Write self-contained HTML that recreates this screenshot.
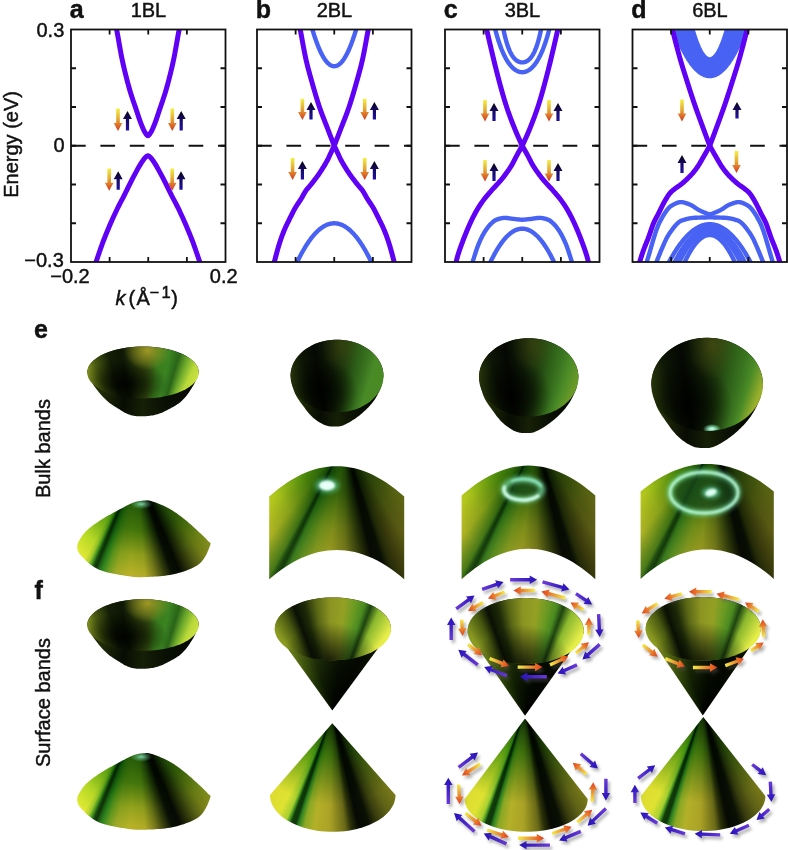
<!DOCTYPE html>
<html><head><meta charset="utf-8"><style>
html,body{margin:0;padding:0;background:#fff;width:788px;height:850px;overflow:hidden;}
body{position:relative;} .L{position:absolute;left:0;top:0;display:block;} .s{position:absolute;}
</style></head><body>
<svg class="L" style="filter:blur(0.35px)" width="788" height="850" viewBox="0 0 788 850"><defs>
<linearGradient id="gdn" x1="0" y1="0" x2="0" y2="1"><stop offset="0" stop-color="#f4f040"/><stop offset="0.5" stop-color="#e4a430"/><stop offset="1" stop-color="#d43420"/></linearGradient>
<linearGradient id="gup" x1="0" y1="1" x2="0" y2="0"><stop offset="0" stop-color="#2010a8"/><stop offset="0.55" stop-color="#160a60"/><stop offset="1" stop-color="#080210"/></linearGradient>
<clipPath id="cp0"><rect x="71" y="29.5" width="154.5" height="232.5"/></clipPath>
<clipPath id="cp1"><rect x="257" y="29.5" width="154.5" height="232.5"/></clipPath>
<clipPath id="cp2"><rect x="445" y="29.5" width="154.5" height="232.5"/></clipPath>
<clipPath id="cp3"><rect x="632.5" y="29.5" width="154.5" height="232.5"/></clipPath>
</defs>
<g clip-path="url(#cp0)">
<line x1="71" y1="145.75" x2="225.5" y2="145.75" stroke="#111" stroke-width="1.9" stroke-dasharray="14.7 14.7" stroke-dashoffset="0"/>
</g>
<g clip-path="url(#cp1)">
<line x1="257" y1="145.75" x2="411.5" y2="145.75" stroke="#111" stroke-width="1.9" stroke-dasharray="14.7 14.7" stroke-dashoffset="0"/>
</g>
<g clip-path="url(#cp2)">
<line x1="445" y1="145.75" x2="599.5" y2="145.75" stroke="#111" stroke-width="1.9" stroke-dasharray="14.7 14.7" stroke-dashoffset="0"/>
</g>
<g clip-path="url(#cp3)">
<line x1="632.5" y1="145.75" x2="787.0" y2="145.75" stroke="#111" stroke-width="1.9" stroke-dasharray="14.7 14.7" stroke-dashoffset="0"/>
</g>
<g clip-path="url(#cp0)" fill="none" stroke-linecap="butt" stroke-linejoin="round">
<path d="M113.9,17 L114.47,19.53 L115.04,22.12 L115.61,24.77 L116.19,27.49 L116.76,30.28 L117.33,33.22 L117.9,36.31 L118.47,39.5 L119.04,42.75 L119.61,46.02 L120.19,49.25 L120.76,52.41 L121.33,55.46 L121.9,58.34 L122.47,61.02 L123.04,63.61 L123.61,66.15 L124.19,68.62 L124.76,71.04 L125.33,73.41 L125.9,75.72 L126.47,77.98 L127.04,80.19 L127.61,82.35 L128.19,84.46 L128.76,86.52 L129.33,88.54 L129.9,90.51 L130.47,92.43 L131.04,94.27 L131.61,96.07 L132.19,97.82 L132.76,99.53 L133.33,101.22 L133.9,102.88 L134.47,104.54 L135.04,106.19 L135.61,107.85 L136.19,109.52 L136.76,111.21 L137.33,112.94 L137.9,114.68 L138.47,116.42 L139.04,118.14 L139.61,119.82 L140.19,121.45 L140.76,123 L141.33,124.46 L141.9,125.84 L142.47,127.2 L143.04,128.52 L143.61,129.78 L144.19,130.95 L144.76,132 L145.33,132.9 L145.9,133.73 L146.47,134.55 L147.04,135.23 L147.61,135.64 L148.19,135.64 L148.76,135.23 L149.33,134.55 L149.9,133.73 L150.47,132.9 L151.04,132 L151.61,130.95 L152.19,129.78 L152.76,128.52 L153.33,127.2 L153.9,125.84 L154.47,124.46 L155.04,123 L155.61,121.45 L156.19,119.82 L156.76,118.14 L157.33,116.42 L157.9,114.68 L158.47,112.94 L159.04,111.21 L159.61,109.52 L160.19,107.85 L160.76,106.19 L161.33,104.54 L161.9,102.88 L162.47,101.22 L163.04,99.53 L163.61,97.82 L164.19,96.07 L164.76,94.27 L165.33,92.43 L165.9,90.51 L166.47,88.54 L167.04,86.52 L167.61,84.46 L168.19,82.35 L168.76,80.19 L169.33,77.98 L169.9,75.72 L170.47,73.41 L171.04,71.04 L171.61,68.62 L172.19,66.15 L172.76,63.61 L173.33,61.02 L173.9,58.34 L174.47,55.46 L175.04,52.41 L175.61,49.25 L176.19,46.02 L176.76,42.75 L177.33,39.5 L177.9,36.31 L178.47,33.22 L179.04,30.28 L179.61,27.49 L180.19,24.77 L180.76,22.12 L181.33,19.53 L181.9,17" stroke="#6000f4" stroke-width="5.0"/>
<path d="M91.9,275 L92.84,271.98 L93.78,268.99 L94.72,266.05 L95.66,263.16 L96.61,260.33 L97.55,257.52 L98.49,254.72 L99.43,251.96 L100.37,249.24 L101.31,246.58 L102.25,243.98 L103.19,241.45 L104.14,239.01 L105.08,236.62 L106.02,234.27 L106.96,231.95 L107.9,229.68 L108.84,227.44 L109.78,225.24 L110.72,223.07 L111.66,220.93 L112.61,218.83 L113.55,216.75 L114.49,214.71 L115.43,212.69 L116.37,210.69 L117.31,208.73 L118.25,206.84 L119.19,205 L120.14,203.2 L121.08,201.41 L122.02,199.63 L122.96,197.83 L123.9,196 L124.84,194.13 L125.78,192.23 L126.72,190.32 L127.66,188.39 L128.61,186.47 L129.55,184.55 L130.49,182.64 L131.43,180.76 L132.37,178.91 L133.31,177.11 L134.25,175.34 L135.19,173.58 L136.14,171.83 L137.08,170.1 L138.02,168.4 L138.96,166.75 L139.9,165.15 L140.84,163.62 L141.78,162.17 L142.72,160.78 L143.66,159.42 L144.61,158.22 L145.55,157.27 L146.49,156.41 L147.43,155.79 L148.37,155.79 L149.31,156.41 L150.25,157.27 L151.19,158.22 L152.14,159.42 L153.08,160.78 L154.02,162.17 L154.96,163.62 L155.9,165.15 L156.84,166.75 L157.78,168.4 L158.72,170.1 L159.66,171.83 L160.61,173.58 L161.55,175.34 L162.49,177.11 L163.43,178.91 L164.37,180.76 L165.31,182.64 L166.25,184.55 L167.19,186.47 L168.14,188.39 L169.08,190.32 L170.02,192.23 L170.96,194.13 L171.9,196 L172.84,197.83 L173.78,199.63 L174.72,201.41 L175.66,203.2 L176.61,205 L177.55,206.84 L178.49,208.73 L179.43,210.69 L180.37,212.69 L181.31,214.71 L182.25,216.75 L183.19,218.83 L184.14,220.93 L185.08,223.07 L186.02,225.24 L186.96,227.44 L187.9,229.68 L188.84,231.95 L189.78,234.27 L190.72,236.62 L191.66,239.01 L192.61,241.45 L193.55,243.98 L194.49,246.58 L195.43,249.24 L196.37,251.96 L197.31,254.72 L198.25,257.52 L199.19,260.33 L200.14,263.16 L201.08,266.05 L202.02,268.99 L202.96,271.98 L203.9,275" stroke="#6000f4" stroke-width="5.0"/>
</g>
<g clip-path="url(#cp1)" fill="none" stroke-linecap="butt" stroke-linejoin="round">
<path d="M306.25,5.99 L306.6,7.5 L306.96,9 L307.31,10.47 L307.67,11.93 L308.02,13.37 L308.38,14.79 L308.73,16.19 L309.09,17.57 L309.44,18.93 L309.79,20.27 L310.15,21.59 L310.5,22.89 L310.86,24.17 L311.21,25.44 L311.57,26.68 L311.92,27.91 L312.28,29.11 L312.63,30.3 L312.98,31.47 L313.34,32.62 L313.69,33.75 L314.05,34.85 L314.4,35.94 L314.76,37.02 L315.11,38.07 L315.47,39.1 L315.82,40.11 L316.17,41.11 L316.53,42.08 L316.88,43.04 L317.24,43.97 L317.59,44.89 L317.95,45.79 L318.3,46.66 L318.66,47.52 L319.01,48.36 L319.36,49.18 L319.72,49.98 L320.07,50.76 L320.43,51.53 L320.78,52.27 L321.14,52.99 L321.49,53.7 L321.84,54.38 L322.2,55.05 L322.55,55.69 L322.91,56.32 L323.26,56.93 L323.62,57.52 L323.97,58.09 L324.33,58.64 L324.68,59.17 L325.03,59.68 L325.39,60.17 L325.74,60.64 L326.1,61.1 L326.45,61.53 L326.81,61.95 L327.16,62.34 L327.52,62.72 L327.87,63.07 L328.22,63.41 L328.58,63.73 L328.93,64.03 L329.29,64.31 L329.64,64.57 L330,64.81 L330.35,65.03 L330.71,65.24 L331.06,65.42 L331.41,65.58 L331.77,65.73 L332.12,65.85 L332.48,65.96 L332.83,66.05 L333.19,66.11 L333.54,66.16 L333.9,66.19 L334.25,66.2 L334.6,66.19 L334.96,66.16 L335.31,66.11 L335.67,66.05 L336.02,65.96 L336.38,65.85 L336.73,65.73 L337.09,65.58 L337.44,65.42 L337.79,65.24 L338.15,65.03 L338.5,64.81 L338.86,64.57 L339.21,64.31 L339.57,64.03 L339.92,63.73 L340.28,63.41 L340.63,63.07 L340.98,62.72 L341.34,62.34 L341.69,61.95 L342.05,61.53 L342.4,61.1 L342.76,60.64 L343.11,60.17 L343.47,59.68 L343.82,59.17 L344.17,58.64 L344.53,58.09 L344.88,57.52 L345.24,56.93 L345.59,56.32 L345.95,55.69 L346.3,55.05 L346.66,54.38 L347.01,53.7 L347.36,52.99 L347.72,52.27 L348.07,51.53 L348.43,50.76 L348.78,49.98 L349.14,49.18 L349.49,48.36 L349.84,47.52 L350.2,46.66 L350.55,45.79 L350.91,44.89 L351.26,43.97 L351.62,43.04 L351.97,42.08 L352.33,41.11 L352.68,40.11 L353.03,39.1 L353.39,38.07 L353.74,37.02 L354.1,35.94 L354.45,34.85 L354.81,33.75 L355.16,32.62 L355.52,31.47 L355.87,30.3 L356.22,29.11 L356.58,27.91 L356.93,26.68 L357.29,25.44 L357.64,24.17 L358,22.89 L358.35,21.59 L358.71,20.27 L359.06,18.93 L359.41,17.57 L359.77,16.19 L360.12,14.79 L360.48,13.37 L360.83,11.93 L361.19,10.47 L361.54,9 L361.9,7.5 L362.25,5.99" stroke="#4862f4" stroke-width="4.4"/>
<path d="M289.25,280.41 L289.82,278.97 L290.39,277.55 L290.96,276.15 L291.53,274.77 L292.1,273.41 L292.67,272.06 L293.24,270.73 L293.81,269.43 L294.38,268.13 L294.95,266.86 L295.52,265.61 L296.09,264.37 L296.66,263.16 L297.22,261.96 L297.79,260.78 L298.36,259.62 L298.93,258.47 L299.5,257.35 L300.07,256.24 L300.64,255.15 L301.21,254.08 L301.78,253.03 L302.35,251.99 L302.92,250.98 L303.49,249.98 L304.06,249 L304.63,248.04 L305.2,247.1 L305.77,246.17 L306.34,245.27 L306.91,244.38 L307.48,243.51 L308.05,242.66 L308.62,241.83 L309.19,241.01 L309.76,240.22 L310.33,239.44 L310.9,238.68 L311.47,237.94 L312.03,237.22 L312.6,236.51 L313.17,235.83 L313.74,235.16 L314.31,234.51 L314.88,233.88 L315.45,233.26 L316.02,232.67 L316.59,232.09 L317.16,231.53 L317.73,231 L318.3,230.47 L318.87,229.97 L319.44,229.49 L320.01,229.02 L320.58,228.57 L321.15,228.14 L321.72,227.73 L322.29,227.34 L322.86,226.96 L323.43,226.6 L324,226.26 L324.57,225.94 L325.14,225.64 L325.71,225.36 L326.28,225.09 L326.84,224.85 L327.41,224.62 L327.98,224.41 L328.55,224.21 L329.12,224.04 L329.69,223.89 L330.26,223.75 L330.83,223.63 L331.4,223.53 L331.97,223.45 L332.54,223.38 L333.11,223.34 L333.68,223.31 L334.25,223.3 L334.82,223.31 L335.39,223.34 L335.96,223.38 L336.53,223.45 L337.1,223.53 L337.67,223.63 L338.24,223.75 L338.81,223.89 L339.38,224.04 L339.95,224.21 L340.52,224.41 L341.09,224.62 L341.66,224.85 L342.22,225.09 L342.79,225.36 L343.36,225.64 L343.93,225.94 L344.5,226.26 L345.07,226.6 L345.64,226.96 L346.21,227.34 L346.78,227.73 L347.35,228.14 L347.92,228.57 L348.49,229.02 L349.06,229.49 L349.63,229.97 L350.2,230.47 L350.77,231 L351.34,231.53 L351.91,232.09 L352.48,232.67 L353.05,233.26 L353.62,233.88 L354.19,234.51 L354.76,235.16 L355.33,235.83 L355.9,236.51 L356.47,237.22 L357.03,237.94 L357.6,238.68 L358.17,239.44 L358.74,240.22 L359.31,241.01 L359.88,241.83 L360.45,242.66 L361.02,243.51 L361.59,244.38 L362.16,245.27 L362.73,246.17 L363.3,247.1 L363.87,248.04 L364.44,249 L365.01,249.98 L365.58,250.98 L366.15,251.99 L366.72,253.03 L367.29,254.08 L367.86,255.15 L368.43,256.24 L369,257.35 L369.57,258.47 L370.14,259.62 L370.71,260.78 L371.28,261.96 L371.84,263.16 L372.41,264.37 L372.98,265.61 L373.55,266.86 L374.12,268.13 L374.69,269.43 L375.26,270.73 L375.83,272.06 L376.4,273.41 L376.97,274.77 L377.54,276.15 L378.11,277.55 L378.68,278.97 L379.25,280.41" stroke="#4862f4" stroke-width="4.4"/>
<path d="M298.05,18 L298.36,19.62 L298.67,21.23 L298.98,22.85 L299.29,24.47 L299.6,26.09 L299.91,27.7 L300.22,29.32 L300.52,30.94 L300.83,32.55 L301.13,34.17 L301.42,35.79 L301.72,37.41 L302.01,39.02 L302.3,40.64 L302.6,42.26 L302.89,43.87 L303.19,45.49 L303.49,47.11 L303.79,48.72 L304.1,50.34 L304.42,51.96 L304.74,53.58 L305.07,55.19 L305.41,56.81 L305.75,58.43 L306.11,60.04 L306.48,61.66 L306.87,63.28 L307.26,64.9 L307.67,66.51 L308.09,68.13 L308.52,69.75 L308.96,71.36 L309.4,72.98 L309.84,74.6 L310.29,76.22 L310.74,77.83 L311.2,79.45 L311.65,81.07 L312.1,82.68 L312.56,84.3 L313.01,85.92 L313.47,87.53 L313.94,89.15 L314.41,90.77 L314.88,92.39 L315.36,94 L315.84,95.62 L316.33,97.24 L316.83,98.85 L317.33,100.47 L317.84,102.09 L318.36,103.71 L318.89,105.32 L319.43,106.94 L319.98,108.56 L320.55,110.17 L321.13,111.79 L321.73,113.41 L322.33,115.03 L322.95,116.64 L323.57,118.26 L324.2,119.88 L324.83,121.49 L325.47,123.11 L326.1,124.73 L326.73,126.34 L327.36,127.96 L327.99,129.58 L328.61,131.2 L329.23,132.81 L329.85,134.43 L330.48,136.05 L331.1,137.66 L331.73,139.28 L332.36,140.9 L332.99,142.52 L333.62,144.13 L334.25,145.75" stroke="#6000f4" stroke-width="5.0"/>
<path d="M334.25,145.75 L333.49,147.39 L332.72,149.02 L331.96,150.66 L331.18,152.29 L330.41,153.93 L329.66,155.57 L328.89,157.2 L328.1,158.84 L327.25,160.47 L326.35,162.11 L325.42,163.75 L324.46,165.38 L323.47,167.02 L322.44,168.66 L321.39,170.29 L320.32,171.93 L319.22,173.56 L318.08,175.2 L316.91,176.84 L315.7,178.47 L314.47,180.11 L313.2,181.74 L311.91,183.38 L310.6,185.02 L309.25,186.65 L307.77,188.29 L306.4,189.92 L305.3,191.56 L304.32,193.2 L303.41,194.83 L302.52,196.47 L301.59,198.1 L300.58,199.74 L299.5,201.38 L298.38,203.01 L297.27,204.65 L296.19,206.28 L295.2,207.92 L294.29,209.56 L293.45,211.19 L292.63,212.83 L291.82,214.47 L291,216.1 L290.17,217.74 L289.35,219.37 L288.53,221.01 L287.73,222.65 L286.94,224.28 L286.16,225.92 L285.41,227.55 L284.69,229.19 L284,230.83 L283.34,232.46 L282.71,234.1 L282.09,235.73 L281.5,237.37 L280.93,239.01 L280.37,240.64 L279.84,242.28 L279.31,243.91 L278.8,245.55 L278.3,247.19 L277.83,248.82 L277.37,250.46 L276.92,252.09 L276.48,253.73 L276.05,255.37 L275.62,257 L275.2,258.64 L274.76,260.28 L274.32,261.91 L273.88,263.55 L273.43,265.18 L272.99,266.82 L272.54,268.46 L272.09,270.09 L271.64,271.73 L271.2,273.36 L270.75,275" stroke="#6000f4" stroke-width="5.0"/>
<path d="M370.45,18 L370.14,19.62 L369.83,21.23 L369.52,22.85 L369.21,24.47 L368.9,26.09 L368.59,27.7 L368.28,29.32 L367.98,30.94 L367.67,32.55 L367.37,34.17 L367.08,35.79 L366.78,37.41 L366.49,39.02 L366.2,40.64 L365.9,42.26 L365.61,43.87 L365.31,45.49 L365.01,47.11 L364.71,48.72 L364.4,50.34 L364.08,51.96 L363.76,53.58 L363.43,55.19 L363.09,56.81 L362.75,58.43 L362.39,60.04 L362.02,61.66 L361.63,63.28 L361.24,64.9 L360.83,66.51 L360.41,68.13 L359.98,69.75 L359.54,71.36 L359.1,72.98 L358.66,74.6 L358.21,76.22 L357.76,77.83 L357.3,79.45 L356.85,81.07 L356.4,82.68 L355.94,84.3 L355.49,85.92 L355.03,87.53 L354.56,89.15 L354.09,90.77 L353.62,92.39 L353.14,94 L352.66,95.62 L352.17,97.24 L351.67,98.85 L351.17,100.47 L350.66,102.09 L350.14,103.71 L349.61,105.32 L349.07,106.94 L348.52,108.56 L347.95,110.17 L347.37,111.79 L346.77,113.41 L346.17,115.03 L345.55,116.64 L344.93,118.26 L344.3,119.88 L343.67,121.49 L343.03,123.11 L342.4,124.73 L341.77,126.34 L341.14,127.96 L340.51,129.58 L339.89,131.2 L339.27,132.81 L338.65,134.43 L338.02,136.05 L337.4,137.66 L336.77,139.28 L336.14,140.9 L335.51,142.52 L334.88,144.13 L334.25,145.75" stroke="#6000f4" stroke-width="5.0"/>
<path d="M334.25,145.75 L335.01,147.39 L335.78,149.02 L336.54,150.66 L337.32,152.29 L338.09,153.93 L338.84,155.57 L339.61,157.2 L340.4,158.84 L341.25,160.47 L342.15,162.11 L343.08,163.75 L344.04,165.38 L345.03,167.02 L346.06,168.66 L347.11,170.29 L348.18,171.93 L349.28,173.56 L350.42,175.2 L351.59,176.84 L352.8,178.47 L354.03,180.11 L355.3,181.74 L356.59,183.38 L357.9,185.02 L359.25,186.65 L360.73,188.29 L362.1,189.92 L363.2,191.56 L364.18,193.2 L365.09,194.83 L365.98,196.47 L366.91,198.1 L367.92,199.74 L369,201.38 L370.12,203.01 L371.23,204.65 L372.31,206.28 L373.3,207.92 L374.21,209.56 L375.05,211.19 L375.87,212.83 L376.68,214.47 L377.5,216.1 L378.33,217.74 L379.15,219.37 L379.97,221.01 L380.77,222.65 L381.56,224.28 L382.34,225.92 L383.09,227.55 L383.81,229.19 L384.5,230.83 L385.16,232.46 L385.79,234.1 L386.41,235.73 L387,237.37 L387.57,239.01 L388.13,240.64 L388.66,242.28 L389.19,243.91 L389.7,245.55 L390.2,247.19 L390.67,248.82 L391.13,250.46 L391.58,252.09 L392.02,253.73 L392.45,255.37 L392.88,257 L393.3,258.64 L393.74,260.28 L394.18,261.91 L394.62,263.55 L395.07,265.18 L395.51,266.82 L395.96,268.46 L396.41,270.09 L396.86,271.73 L397.3,273.36 L397.75,275" stroke="#6000f4" stroke-width="5.0"/>
</g>
<g clip-path="url(#cp2)" fill="none" stroke-linecap="butt" stroke-linejoin="round">
<path d="M498.25,-4.27 L498.55,-1.77 L498.86,0.67 L499.16,3.03 L499.47,5.32 L499.77,7.54 L500.07,9.69 L500.38,11.78 L500.68,13.8 L500.98,15.76 L501.29,17.66 L501.59,19.5 L501.9,21.28 L502.2,23 L502.5,24.66 L502.81,26.28 L503.11,27.83 L503.41,29.34 L503.72,30.8 L504.02,32.2 L504.33,33.56 L504.63,34.87 L504.93,36.14 L505.24,37.36 L505.54,38.54 L505.84,39.67 L506.15,40.77 L506.45,41.82 L506.76,42.84 L507.06,43.82 L507.36,44.76 L507.67,45.67 L507.97,46.54 L508.28,47.38 L508.58,48.18 L508.88,48.96 L509.19,49.7 L509.49,50.42 L509.79,51.1 L510.1,51.76 L510.4,52.39 L510.71,52.99 L511.01,53.57 L511.31,54.12 L511.62,54.65 L511.92,55.16 L512.22,55.64 L512.53,56.1 L512.83,56.54 L513.14,56.96 L513.44,57.36 L513.74,57.74 L514.05,58.1 L514.35,58.45 L514.66,58.77 L514.96,59.08 L515.26,59.37 L515.57,59.65 L515.87,59.91 L516.17,60.16 L516.48,60.39 L516.78,60.6 L517.09,60.81 L517.39,61 L517.69,61.17 L518,61.34 L518.3,61.49 L518.6,61.62 L518.91,61.75 L519.21,61.87 L519.52,61.97 L519.82,62.06 L520.12,62.14 L520.43,62.21 L520.73,62.27 L521.03,62.32 L521.34,62.35 L521.64,62.38 L521.95,62.39 L522.25,62.4 L522.55,62.39 L522.86,62.38 L523.16,62.35 L523.47,62.32 L523.77,62.27 L524.07,62.21 L524.38,62.14 L524.68,62.06 L524.98,61.97 L525.29,61.87 L525.59,61.75 L525.9,61.62 L526.2,61.49 L526.5,61.34 L526.81,61.17 L527.11,61 L527.41,60.81 L527.72,60.6 L528.02,60.39 L528.33,60.16 L528.63,59.91 L528.93,59.65 L529.24,59.37 L529.54,59.08 L529.84,58.77 L530.15,58.45 L530.45,58.1 L530.76,57.74 L531.06,57.36 L531.36,56.96 L531.67,56.54 L531.97,56.1 L532.28,55.64 L532.58,55.16 L532.88,54.65 L533.19,54.12 L533.49,53.57 L533.79,52.99 L534.1,52.39 L534.4,51.76 L534.71,51.1 L535.01,50.42 L535.31,49.7 L535.62,48.96 L535.92,48.18 L536.22,47.38 L536.53,46.54 L536.83,45.67 L537.14,44.76 L537.44,43.82 L537.74,42.84 L538.05,41.82 L538.35,40.77 L538.66,39.67 L538.96,38.54 L539.26,37.36 L539.57,36.14 L539.87,34.87 L540.17,33.56 L540.48,32.2 L540.78,30.8 L541.09,29.34 L541.39,27.83 L541.69,26.28 L542,24.66 L542.3,23 L542.6,21.28 L542.91,19.5 L543.21,17.66 L543.52,15.76 L543.82,13.8 L544.12,11.78 L544.43,9.69 L544.73,7.54 L545.03,5.32 L545.34,3.03 L545.64,0.67 L545.95,-1.77 L546.25,-4.27" stroke="#4862f4" stroke-width="4.4"/>
<path d="M490.25,7.39 L490.66,9.44 L491.06,11.44 L491.47,13.39 L491.87,15.29 L492.28,17.15 L492.68,18.97 L493.09,20.75 L493.49,22.48 L493.9,24.17 L494.3,25.82 L494.71,27.43 L495.11,29 L495.52,30.53 L495.92,32.02 L496.33,33.48 L496.73,34.9 L497.14,36.28 L497.54,37.63 L497.95,38.94 L498.35,40.22 L498.76,41.46 L499.16,42.68 L499.57,43.86 L499.97,45.01 L500.38,46.12 L500.78,47.21 L501.19,48.27 L501.59,49.3 L502,50.29 L502.4,51.26 L502.81,52.21 L503.21,53.12 L503.62,54.01 L504.02,54.87 L504.43,55.71 L504.83,56.52 L505.24,57.31 L505.64,58.07 L506.05,58.8 L506.45,59.52 L506.86,60.21 L507.26,60.88 L507.67,61.52 L508.07,62.14 L508.48,62.74 L508.88,63.32 L509.29,63.88 L509.69,64.42 L510.1,64.94 L510.5,65.44 L510.91,65.91 L511.31,66.37 L511.72,66.81 L512.12,67.23 L512.53,67.63 L512.93,68.02 L513.34,68.38 L513.74,68.73 L514.15,69.06 L514.55,69.37 L514.96,69.67 L515.36,69.94 L515.77,70.21 L516.17,70.45 L516.58,70.68 L516.98,70.89 L517.39,71.09 L517.79,71.26 L518.2,71.43 L518.6,71.58 L519.01,71.71 L519.41,71.82 L519.82,71.92 L520.22,72.01 L520.63,72.08 L521.03,72.13 L521.44,72.17 L521.84,72.19 L522.25,72.2 L522.66,72.19 L523.06,72.17 L523.47,72.13 L523.87,72.08 L524.28,72.01 L524.68,71.92 L525.09,71.82 L525.49,71.71 L525.9,71.58 L526.3,71.43 L526.71,71.26 L527.11,71.09 L527.52,70.89 L527.92,70.68 L528.33,70.45 L528.73,70.21 L529.14,69.94 L529.54,69.67 L529.95,69.37 L530.35,69.06 L530.76,68.73 L531.16,68.38 L531.57,68.02 L531.97,67.63 L532.38,67.23 L532.78,66.81 L533.19,66.37 L533.59,65.91 L534,65.44 L534.4,64.94 L534.81,64.42 L535.21,63.88 L535.62,63.32 L536.02,62.74 L536.43,62.14 L536.83,61.52 L537.24,60.88 L537.64,60.21 L538.05,59.52 L538.45,58.8 L538.86,58.07 L539.26,57.31 L539.67,56.52 L540.07,55.71 L540.48,54.87 L540.88,54.01 L541.29,53.12 L541.69,52.21 L542.1,51.26 L542.5,50.29 L542.91,49.3 L543.31,48.27 L543.72,47.21 L544.12,46.12 L544.53,45.01 L544.93,43.86 L545.34,42.68 L545.74,41.46 L546.15,40.22 L546.55,38.94 L546.96,37.63 L547.36,36.28 L547.77,34.9 L548.17,33.48 L548.58,32.02 L548.98,30.53 L549.39,29 L549.79,27.43 L550.2,25.82 L550.6,24.17 L551.01,22.48 L551.41,20.75 L551.82,18.97 L552.22,17.15 L552.63,15.29 L553.03,13.39 L553.44,11.44 L553.84,9.44 L554.25,7.39" stroke="#4862f4" stroke-width="4.4"/>
<path d="M466.25,280 L466.96,278.02 L467.67,276.02 L468.38,274.02 L469.09,272 L469.79,269.97 L470.5,267.94 L471.21,265.89 L471.92,263.83 L472.63,261.77 L473.34,259.63 L474.05,257.43 L474.76,255.19 L475.47,252.96 L476.17,250.77 L476.88,248.67 L477.59,246.69 L478.3,244.88 L479.01,243.17 L479.72,241.53 L480.43,239.95 L481.14,238.43 L481.84,236.98 L482.55,235.6 L483.26,234.29 L483.97,233.06 L484.68,231.9 L485.39,230.79 L486.1,229.71 L486.81,228.69 L487.52,227.71 L488.22,226.79 L488.93,225.93 L489.64,225.13 L490.35,224.4 L491.06,223.7 L491.77,223.01 L492.48,222.35 L493.19,221.73 L493.9,221.16 L494.6,220.66 L495.31,220.23 L496.02,219.89 L496.73,219.63 L497.44,219.38 L498.15,219.13 L498.86,218.91 L499.57,218.7 L500.28,218.5 L500.98,218.33 L501.69,218.18 L502.4,218.07 L503.11,217.98 L503.82,217.92 L504.53,217.9 L505.24,217.91 L505.95,217.94 L506.66,217.99 L507.36,218.06 L508.07,218.14 L508.78,218.24 L509.49,218.33 L510.2,218.44 L510.91,218.55 L511.62,218.65 L512.33,218.76 L513.03,218.85 L513.74,218.94 L514.45,219.02 L515.16,219.1 L515.87,219.17 L516.58,219.24 L517.29,219.32 L518,219.39 L518.71,219.46 L519.41,219.53 L520.12,219.6 L520.83,219.67 L521.54,219.73 L522.25,219.8 L522.96,219.73 L523.67,219.67 L524.38,219.6 L525.09,219.53 L525.79,219.46 L526.5,219.39 L527.21,219.32 L527.92,219.24 L528.63,219.17 L529.34,219.1 L530.05,219.02 L530.76,218.94 L531.47,218.85 L532.17,218.76 L532.88,218.65 L533.59,218.55 L534.3,218.44 L535.01,218.33 L535.72,218.24 L536.43,218.14 L537.14,218.06 L537.84,217.99 L538.55,217.94 L539.26,217.91 L539.97,217.9 L540.68,217.92 L541.39,217.98 L542.1,218.07 L542.81,218.18 L543.52,218.33 L544.22,218.5 L544.93,218.7 L545.64,218.91 L546.35,219.13 L547.06,219.38 L547.77,219.63 L548.48,219.89 L549.19,220.23 L549.9,220.66 L550.6,221.16 L551.31,221.73 L552.02,222.35 L552.73,223.01 L553.44,223.7 L554.15,224.4 L554.86,225.13 L555.57,225.93 L556.28,226.79 L556.98,227.71 L557.69,228.69 L558.4,229.71 L559.11,230.79 L559.82,231.9 L560.53,233.06 L561.24,234.29 L561.95,235.6 L562.66,236.98 L563.36,238.43 L564.07,239.95 L564.78,241.53 L565.49,243.17 L566.2,244.88 L566.91,246.69 L567.62,248.67 L568.33,250.77 L569.03,252.96 L569.74,255.19 L570.45,257.43 L571.16,259.63 L571.87,261.77 L572.58,263.83 L573.29,265.89 L574,267.94 L574.71,269.97 L575.41,272 L576.12,274.02 L576.83,276.02 L577.54,278.02 L578.25,280" stroke="#4862f4" stroke-width="4.4"/>
<path d="M480.25,286.91 L480.78,285.45 L481.31,284 L481.84,282.57 L482.38,281.17 L482.91,279.78 L483.44,278.41 L483.97,277.05 L484.5,275.72 L485.03,274.4 L485.57,273.11 L486.1,271.83 L486.63,270.57 L487.16,269.33 L487.69,268.11 L488.22,266.9 L488.76,265.72 L489.29,264.55 L489.82,263.41 L490.35,262.28 L490.88,261.17 L491.41,260.08 L491.95,259 L492.48,257.95 L493.01,256.92 L493.54,255.9 L494.07,254.9 L494.6,253.92 L495.14,252.96 L495.67,252.02 L496.2,251.09 L496.73,250.19 L497.26,249.3 L497.79,248.44 L498.33,247.59 L498.86,246.76 L499.39,245.95 L499.92,245.15 L500.45,244.38 L500.98,243.62 L501.52,242.89 L502.05,242.17 L502.58,241.47 L503.11,240.79 L503.64,240.13 L504.17,239.48 L504.71,238.86 L505.24,238.25 L505.77,237.66 L506.3,237.09 L506.83,236.54 L507.36,236.01 L507.9,235.5 L508.43,235.01 L508.96,234.53 L509.49,234.07 L510.02,233.63 L510.55,233.21 L511.09,232.81 L511.62,232.43 L512.15,232.07 L512.68,231.72 L513.21,231.4 L513.74,231.09 L514.28,230.8 L514.81,230.53 L515.34,230.28 L515.87,230.04 L516.4,229.83 L516.93,229.63 L517.47,229.46 L518,229.3 L518.53,229.16 L519.06,229.04 L519.59,228.93 L520.12,228.85 L520.66,228.78 L521.19,228.74 L521.72,228.71 L522.25,228.7 L522.78,228.71 L523.31,228.74 L523.84,228.78 L524.38,228.85 L524.91,228.93 L525.44,229.04 L525.97,229.16 L526.5,229.3 L527.03,229.46 L527.57,229.63 L528.1,229.83 L528.63,230.04 L529.16,230.28 L529.69,230.53 L530.22,230.8 L530.76,231.09 L531.29,231.4 L531.82,231.72 L532.35,232.07 L532.88,232.43 L533.41,232.81 L533.95,233.21 L534.48,233.63 L535.01,234.07 L535.54,234.53 L536.07,235.01 L536.6,235.5 L537.14,236.01 L537.67,236.54 L538.2,237.09 L538.73,237.66 L539.26,238.25 L539.79,238.86 L540.33,239.48 L540.86,240.13 L541.39,240.79 L541.92,241.47 L542.45,242.17 L542.98,242.89 L543.52,243.62 L544.05,244.38 L544.58,245.15 L545.11,245.95 L545.64,246.76 L546.17,247.59 L546.71,248.44 L547.24,249.3 L547.77,250.19 L548.3,251.09 L548.83,252.02 L549.36,252.96 L549.9,253.92 L550.43,254.9 L550.96,255.9 L551.49,256.92 L552.02,257.95 L552.55,259 L553.09,260.08 L553.62,261.17 L554.15,262.28 L554.68,263.41 L555.21,264.55 L555.74,265.72 L556.28,266.9 L556.81,268.11 L557.34,269.33 L557.87,270.57 L558.4,271.83 L558.93,273.11 L559.47,274.4 L560,275.72 L560.53,277.05 L561.06,278.41 L561.59,279.78 L562.12,281.17 L562.66,282.57 L563.19,284 L563.72,285.45 L564.25,286.91" stroke="#4862f4" stroke-width="4.4"/>
<path d="M484.05,18 L484.41,19.62 L484.77,21.23 L485.14,22.85 L485.5,24.47 L485.87,26.09 L486.24,27.7 L486.61,29.32 L486.98,30.94 L487.36,32.55 L487.73,34.17 L488.11,35.79 L488.48,37.41 L488.86,39.02 L489.23,40.64 L489.61,42.26 L489.98,43.87 L490.36,45.49 L490.74,47.11 L491.11,48.72 L491.49,50.34 L491.88,51.96 L492.26,53.58 L492.64,55.19 L493.03,56.81 L493.42,58.43 L493.81,60.04 L494.2,61.66 L494.6,63.28 L494.99,64.9 L495.39,66.51 L495.8,68.13 L496.2,69.75 L496.61,71.36 L497.02,72.98 L497.44,74.6 L497.86,76.22 L498.28,77.83 L498.7,79.45 L499.13,81.07 L499.57,82.68 L500,84.3 L500.44,85.92 L500.88,87.53 L501.32,89.15 L501.77,90.77 L502.23,92.39 L502.69,94 L503.15,95.62 L503.63,97.24 L504.11,98.85 L504.59,100.47 L505.09,102.09 L505.59,103.71 L506.11,105.32 L506.63,106.94 L507.17,108.56 L507.71,110.17 L508.27,111.79 L508.85,113.41 L509.43,115.03 L510.02,116.64 L510.63,118.26 L511.24,119.88 L511.86,121.49 L512.49,123.11 L513.13,124.73 L513.77,126.34 L514.42,127.96 L515.08,129.58 L515.74,131.2 L516.42,132.81 L517.11,134.43 L517.81,136.05 L518.53,137.66 L519.25,139.28 L519.99,140.9 L520.73,142.52 L521.49,144.13 L522.25,145.75" stroke="#6000f4" stroke-width="5.0"/>
<path d="M522.25,145.75 L521.31,147.39 L520.38,149.02 L519.46,150.66 L518.54,152.29 L517.64,153.93 L516.75,155.57 L515.9,157.2 L515.07,158.84 L514.25,160.47 L513.4,162.11 L512.52,163.75 L511.57,165.38 L510.56,167.02 L509.5,168.66 L508.39,170.29 L507.24,171.93 L506.06,173.56 L504.85,175.2 L503.61,176.84 L502.31,178.47 L500.96,180.11 L499.57,181.74 L498.11,183.38 L496.56,185.02 L495,186.65 L493.49,188.29 L492.03,189.92 L490.6,191.56 L489.19,193.2 L487.79,194.83 L486.4,196.47 L485.05,198.1 L483.79,199.74 L482.58,201.38 L481.42,203.01 L480.29,204.65 L479.22,206.28 L478.2,207.92 L477.23,209.56 L476.29,211.19 L475.38,212.83 L474.51,214.47 L473.65,216.1 L472.82,217.74 L472.01,219.37 L471.22,221.01 L470.46,222.65 L469.71,224.28 L468.98,225.92 L468.27,227.55 L467.57,229.19 L466.88,230.83 L466.2,232.46 L465.53,234.1 L464.88,235.73 L464.24,237.37 L463.6,239.01 L462.98,240.64 L462.37,242.28 L461.76,243.91 L461.16,245.55 L460.57,247.19 L459.98,248.82 L459.41,250.46 L458.87,252.09 L458.34,253.73 L457.85,255.37 L457.39,257 L456.94,258.64 L456.51,260.28 L456.07,261.91 L455.64,263.55 L455.21,265.18 L454.79,266.82 L454.37,268.46 L453.96,270.09 L453.55,271.73 L453.15,273.36 L452.75,275" stroke="#6000f4" stroke-width="5.0"/>
<path d="M560.45,18 L560.09,19.62 L559.73,21.23 L559.36,22.85 L559,24.47 L558.63,26.09 L558.26,27.7 L557.89,29.32 L557.52,30.94 L557.14,32.55 L556.77,34.17 L556.39,35.79 L556.02,37.41 L555.64,39.02 L555.27,40.64 L554.89,42.26 L554.52,43.87 L554.14,45.49 L553.76,47.11 L553.39,48.72 L553.01,50.34 L552.62,51.96 L552.24,53.58 L551.86,55.19 L551.47,56.81 L551.08,58.43 L550.69,60.04 L550.3,61.66 L549.9,63.28 L549.51,64.9 L549.11,66.51 L548.7,68.13 L548.3,69.75 L547.89,71.36 L547.48,72.98 L547.06,74.6 L546.64,76.22 L546.22,77.83 L545.8,79.45 L545.37,81.07 L544.93,82.68 L544.5,84.3 L544.06,85.92 L543.62,87.53 L543.18,89.15 L542.73,90.77 L542.27,92.39 L541.81,94 L541.35,95.62 L540.87,97.24 L540.39,98.85 L539.91,100.47 L539.41,102.09 L538.91,103.71 L538.39,105.32 L537.87,106.94 L537.33,108.56 L536.79,110.17 L536.23,111.79 L535.65,113.41 L535.07,115.03 L534.48,116.64 L533.87,118.26 L533.26,119.88 L532.64,121.49 L532.01,123.11 L531.37,124.73 L530.73,126.34 L530.08,127.96 L529.42,129.58 L528.76,131.2 L528.08,132.81 L527.39,134.43 L526.69,136.05 L525.97,137.66 L525.25,139.28 L524.51,140.9 L523.77,142.52 L523.01,144.13 L522.25,145.75" stroke="#6000f4" stroke-width="5.0"/>
<path d="M522.25,145.75 L523.19,147.39 L524.12,149.02 L525.04,150.66 L525.96,152.29 L526.86,153.93 L527.75,155.57 L528.6,157.2 L529.43,158.84 L530.25,160.47 L531.1,162.11 L531.98,163.75 L532.93,165.38 L533.94,167.02 L535,168.66 L536.11,170.29 L537.26,171.93 L538.44,173.56 L539.65,175.2 L540.89,176.84 L542.19,178.47 L543.54,180.11 L544.93,181.74 L546.39,183.38 L547.94,185.02 L549.5,186.65 L551.01,188.29 L552.47,189.92 L553.9,191.56 L555.31,193.2 L556.71,194.83 L558.1,196.47 L559.45,198.1 L560.71,199.74 L561.92,201.38 L563.08,203.01 L564.21,204.65 L565.28,206.28 L566.3,207.92 L567.27,209.56 L568.21,211.19 L569.12,212.83 L569.99,214.47 L570.85,216.1 L571.68,217.74 L572.49,219.37 L573.28,221.01 L574.04,222.65 L574.79,224.28 L575.52,225.92 L576.23,227.55 L576.93,229.19 L577.62,230.83 L578.3,232.46 L578.97,234.1 L579.62,235.73 L580.26,237.37 L580.9,239.01 L581.52,240.64 L582.13,242.28 L582.74,243.91 L583.34,245.55 L583.93,247.19 L584.52,248.82 L585.09,250.46 L585.63,252.09 L586.16,253.73 L586.65,255.37 L587.11,257 L587.56,258.64 L587.99,260.28 L588.43,261.91 L588.86,263.55 L589.29,265.18 L589.71,266.82 L590.13,268.46 L590.54,270.09 L590.95,271.73 L591.35,273.36 L591.75,275" stroke="#6000f4" stroke-width="5.0"/>
</g>
<g clip-path="url(#cp3)" fill="none" stroke-linecap="butt" stroke-linejoin="round">
<path d="M686.55,5 L686.84,6.37 L687.14,7.72 L687.43,9.05 L687.72,10.37 L688.02,11.67 L688.31,12.95 L688.61,14.21 L688.9,15.46 L689.19,16.69 L689.49,17.9 L689.78,19.1 L690.07,20.27 L690.37,21.43 L690.66,22.57 L690.96,23.7 L691.25,24.8 L691.54,25.89 L691.84,26.97 L692.13,28.02 L692.42,29.06 L692.72,30.08 L693.01,31.08 L693.3,32.07 L693.6,33.03 L693.89,33.98 L694.19,34.92 L694.48,35.83 L694.77,36.73 L695.07,37.61 L695.36,38.47 L695.65,39.32 L695.95,40.15 L696.24,40.96 L696.53,41.75 L696.83,42.53 L697.12,43.28 L697.42,44.02 L697.71,44.75 L698,45.45 L698.3,46.14 L698.59,46.81 L698.88,47.47 L699.18,48.1 L699.47,48.72 L699.77,49.32 L700.06,49.91 L700.35,50.47 L700.65,51.02 L700.94,51.56 L701.23,52.07 L701.53,52.57 L701.82,53.05 L702.11,53.51 L702.41,53.95 L702.7,54.38 L703,54.79 L703.29,55.18 L703.58,55.56 L703.88,55.91 L704.17,56.25 L704.46,56.58 L704.76,56.88 L705.05,57.17 L705.34,57.44 L705.64,57.69 L705.93,57.93 L706.23,58.14 L706.52,58.35 L706.81,58.53 L707.11,58.69 L707.4,58.84 L707.69,58.97 L707.99,59.09 L708.28,59.18 L708.58,59.26 L708.87,59.32 L709.16,59.37 L709.46,59.39 L709.75,59.4 L710.04,59.39 L710.34,59.37 L710.63,59.32 L710.92,59.26 L711.22,59.18 L711.51,59.09 L711.81,58.97 L712.1,58.84 L712.39,58.69 L712.69,58.53 L712.98,58.35 L713.27,58.14 L713.57,57.93 L713.86,57.69 L714.16,57.44 L714.45,57.17 L714.74,56.88 L715.04,56.58 L715.33,56.25 L715.62,55.91 L715.92,55.56 L716.21,55.18 L716.5,54.79 L716.8,54.38 L717.09,53.95 L717.39,53.51 L717.68,53.05 L717.97,52.57 L718.27,52.07 L718.56,51.56 L718.85,51.02 L719.15,50.47 L719.44,49.91 L719.73,49.32 L720.03,48.72 L720.32,48.1 L720.62,47.47 L720.91,46.81 L721.2,46.14 L721.5,45.45 L721.79,44.75 L722.08,44.02 L722.38,43.28 L722.67,42.53 L722.97,41.75 L723.26,40.96 L723.55,40.15 L723.85,39.32 L724.14,38.47 L724.43,37.61 L724.73,36.73 L725.02,35.83 L725.31,34.92 L725.61,33.98 L725.9,33.03 L726.2,32.07 L726.49,31.08 L726.78,30.08 L727.08,29.06 L727.37,28.02 L727.66,26.97 L727.96,25.89 L728.25,24.8 L728.54,23.7 L728.84,22.57 L729.13,21.43 L729.43,20.27 L729.72,19.1 L730.01,17.9 L730.31,16.69 L730.6,15.46 L730.89,14.21 L731.19,12.95 L731.48,11.67 L731.78,10.37 L732.07,9.05 L732.36,7.72 L732.66,6.37 L732.95,5" stroke="#4862f4" stroke-width="4.4"/>
<path d="M682.89,7.63 L683.23,9.01 L683.57,10.38 L683.91,11.73 L684.25,13.07 L684.59,14.38 L684.93,15.68 L685.27,16.96 L685.61,18.22 L685.95,19.47 L686.29,20.7 L686.63,21.91 L686.97,23.1 L687.31,24.27 L687.65,25.43 L687.99,26.57 L688.33,27.69 L688.67,28.8 L689.01,29.88 L689.35,30.95 L689.69,32 L690.03,33.03 L690.37,34.05 L690.71,35.05 L691.05,36.03 L691.39,36.99 L691.73,37.93 L692.07,38.86 L692.41,39.77 L692.75,40.66 L693.09,41.54 L693.43,42.39 L693.77,43.23 L694.11,44.05 L694.45,44.86 L694.79,45.64 L695.13,46.41 L695.47,47.16 L695.81,47.9 L696.15,48.61 L696.49,49.31 L696.83,49.99 L697.17,50.65 L697.51,51.3 L697.85,51.92 L698.19,52.53 L698.53,53.12 L698.87,53.7 L699.21,54.25 L699.55,54.79 L699.89,55.31 L700.23,55.82 L700.57,56.3 L700.91,56.77 L701.25,57.22 L701.59,57.65 L701.93,58.07 L702.27,58.47 L702.61,58.85 L702.95,59.21 L703.29,59.55 L703.63,59.88 L703.97,60.19 L704.31,60.48 L704.65,60.75 L704.99,61.01 L705.33,61.25 L705.67,61.47 L706.01,61.67 L706.35,61.86 L706.69,62.02 L707.03,62.17 L707.37,62.31 L707.71,62.42 L708.05,62.52 L708.39,62.6 L708.73,62.66 L709.07,62.7 L709.41,62.73 L709.75,62.74 L710.09,62.73 L710.43,62.7 L710.77,62.66 L711.11,62.6 L711.45,62.52 L711.79,62.42 L712.13,62.31 L712.47,62.17 L712.81,62.02 L713.15,61.86 L713.49,61.67 L713.83,61.47 L714.17,61.25 L714.51,61.01 L714.85,60.75 L715.19,60.48 L715.53,60.19 L715.87,59.88 L716.21,59.55 L716.55,59.21 L716.89,58.85 L717.23,58.47 L717.57,58.07 L717.91,57.65 L718.25,57.22 L718.59,56.77 L718.93,56.3 L719.27,55.82 L719.61,55.31 L719.95,54.79 L720.29,54.25 L720.63,53.7 L720.97,53.12 L721.31,52.53 L721.65,51.92 L721.99,51.3 L722.33,50.65 L722.67,49.99 L723.01,49.31 L723.35,48.61 L723.69,47.9 L724.03,47.16 L724.37,46.41 L724.71,45.64 L725.05,44.86 L725.39,44.05 L725.73,43.23 L726.07,42.39 L726.41,41.54 L726.75,40.66 L727.09,39.77 L727.43,38.86 L727.77,37.93 L728.11,36.99 L728.45,36.03 L728.79,35.05 L729.13,34.05 L729.47,33.03 L729.81,32 L730.15,30.95 L730.49,29.88 L730.83,28.8 L731.17,27.69 L731.51,26.57 L731.85,25.43 L732.19,24.27 L732.53,23.1 L732.87,21.91 L733.21,20.7 L733.55,19.47 L733.89,18.22 L734.23,16.96 L734.57,15.68 L734.91,14.38 L735.25,13.07 L735.59,11.73 L735.93,10.38 L736.27,9.01 L736.61,7.63" stroke="#4862f4" stroke-width="4.4"/>
<path d="M679.23,9.41 L679.62,10.83 L680,12.24 L680.39,13.63 L680.78,15 L681.16,16.35 L681.55,17.69 L681.93,19.01 L682.32,20.3 L682.71,21.58 L683.09,22.85 L683.48,24.09 L683.87,25.32 L684.25,26.52 L684.64,27.71 L685.02,28.89 L685.41,30.04 L685.8,31.17 L686.18,32.29 L686.57,33.39 L686.96,34.47 L687.34,35.53 L687.73,36.58 L688.12,37.6 L688.5,38.61 L688.89,39.6 L689.27,40.57 L689.66,41.53 L690.05,42.46 L690.43,43.38 L690.82,44.28 L691.21,45.16 L691.59,46.02 L691.98,46.87 L692.37,47.69 L692.75,48.5 L693.14,49.29 L693.52,50.06 L693.91,50.82 L694.3,51.55 L694.68,52.27 L695.07,52.97 L695.46,53.65 L695.84,54.31 L696.23,54.96 L696.61,55.58 L697,56.19 L697.39,56.78 L697.77,57.35 L698.16,57.91 L698.55,58.44 L698.93,58.96 L699.32,59.46 L699.71,59.94 L700.09,60.4 L700.48,60.85 L700.86,61.28 L701.25,61.68 L701.64,62.08 L702.02,62.45 L702.41,62.8 L702.8,63.14 L703.18,63.46 L703.57,63.76 L703.96,64.04 L704.34,64.3 L704.73,64.55 L705.11,64.77 L705.5,64.98 L705.89,65.17 L706.27,65.34 L706.66,65.5 L707.05,65.64 L707.43,65.75 L707.82,65.85 L708.2,65.93 L708.59,66 L708.98,66.04 L709.36,66.07 L709.75,66.08 L710.14,66.07 L710.52,66.04 L710.91,66 L711.3,65.93 L711.68,65.85 L712.07,65.75 L712.45,65.64 L712.84,65.5 L713.23,65.34 L713.61,65.17 L714,64.98 L714.39,64.77 L714.77,64.55 L715.16,64.3 L715.54,64.04 L715.93,63.76 L716.32,63.46 L716.7,63.14 L717.09,62.8 L717.48,62.45 L717.86,62.08 L718.25,61.68 L718.64,61.28 L719.02,60.85 L719.41,60.4 L719.79,59.94 L720.18,59.46 L720.57,58.96 L720.95,58.44 L721.34,57.91 L721.73,57.35 L722.11,56.78 L722.5,56.19 L722.89,55.58 L723.27,54.96 L723.66,54.31 L724.04,53.65 L724.43,52.97 L724.82,52.27 L725.2,51.55 L725.59,50.82 L725.98,50.06 L726.36,49.29 L726.75,48.5 L727.13,47.69 L727.52,46.87 L727.91,46.02 L728.29,45.16 L728.68,44.28 L729.07,43.38 L729.45,42.46 L729.84,41.53 L730.23,40.57 L730.61,39.6 L731,38.61 L731.38,37.6 L731.77,36.58 L732.16,35.53 L732.54,34.47 L732.93,33.39 L733.32,32.29 L733.7,31.17 L734.09,30.04 L734.48,28.89 L734.86,27.71 L735.25,26.52 L735.63,25.32 L736.02,24.09 L736.41,22.85 L736.79,21.58 L737.18,20.3 L737.57,19.01 L737.95,17.69 L738.34,16.35 L738.72,15 L739.11,13.63 L739.5,12.24 L739.88,10.83 L740.27,9.41" stroke="#4862f4" stroke-width="4.4"/>
<path d="M675.57,10.69 L676,12.17 L676.44,13.63 L676.87,15.07 L677.3,16.49 L677.73,17.89 L678.17,19.27 L678.6,20.64 L679.03,21.98 L679.46,23.31 L679.9,24.62 L680.33,25.91 L680.76,27.18 L681.19,28.43 L681.63,29.66 L682.06,30.88 L682.49,32.07 L682.93,33.25 L683.36,34.4 L683.79,35.54 L684.22,36.66 L684.66,37.76 L685.09,38.85 L685.52,39.91 L685.95,40.95 L686.39,41.98 L686.82,42.99 L687.25,43.97 L687.68,44.94 L688.12,45.89 L688.55,46.83 L688.98,47.74 L689.42,48.63 L689.85,49.51 L690.28,50.36 L690.71,51.2 L691.15,52.02 L691.58,52.82 L692.01,53.6 L692.44,54.36 L692.88,55.11 L693.31,55.83 L693.74,56.54 L694.17,57.22 L694.61,57.89 L695.04,58.54 L695.47,59.17 L695.9,59.78 L696.34,60.38 L696.77,60.95 L697.2,61.51 L697.64,62.04 L698.07,62.56 L698.5,63.06 L698.93,63.54 L699.37,64 L699.8,64.44 L700.23,64.87 L700.66,65.27 L701.1,65.66 L701.53,66.02 L701.96,66.37 L702.39,66.7 L702.83,67.01 L703.26,67.3 L703.69,67.58 L704.13,67.83 L704.56,68.06 L704.99,68.28 L705.42,68.48 L705.86,68.66 L706.29,68.82 L706.72,68.96 L707.15,69.08 L707.59,69.18 L708.02,69.27 L708.45,69.34 L708.88,69.38 L709.32,69.41 L709.75,69.42 L710.18,69.41 L710.62,69.38 L711.05,69.34 L711.48,69.27 L711.91,69.18 L712.35,69.08 L712.78,68.96 L713.21,68.82 L713.64,68.66 L714.08,68.48 L714.51,68.28 L714.94,68.06 L715.37,67.83 L715.81,67.58 L716.24,67.3 L716.67,67.01 L717.11,66.7 L717.54,66.37 L717.97,66.02 L718.4,65.66 L718.84,65.27 L719.27,64.87 L719.7,64.44 L720.13,64 L720.57,63.54 L721,63.06 L721.43,62.56 L721.86,62.04 L722.3,61.51 L722.73,60.95 L723.16,60.38 L723.6,59.78 L724.03,59.17 L724.46,58.54 L724.89,57.89 L725.33,57.22 L725.76,56.54 L726.19,55.83 L726.62,55.11 L727.06,54.36 L727.49,53.6 L727.92,52.82 L728.35,52.02 L728.79,51.2 L729.22,50.36 L729.65,49.51 L730.08,48.63 L730.52,47.74 L730.95,46.83 L731.38,45.89 L731.82,44.94 L732.25,43.97 L732.68,42.99 L733.11,41.98 L733.55,40.95 L733.98,39.91 L734.41,38.85 L734.84,37.76 L735.28,36.66 L735.71,35.54 L736.14,34.4 L736.57,33.25 L737.01,32.07 L737.44,30.88 L737.87,29.66 L738.31,28.43 L738.74,27.18 L739.17,25.91 L739.6,24.62 L740.04,23.31 L740.47,21.98 L740.9,20.64 L741.33,19.27 L741.77,17.89 L742.2,16.49 L742.63,15.07 L743.06,13.63 L743.5,12.17 L743.93,10.69" stroke="#4862f4" stroke-width="4.4"/>
<path d="M671.91,11.66 L672.39,13.2 L672.87,14.71 L673.35,16.21 L673.83,17.69 L674.3,19.15 L674.78,20.59 L675.26,22.01 L675.74,23.41 L676.22,24.79 L676.7,26.15 L677.18,27.49 L677.66,28.81 L678.14,30.11 L678.62,31.4 L679.09,32.66 L679.57,33.9 L680.05,35.13 L680.53,36.33 L681.01,37.52 L681.49,38.68 L681.97,39.83 L682.45,40.95 L682.93,42.06 L683.41,43.14 L683.88,44.21 L684.36,45.26 L684.84,46.29 L685.32,47.3 L685.8,48.28 L686.28,49.25 L686.76,50.2 L687.24,51.13 L687.72,52.04 L688.2,52.93 L688.67,53.81 L689.15,54.66 L689.63,55.49 L690.11,56.3 L690.59,57.1 L691.07,57.87 L691.55,58.62 L692.03,59.36 L692.51,60.07 L692.99,60.77 L693.46,61.44 L693.94,62.1 L694.42,62.73 L694.9,63.35 L695.38,63.95 L695.86,64.53 L696.34,65.08 L696.82,65.62 L697.3,66.14 L697.78,66.64 L698.25,67.12 L698.73,67.58 L699.21,68.02 L699.69,68.44 L700.17,68.84 L700.65,69.23 L701.13,69.59 L701.61,69.93 L702.09,70.25 L702.57,70.56 L703.04,70.84 L703.52,71.11 L704,71.35 L704.48,71.58 L704.96,71.78 L705.44,71.97 L705.92,72.13 L706.4,72.28 L706.88,72.41 L707.36,72.52 L707.83,72.6 L708.31,72.67 L708.79,72.72 L709.27,72.75 L709.75,72.76 L710.23,72.75 L710.71,72.72 L711.19,72.67 L711.67,72.6 L712.14,72.52 L712.62,72.41 L713.1,72.28 L713.58,72.13 L714.06,71.97 L714.54,71.78 L715.02,71.58 L715.5,71.35 L715.98,71.11 L716.46,70.84 L716.93,70.56 L717.41,70.25 L717.89,69.93 L718.37,69.59 L718.85,69.23 L719.33,68.84 L719.81,68.44 L720.29,68.02 L720.77,67.58 L721.25,67.12 L721.72,66.64 L722.2,66.14 L722.68,65.62 L723.16,65.08 L723.64,64.53 L724.12,63.95 L724.6,63.35 L725.08,62.73 L725.56,62.1 L726.04,61.44 L726.51,60.77 L726.99,60.07 L727.47,59.36 L727.95,58.62 L728.43,57.87 L728.91,57.1 L729.39,56.3 L729.87,55.49 L730.35,54.66 L730.83,53.81 L731.3,52.93 L731.78,52.04 L732.26,51.13 L732.74,50.2 L733.22,49.25 L733.7,48.28 L734.18,47.3 L734.66,46.29 L735.14,45.26 L735.62,44.21 L736.09,43.14 L736.57,42.06 L737.05,40.95 L737.53,39.83 L738.01,38.68 L738.49,37.52 L738.97,36.33 L739.45,35.13 L739.93,33.9 L740.41,32.66 L740.88,31.4 L741.36,30.11 L741.84,28.81 L742.32,27.49 L742.8,26.15 L743.28,24.79 L743.76,23.41 L744.24,22.01 L744.72,20.59 L745.2,19.15 L745.67,17.69 L746.15,16.21 L746.63,14.71 L747.11,13.2 L747.59,11.66" stroke="#4862f4" stroke-width="4.4"/>
<path d="M668.25,12.42 L668.78,14.02 L669.3,15.6 L669.83,17.16 L670.35,18.7 L670.88,20.22 L671.4,21.72 L671.93,23.2 L672.45,24.66 L672.98,26.1 L673.5,27.52 L674.03,28.92 L674.55,30.29 L675.08,31.65 L675.6,32.99 L676.13,34.3 L676.66,35.6 L677.18,36.88 L677.71,38.13 L678.23,39.37 L678.76,40.58 L679.28,41.77 L679.81,42.95 L680.33,44.1 L680.86,45.23 L681.38,46.35 L681.91,47.44 L682.43,48.51 L682.96,49.56 L683.48,50.59 L684.01,51.6 L684.53,52.59 L685.06,53.56 L685.59,54.51 L686.11,55.44 L686.64,56.35 L687.16,57.23 L687.69,58.1 L688.21,58.95 L688.74,59.77 L689.26,60.58 L689.79,61.37 L690.31,62.13 L690.84,62.88 L691.36,63.6 L691.89,64.3 L692.41,64.99 L692.94,65.65 L693.47,66.29 L693.99,66.92 L694.52,67.52 L695.04,68.1 L695.57,68.66 L696.09,69.2 L696.62,69.72 L697.14,70.22 L697.67,70.7 L698.19,71.16 L698.72,71.6 L699.24,72.02 L699.77,72.42 L700.29,72.79 L700.82,73.15 L701.34,73.49 L701.87,73.8 L702.4,74.1 L702.92,74.38 L703.45,74.63 L703.97,74.87 L704.5,75.08 L705.02,75.27 L705.55,75.45 L706.07,75.6 L706.6,75.73 L707.12,75.84 L707.65,75.94 L708.17,76.01 L708.7,76.06 L709.22,76.09 L709.75,76.1 L710.28,76.09 L710.8,76.06 L711.33,76.01 L711.85,75.94 L712.38,75.84 L712.9,75.73 L713.43,75.6 L713.95,75.45 L714.48,75.27 L715,75.08 L715.53,74.87 L716.05,74.63 L716.58,74.38 L717.1,74.1 L717.63,73.8 L718.16,73.49 L718.68,73.15 L719.21,72.79 L719.73,72.42 L720.26,72.02 L720.78,71.6 L721.31,71.16 L721.83,70.7 L722.36,70.22 L722.88,69.72 L723.41,69.2 L723.93,68.66 L724.46,68.1 L724.98,67.52 L725.51,66.92 L726.03,66.29 L726.56,65.65 L727.09,64.99 L727.61,64.3 L728.14,63.6 L728.66,62.88 L729.19,62.13 L729.71,61.37 L730.24,60.58 L730.76,59.77 L731.29,58.95 L731.81,58.1 L732.34,57.23 L732.86,56.35 L733.39,55.44 L733.91,54.51 L734.44,53.56 L734.97,52.59 L735.49,51.6 L736.02,50.59 L736.54,49.56 L737.07,48.51 L737.59,47.44 L738.12,46.35 L738.64,45.23 L739.17,44.1 L739.69,42.95 L740.22,41.77 L740.74,40.58 L741.27,39.37 L741.79,38.13 L742.32,36.88 L742.84,35.6 L743.37,34.3 L743.9,32.99 L744.42,31.65 L744.95,30.29 L745.47,28.92 L746,27.52 L746.52,26.1 L747.05,24.66 L747.57,23.2 L748.1,21.72 L748.62,20.22 L749.15,18.7 L749.67,17.16 L750.2,15.6 L750.72,14.02 L751.25,12.42" stroke="#4862f4" stroke-width="4.4"/>
<path d="M639.75,285 L640.64,282.03 L641.52,279.07 L642.41,276.13 L643.29,273.21 L644.18,270.3 L645.07,267.41 L645.95,264.55 L646.84,261.72 L647.72,258.83 L648.61,255.85 L649.5,252.81 L650.38,249.74 L651.27,246.67 L652.16,243.61 L653.04,240.59 L653.93,237.65 L654.81,234.81 L655.7,232.09 L656.59,229.52 L657.47,227.14 L658.36,224.95 L659.24,223 L660.13,221.28 L661.02,219.64 L661.9,218.04 L662.79,216.48 L663.67,214.99 L664.56,213.56 L665.45,212.2 L666.33,210.93 L667.22,209.76 L668.1,208.68 L668.99,207.71 L669.88,206.87 L670.76,206.14 L671.65,205.56 L672.53,205.06 L673.42,204.58 L674.31,204.11 L675.19,203.68 L676.08,203.28 L676.97,202.92 L677.85,202.62 L678.74,202.38 L679.62,202.21 L680.51,202.12 L681.4,202.11 L682.28,202.17 L683.17,202.31 L684.05,202.51 L684.94,202.75 L685.83,203.03 L686.71,203.34 L687.6,203.68 L688.48,204.02 L689.37,204.36 L690.26,204.7 L691.14,205.12 L692.03,205.61 L692.91,206.15 L693.8,206.73 L694.69,207.33 L695.57,207.95 L696.46,208.55 L697.34,209.13 L698.23,209.68 L699.12,210.18 L700,210.62 L700.89,211.03 L701.78,211.43 L702.66,211.82 L703.55,212.2 L704.43,212.56 L705.32,212.91 L706.21,213.24 L707.09,213.56 L707.98,213.86 L708.86,214.14 L709.75,214.4 L710.64,214.14 L711.52,213.86 L712.41,213.56 L713.29,213.24 L714.18,212.91 L715.07,212.56 L715.95,212.2 L716.84,211.82 L717.72,211.43 L718.61,211.03 L719.5,210.62 L720.38,210.18 L721.27,209.68 L722.16,209.13 L723.04,208.55 L723.93,207.95 L724.81,207.33 L725.7,206.73 L726.59,206.15 L727.47,205.61 L728.36,205.12 L729.24,204.7 L730.13,204.36 L731.02,204.02 L731.9,203.68 L732.79,203.34 L733.67,203.03 L734.56,202.75 L735.45,202.51 L736.33,202.31 L737.22,202.17 L738.1,202.11 L738.99,202.12 L739.88,202.21 L740.76,202.38 L741.65,202.62 L742.53,202.92 L743.42,203.28 L744.31,203.68 L745.19,204.11 L746.08,204.58 L746.97,205.06 L747.85,205.56 L748.74,206.14 L749.62,206.87 L750.51,207.71 L751.4,208.68 L752.28,209.76 L753.17,210.93 L754.05,212.2 L754.94,213.56 L755.83,214.99 L756.71,216.48 L757.6,218.04 L758.48,219.64 L759.37,221.28 L760.26,223 L761.14,224.95 L762.03,227.14 L762.91,229.52 L763.8,232.09 L764.69,234.81 L765.57,237.65 L766.46,240.59 L767.34,243.61 L768.23,246.67 L769.12,249.74 L770,252.81 L770.89,255.85 L771.78,258.83 L772.66,261.72 L773.55,264.55 L774.43,267.41 L775.32,270.3 L776.21,273.21 L777.09,276.13 L777.98,279.07 L778.86,282.03 L779.75,285" stroke="#4862f4" stroke-width="4.4"/>
<path d="M649.75,280 L650.51,277.84 L651.27,275.7 L652.03,273.58 L652.79,271.5 L653.55,269.44 L654.31,267.43 L655.07,265.46 L655.83,263.54 L656.59,261.67 L657.34,259.81 L658.1,257.93 L658.86,256.05 L659.62,254.16 L660.38,252.29 L661.14,250.43 L661.9,248.6 L662.66,246.8 L663.42,245.04 L664.18,243.33 L664.94,241.68 L665.7,240.09 L666.46,238.57 L667.22,237.13 L667.98,235.77 L668.74,234.52 L669.5,233.36 L670.26,232.29 L671.02,231.23 L671.78,230.19 L672.53,229.16 L673.29,228.16 L674.05,227.19 L674.81,226.26 L675.57,225.37 L676.33,224.53 L677.09,223.75 L677.85,223.02 L678.61,222.37 L679.37,221.78 L680.13,221.28 L680.89,220.86 L681.65,220.54 L682.41,220.27 L683.17,220.02 L683.93,219.79 L684.69,219.56 L685.45,219.34 L686.21,219.14 L686.97,218.95 L687.72,218.78 L688.48,218.61 L689.24,218.46 L690,218.32 L690.76,218.2 L691.52,218.09 L692.28,218 L693.04,217.92 L693.8,217.86 L694.56,217.81 L695.32,217.77 L696.08,217.74 L696.84,217.7 L697.6,217.67 L698.36,217.64 L699.12,217.61 L699.88,217.58 L700.64,217.56 L701.4,217.53 L702.16,217.51 L702.91,217.49 L703.67,217.47 L704.43,217.46 L705.19,217.44 L705.95,217.43 L706.71,217.42 L707.47,217.41 L708.23,217.4 L708.99,217.4 L709.75,217.4 L710.51,217.4 L711.27,217.4 L712.03,217.41 L712.79,217.42 L713.55,217.43 L714.31,217.44 L715.07,217.46 L715.83,217.47 L716.59,217.49 L717.34,217.51 L718.1,217.53 L718.86,217.56 L719.62,217.58 L720.38,217.61 L721.14,217.64 L721.9,217.67 L722.66,217.7 L723.42,217.74 L724.18,217.77 L724.94,217.81 L725.7,217.86 L726.46,217.92 L727.22,218 L727.98,218.09 L728.74,218.2 L729.5,218.32 L730.26,218.46 L731.02,218.61 L731.78,218.78 L732.53,218.95 L733.29,219.14 L734.05,219.34 L734.81,219.56 L735.57,219.79 L736.33,220.02 L737.09,220.27 L737.85,220.54 L738.61,220.86 L739.37,221.28 L740.13,221.78 L740.89,222.37 L741.65,223.02 L742.41,223.75 L743.17,224.53 L743.93,225.37 L744.69,226.26 L745.45,227.19 L746.21,228.16 L746.97,229.16 L747.72,230.19 L748.48,231.23 L749.24,232.29 L750,233.36 L750.76,234.52 L751.52,235.77 L752.28,237.13 L753.04,238.57 L753.8,240.09 L754.56,241.68 L755.32,243.33 L756.08,245.04 L756.84,246.8 L757.6,248.6 L758.36,250.43 L759.12,252.29 L759.88,254.16 L760.64,256.05 L761.4,257.93 L762.16,259.81 L762.91,261.67 L763.67,263.54 L764.43,265.46 L765.19,267.43 L765.95,269.44 L766.71,271.5 L767.47,273.58 L768.23,275.7 L768.99,277.84 L769.75,280" stroke="#4862f4" stroke-width="4.4"/>
<path d="M661.75,276.73 L662.36,275.41 L662.97,274.11 L663.57,272.82 L664.18,271.55 L664.79,270.29 L665.4,269.05 L666,267.83 L666.61,266.63 L667.22,265.44 L667.83,264.27 L668.43,263.12 L669.04,261.98 L669.65,260.86 L670.26,259.76 L670.86,258.68 L671.47,257.61 L672.08,256.56 L672.69,255.52 L673.29,254.5 L673.9,253.5 L674.51,252.52 L675.12,251.55 L675.72,250.6 L676.33,249.66 L676.94,248.74 L677.55,247.84 L678.16,246.96 L678.76,246.09 L679.37,245.24 L679.98,244.41 L680.59,243.59 L681.19,242.79 L681.8,242.01 L682.41,241.24 L683.02,240.5 L683.62,239.76 L684.23,239.05 L684.84,238.35 L685.45,237.67 L686.05,237 L686.66,236.35 L687.27,235.72 L687.88,235.11 L688.48,234.51 L689.09,233.93 L689.7,233.37 L690.31,232.82 L690.91,232.29 L691.52,231.78 L692.13,231.28 L692.74,230.8 L693.34,230.34 L693.95,229.89 L694.56,229.46 L695.17,229.05 L695.78,228.65 L696.38,228.27 L696.99,227.91 L697.6,227.57 L698.21,227.24 L698.81,226.93 L699.42,226.63 L700.03,226.35 L700.64,226.09 L701.24,225.85 L701.85,225.62 L702.46,225.41 L703.07,225.22 L703.67,225.04 L704.28,224.88 L704.89,224.74 L705.5,224.61 L706.1,224.5 L706.71,224.41 L707.32,224.33 L707.93,224.28 L708.53,224.23 L709.14,224.21 L709.75,224.2 L710.36,224.21 L710.97,224.23 L711.57,224.28 L712.18,224.33 L712.79,224.41 L713.4,224.5 L714,224.61 L714.61,224.74 L715.22,224.88 L715.83,225.04 L716.43,225.22 L717.04,225.41 L717.65,225.62 L718.26,225.85 L718.86,226.09 L719.47,226.35 L720.08,226.63 L720.69,226.93 L721.29,227.24 L721.9,227.57 L722.51,227.91 L723.12,228.27 L723.72,228.65 L724.33,229.05 L724.94,229.46 L725.55,229.89 L726.16,230.34 L726.76,230.8 L727.37,231.28 L727.98,231.78 L728.59,232.29 L729.19,232.82 L729.8,233.37 L730.41,233.93 L731.02,234.51 L731.62,235.11 L732.23,235.72 L732.84,236.35 L733.45,237 L734.05,237.67 L734.66,238.35 L735.27,239.05 L735.88,239.76 L736.48,240.5 L737.09,241.24 L737.7,242.01 L738.31,242.79 L738.91,243.59 L739.52,244.41 L740.13,245.24 L740.74,246.09 L741.34,246.96 L741.95,247.84 L742.56,248.74 L743.17,249.66 L743.78,250.6 L744.38,251.55 L744.99,252.52 L745.6,253.5 L746.21,254.5 L746.81,255.52 L747.42,256.56 L748.03,257.61 L748.64,258.68 L749.24,259.76 L749.85,260.86 L750.46,261.98 L751.07,263.12 L751.67,264.27 L752.28,265.44 L752.89,266.63 L753.5,267.83 L754.1,269.05 L754.71,270.29 L755.32,271.55 L755.93,272.82 L756.53,274.11 L757.14,275.41 L757.75,276.73" stroke="#4862f4" stroke-width="4.4"/>
<path d="M661.75,292.05 L662.36,290.44 L662.97,288.85 L663.57,287.28 L664.18,285.73 L664.79,284.2 L665.4,282.69 L666,281.2 L666.61,279.74 L667.22,278.29 L667.83,276.86 L668.43,275.46 L669.04,274.07 L669.65,272.71 L670.26,271.36 L670.86,270.04 L671.47,268.73 L672.08,267.45 L672.69,266.19 L673.29,264.95 L673.9,263.73 L674.51,262.52 L675.12,261.34 L675.72,260.18 L676.33,259.05 L676.94,257.93 L677.55,256.83 L678.16,255.75 L678.76,254.69 L679.37,253.66 L679.98,252.64 L680.59,251.65 L681.19,250.67 L681.8,249.72 L682.41,248.78 L683.02,247.87 L683.62,246.98 L684.23,246.1 L684.84,245.25 L685.45,244.42 L686.05,243.61 L686.66,242.82 L687.27,242.05 L687.88,241.3 L688.48,240.57 L689.09,239.86 L689.7,239.18 L690.31,238.51 L690.91,237.86 L691.52,237.24 L692.13,236.63 L692.74,236.05 L693.34,235.48 L693.95,234.94 L694.56,234.41 L695.17,233.91 L695.78,233.43 L696.38,232.97 L696.99,232.53 L697.6,232.11 L698.21,231.7 L698.81,231.33 L699.42,230.97 L700.03,230.63 L700.64,230.31 L701.24,230.01 L701.85,229.73 L702.46,229.48 L703.07,229.24 L703.67,229.03 L704.28,228.83 L704.89,228.66 L705.5,228.5 L706.1,228.37 L706.71,228.26 L707.32,228.16 L707.93,228.09 L708.53,228.04 L709.14,228.01 L709.75,228 L710.36,228.01 L710.97,228.04 L711.57,228.09 L712.18,228.16 L712.79,228.26 L713.4,228.37 L714,228.5 L714.61,228.66 L715.22,228.83 L715.83,229.03 L716.43,229.24 L717.04,229.48 L717.65,229.73 L718.26,230.01 L718.86,230.31 L719.47,230.63 L720.08,230.97 L720.69,231.33 L721.29,231.7 L721.9,232.11 L722.51,232.53 L723.12,232.97 L723.72,233.43 L724.33,233.91 L724.94,234.41 L725.55,234.94 L726.16,235.48 L726.76,236.05 L727.37,236.63 L727.98,237.24 L728.59,237.86 L729.19,238.51 L729.8,239.18 L730.41,239.86 L731.02,240.57 L731.62,241.3 L732.23,242.05 L732.84,242.82 L733.45,243.61 L734.05,244.42 L734.66,245.25 L735.27,246.1 L735.88,246.98 L736.48,247.87 L737.09,248.78 L737.7,249.72 L738.31,250.67 L738.91,251.65 L739.52,252.64 L740.13,253.66 L740.74,254.69 L741.34,255.75 L741.95,256.83 L742.56,257.93 L743.17,259.05 L743.78,260.18 L744.38,261.34 L744.99,262.52 L745.6,263.73 L746.21,264.95 L746.81,266.19 L747.42,267.45 L748.03,268.73 L748.64,270.04 L749.24,271.36 L749.85,272.71 L750.46,274.07 L751.07,275.46 L751.67,276.86 L752.28,278.29 L752.89,279.74 L753.5,281.2 L754.1,282.69 L754.71,284.2 L755.32,285.73 L755.93,287.28 L756.53,288.85 L757.14,290.44 L757.75,292.05" stroke="#4862f4" stroke-width="4.4"/>
<path d="M661.75,307.07 L662.36,305.17 L662.97,303.29 L663.57,301.44 L664.18,299.61 L664.79,297.81 L665.4,296.03 L666,294.27 L666.61,292.54 L667.22,290.83 L667.83,289.15 L668.43,287.49 L669.04,285.86 L669.65,284.25 L670.26,282.66 L670.86,281.1 L671.47,279.56 L672.08,278.05 L672.69,276.56 L673.29,275.09 L673.9,273.65 L674.51,272.23 L675.12,270.84 L675.72,269.47 L676.33,268.13 L676.94,266.81 L677.55,265.51 L678.16,264.24 L678.76,263 L679.37,261.77 L679.98,260.57 L680.59,259.4 L681.19,258.25 L681.8,257.12 L682.41,256.02 L683.02,254.94 L683.62,253.89 L684.23,252.86 L684.84,251.85 L685.45,250.87 L686.05,249.92 L686.66,248.99 L687.27,248.08 L687.88,247.19 L688.48,246.33 L689.09,245.5 L689.7,244.69 L690.31,243.9 L690.91,243.14 L691.52,242.4 L692.13,241.68 L692.74,240.99 L693.34,240.33 L693.95,239.69 L694.56,239.07 L695.17,238.47 L695.78,237.91 L696.38,237.36 L696.99,236.84 L697.6,236.34 L698.21,235.87 L698.81,235.42 L699.42,235 L700.03,234.6 L700.64,234.22 L701.24,233.87 L701.85,233.55 L702.46,233.24 L703.07,232.97 L703.67,232.71 L704.28,232.48 L704.89,232.27 L705.5,232.09 L706.1,231.94 L706.71,231.8 L707.32,231.69 L707.93,231.61 L708.53,231.55 L709.14,231.51 L709.75,231.5 L710.36,231.51 L710.97,231.55 L711.57,231.61 L712.18,231.69 L712.79,231.8 L713.4,231.94 L714,232.09 L714.61,232.27 L715.22,232.48 L715.83,232.71 L716.43,232.97 L717.04,233.24 L717.65,233.55 L718.26,233.87 L718.86,234.22 L719.47,234.6 L720.08,235 L720.69,235.42 L721.29,235.87 L721.9,236.34 L722.51,236.84 L723.12,237.36 L723.72,237.91 L724.33,238.47 L724.94,239.07 L725.55,239.69 L726.16,240.33 L726.76,240.99 L727.37,241.68 L727.98,242.4 L728.59,243.14 L729.19,243.9 L729.8,244.69 L730.41,245.5 L731.02,246.33 L731.62,247.19 L732.23,248.08 L732.84,248.99 L733.45,249.92 L734.05,250.87 L734.66,251.85 L735.27,252.86 L735.88,253.89 L736.48,254.94 L737.09,256.02 L737.7,257.12 L738.31,258.25 L738.91,259.4 L739.52,260.57 L740.13,261.77 L740.74,263 L741.34,264.24 L741.95,265.51 L742.56,266.81 L743.17,268.13 L743.78,269.47 L744.38,270.84 L744.99,272.23 L745.6,273.65 L746.21,275.09 L746.81,276.56 L747.42,278.05 L748.03,279.56 L748.64,281.1 L749.24,282.66 L749.85,284.25 L750.46,285.86 L751.07,287.49 L751.67,289.15 L752.28,290.83 L752.89,292.54 L753.5,294.27 L754.1,296.03 L754.71,297.81 L755.32,299.61 L755.93,301.44 L756.53,303.29 L757.14,305.17 L757.75,307.07" stroke="#4862f4" stroke-width="4.4"/>
<path d="M661.75,334.53 L662.36,332.03 L662.97,329.56 L663.57,327.12 L664.18,324.71 L664.79,322.33 L665.4,319.99 L666,317.68 L666.61,315.39 L667.22,313.15 L667.83,310.93 L668.43,308.74 L669.04,306.59 L669.65,304.47 L670.26,302.38 L670.86,300.32 L671.47,298.3 L672.08,296.3 L672.69,294.34 L673.29,292.41 L673.9,290.52 L674.51,288.65 L675.12,286.82 L675.72,285.01 L676.33,283.24 L676.94,281.5 L677.55,279.8 L678.16,278.12 L678.76,276.48 L679.37,274.87 L679.98,273.29 L680.59,271.74 L681.19,270.23 L681.8,268.75 L682.41,267.3 L683.02,265.88 L683.62,264.49 L684.23,263.13 L684.84,261.81 L685.45,260.52 L686.05,259.26 L686.66,258.03 L687.27,256.83 L687.88,255.67 L688.48,254.54 L689.09,253.44 L689.7,252.37 L690.31,251.33 L690.91,250.33 L691.52,249.35 L692.13,248.41 L692.74,247.5 L693.34,246.63 L693.95,245.78 L694.56,244.97 L695.17,244.19 L695.78,243.44 L696.38,242.72 L696.99,242.03 L697.6,241.38 L698.21,240.76 L698.81,240.17 L699.42,239.61 L700.03,239.08 L700.64,238.59 L701.24,238.13 L701.85,237.7 L702.46,237.3 L703.07,236.93 L703.67,236.59 L704.28,236.29 L704.89,236.02 L705.5,235.78 L706.1,235.57 L706.71,235.4 L707.32,235.26 L707.93,235.14 L708.53,235.06 L709.14,235.02 L709.75,235 L710.36,235.02 L710.97,235.06 L711.57,235.14 L712.18,235.26 L712.79,235.4 L713.4,235.57 L714,235.78 L714.61,236.02 L715.22,236.29 L715.83,236.59 L716.43,236.93 L717.04,237.3 L717.65,237.7 L718.26,238.13 L718.86,238.59 L719.47,239.08 L720.08,239.61 L720.69,240.17 L721.29,240.76 L721.9,241.38 L722.51,242.03 L723.12,242.72 L723.72,243.44 L724.33,244.19 L724.94,244.97 L725.55,245.78 L726.16,246.63 L726.76,247.5 L727.37,248.41 L727.98,249.35 L728.59,250.33 L729.19,251.33 L729.8,252.37 L730.41,253.44 L731.02,254.54 L731.62,255.67 L732.23,256.83 L732.84,258.03 L733.45,259.26 L734.05,260.52 L734.66,261.81 L735.27,263.13 L735.88,264.49 L736.48,265.88 L737.09,267.3 L737.7,268.75 L738.31,270.23 L738.91,271.74 L739.52,273.29 L740.13,274.87 L740.74,276.48 L741.34,278.12 L741.95,279.8 L742.56,281.5 L743.17,283.24 L743.78,285.01 L744.38,286.82 L744.99,288.65 L745.6,290.52 L746.21,292.41 L746.81,294.34 L747.42,296.3 L748.03,298.3 L748.64,300.32 L749.24,302.38 L749.85,304.47 L750.46,306.59 L751.07,308.74 L751.67,310.93 L752.28,313.15 L752.89,315.39 L753.5,317.68 L754.1,319.99 L754.71,322.33 L755.32,324.71 L755.93,327.12 L756.53,329.56 L757.14,332.03 L757.75,334.53" stroke="#4862f4" stroke-width="4.4"/>
<path d="M669.55,18 L669.94,19.62 L670.34,21.23 L670.74,22.85 L671.14,24.47 L671.54,26.09 L671.95,27.7 L672.35,29.32 L672.77,30.94 L673.18,32.55 L673.59,34.17 L674,35.79 L674.41,37.41 L674.82,39.02 L675.24,40.64 L675.66,42.26 L676.07,43.87 L676.5,45.49 L676.92,47.11 L677.35,48.72 L677.78,50.34 L678.21,51.96 L678.65,53.58 L679.1,55.19 L679.55,56.81 L680,58.43 L680.46,60.04 L680.93,61.66 L681.41,63.28 L681.9,64.9 L682.39,66.51 L682.89,68.13 L683.39,69.75 L683.9,71.36 L684.41,72.98 L684.93,74.6 L685.44,76.22 L685.96,77.83 L686.47,79.45 L686.99,81.07 L687.5,82.68 L688.02,84.3 L688.54,85.92 L689.06,87.53 L689.58,89.15 L690.1,90.77 L690.62,92.39 L691.15,94 L691.68,95.62 L692.21,97.24 L692.75,98.85 L693.28,100.47 L693.83,102.09 L694.37,103.71 L694.92,105.32 L695.48,106.94 L696.04,108.56 L696.61,110.17 L697.18,111.79 L697.76,113.41 L698.34,115.03 L698.93,116.64 L699.52,118.26 L700.11,119.88 L700.71,121.49 L701.3,123.11 L701.9,124.73 L702.5,126.34 L703.1,127.96 L703.69,129.58 L704.29,131.2 L704.89,132.81 L705.49,134.43 L706.1,136.05 L706.7,137.66 L707.31,139.28 L707.92,140.9 L708.53,142.52 L709.14,144.13 L709.75,145.75" stroke="#6000f4" stroke-width="5.0"/>
<path d="M709.75,145.75 L708.85,147.39 L707.95,149.02 L707.04,150.66 L706.12,152.29 L705.19,153.93 L704.25,155.57 L703.31,157.2 L702.37,158.84 L701.44,160.47 L700.5,162.11 L699.53,163.75 L698.5,165.38 L697.41,167.02 L696.25,168.66 L695.03,170.29 L693.74,171.93 L692.37,173.56 L690.89,175.2 L689.32,176.84 L687.67,178.47 L685.96,180.11 L684.16,181.74 L682.26,183.38 L680.22,185.02 L677.88,186.65 L675.51,188.29 L673.39,189.92 L671.44,191.56 L669.91,193.2 L668.67,194.83 L667.58,196.47 L666.55,198.1 L665.56,199.74 L664.63,201.38 L663.74,203.01 L662.87,204.65 L662.03,206.28 L661.22,207.92 L660.43,209.56 L659.64,211.19 L658.84,212.83 L658,214.47 L657.11,216.1 L656.21,217.74 L655.33,219.37 L654.51,221.01 L653.78,222.65 L653.12,224.28 L652.49,225.92 L651.9,227.55 L651.34,229.19 L650.78,230.83 L650.23,232.46 L649.68,234.1 L649.11,235.73 L648.52,237.37 L647.9,239.01 L647.26,240.64 L646.61,242.28 L645.95,243.91 L645.29,245.55 L644.64,247.19 L644.01,248.82 L643.4,250.46 L642.82,252.09 L642.26,253.73 L641.72,255.37 L641.2,257 L640.7,258.64 L640.21,260.28 L639.73,261.91 L639.26,263.55 L638.8,265.18 L638.34,266.82 L637.9,268.46 L637.47,270.09 L637.05,271.73 L636.64,273.36 L636.25,275" stroke="#6000f4" stroke-width="5.0"/>
<path d="M749.95,18 L749.56,19.62 L749.16,21.23 L748.76,22.85 L748.36,24.47 L747.96,26.09 L747.55,27.7 L747.15,29.32 L746.73,30.94 L746.32,32.55 L745.91,34.17 L745.5,35.79 L745.09,37.41 L744.68,39.02 L744.26,40.64 L743.84,42.26 L743.43,43.87 L743,45.49 L742.58,47.11 L742.15,48.72 L741.72,50.34 L741.29,51.96 L740.85,53.58 L740.4,55.19 L739.95,56.81 L739.5,58.43 L739.04,60.04 L738.57,61.66 L738.09,63.28 L737.6,64.9 L737.11,66.51 L736.61,68.13 L736.11,69.75 L735.6,71.36 L735.09,72.98 L734.57,74.6 L734.06,76.22 L733.54,77.83 L733.03,79.45 L732.51,81.07 L732,82.68 L731.48,84.3 L730.96,85.92 L730.44,87.53 L729.92,89.15 L729.4,90.77 L728.88,92.39 L728.35,94 L727.82,95.62 L727.29,97.24 L726.75,98.85 L726.22,100.47 L725.67,102.09 L725.13,103.71 L724.58,105.32 L724.02,106.94 L723.46,108.56 L722.89,110.17 L722.32,111.79 L721.74,113.41 L721.16,115.03 L720.57,116.64 L719.98,118.26 L719.39,119.88 L718.79,121.49 L718.2,123.11 L717.6,124.73 L717,126.34 L716.4,127.96 L715.81,129.58 L715.21,131.2 L714.61,132.81 L714.01,134.43 L713.4,136.05 L712.8,137.66 L712.19,139.28 L711.58,140.9 L710.97,142.52 L710.36,144.13 L709.75,145.75" stroke="#6000f4" stroke-width="5.0"/>
<path d="M709.75,145.75 L710.65,147.39 L711.55,149.02 L712.46,150.66 L713.38,152.29 L714.31,153.93 L715.25,155.57 L716.19,157.2 L717.13,158.84 L718.06,160.47 L719,162.11 L719.97,163.75 L721,165.38 L722.09,167.02 L723.25,168.66 L724.47,170.29 L725.76,171.93 L727.13,173.56 L728.61,175.2 L730.18,176.84 L731.83,178.47 L733.54,180.11 L735.34,181.74 L737.24,183.38 L739.28,185.02 L741.62,186.65 L743.99,188.29 L746.11,189.92 L748.06,191.56 L749.59,193.2 L750.83,194.83 L751.92,196.47 L752.95,198.1 L753.94,199.74 L754.87,201.38 L755.76,203.01 L756.63,204.65 L757.47,206.28 L758.28,207.92 L759.07,209.56 L759.86,211.19 L760.66,212.83 L761.5,214.47 L762.39,216.1 L763.29,217.74 L764.17,219.37 L764.99,221.01 L765.72,222.65 L766.38,224.28 L767.01,225.92 L767.6,227.55 L768.16,229.19 L768.72,230.83 L769.27,232.46 L769.82,234.1 L770.39,235.73 L770.98,237.37 L771.6,239.01 L772.24,240.64 L772.89,242.28 L773.55,243.91 L774.21,245.55 L774.86,247.19 L775.49,248.82 L776.1,250.46 L776.68,252.09 L777.24,253.73 L777.78,255.37 L778.3,257 L778.8,258.64 L779.29,260.28 L779.77,261.91 L780.24,263.55 L780.7,265.18 L781.16,266.82 L781.6,268.46 L782.03,270.09 L782.45,271.73 L782.86,273.36 L783.25,275" stroke="#6000f4" stroke-width="5.0"/>
</g>
<rect x="71" y="29.5" width="154.5" height="232.5" fill="none" stroke="#111" stroke-width="1.8"/><path d="M71,68.25 h5 M225.5,68.25 h-5 M71,107 h5 M225.5,107 h-5 M71,145.75 h5 M225.5,145.75 h-5 M71,184.5 h5 M225.5,184.5 h-5 M71,223.25 h5 M225.5,223.25 h-5 M109.62,29.5 v5 M109.62,262.0 v-5 M148.25,29.5 v5 M148.25,262.0 v-5 M186.88,29.5 v5 M186.88,262.0 v-5" stroke="#111" stroke-width="1.8" fill="none"/>
<rect x="257" y="29.5" width="154.5" height="232.5" fill="none" stroke="#111" stroke-width="1.8"/><path d="M257,68.25 h5 M411.5,68.25 h-5 M257,107 h5 M411.5,107 h-5 M257,145.75 h5 M411.5,145.75 h-5 M257,184.5 h5 M411.5,184.5 h-5 M257,223.25 h5 M411.5,223.25 h-5 M295.62,29.5 v5 M295.62,262.0 v-5 M334.25,29.5 v5 M334.25,262.0 v-5 M372.88,29.5 v5 M372.88,262.0 v-5" stroke="#111" stroke-width="1.8" fill="none"/>
<rect x="445" y="29.5" width="154.5" height="232.5" fill="none" stroke="#111" stroke-width="1.8"/><path d="M445,68.25 h5 M599.5,68.25 h-5 M445,107 h5 M599.5,107 h-5 M445,145.75 h5 M599.5,145.75 h-5 M445,184.5 h5 M599.5,184.5 h-5 M445,223.25 h5 M599.5,223.25 h-5 M483.62,29.5 v5 M483.62,262.0 v-5 M522.25,29.5 v5 M522.25,262.0 v-5 M560.88,29.5 v5 M560.88,262.0 v-5" stroke="#111" stroke-width="1.8" fill="none"/>
<rect x="632.5" y="29.5" width="154.5" height="232.5" fill="none" stroke="#111" stroke-width="1.8"/><path d="M632.5,68.25 h5 M787.0,68.25 h-5 M632.5,107 h5 M787.0,107 h-5 M632.5,145.75 h5 M787.0,145.75 h-5 M632.5,184.5 h5 M787.0,184.5 h-5 M632.5,223.25 h5 M787.0,223.25 h-5 M671.12,29.5 v5 M671.12,262.0 v-5 M709.75,29.5 v5 M709.75,262.0 v-5 M748.38,29.5 v5 M748.38,262.0 v-5" stroke="#111" stroke-width="1.8" fill="none"/>
<path d="M116.2,108.5 L119.8,108.5 L119.8,123 L122.3,123 L118,131 L113.7,123 L116.2,123 Z" fill="url(#gdn)"/>
<path d="M125.9,130.5 L129.1,130.5 L129.1,119 L132,119 L127.5,111 L123,119 L125.9,119 Z" fill="url(#gup)"/>
<path d="M170.5,108.5 L174.1,108.5 L174.1,123 L176.6,123 L172.3,131 L168,123 L170.5,123 Z" fill="url(#gdn)"/>
<path d="M179.6,130.5 L182.8,130.5 L182.8,119 L185.7,119 L181.2,111 L176.7,119 L179.6,119 Z" fill="url(#gup)"/>
<path d="M107.4,168.5 L111,168.5 L111,182.8 L113.5,182.8 L109.2,190.8 L104.9,182.8 L107.4,182.8 Z" fill="url(#gdn)"/>
<path d="M116.6,189.8 L119.8,189.8 L119.8,179.3 L122.7,179.3 L118.2,171.3 L113.7,179.3 L116.6,179.3 Z" fill="url(#gup)"/>
<path d="M170.4,168.5 L174,168.5 L174,182.8 L176.5,182.8 L172.2,190.8 L167.9,182.8 L170.4,182.8 Z" fill="url(#gdn)"/>
<path d="M179.4,189.8 L182.6,189.8 L182.6,179.3 L185.5,179.3 L181,171.3 L176.5,179.3 L179.4,179.3 Z" fill="url(#gup)"/>
<path d="M300.6,98.8 L304.2,98.8 L304.2,112 L306.7,112 L302.4,120 L298.1,112 L300.6,112 Z" fill="url(#gdn)"/>
<path d="M309.4,119.5 L312.6,119.5 L312.6,110 L315.5,110 L311,102 L306.5,110 L309.4,110 Z" fill="url(#gup)"/>
<path d="M362.9,98.8 L366.5,98.8 L366.5,112 L369,112 L364.7,120 L360.4,112 L362.9,112 Z" fill="url(#gdn)"/>
<path d="M372.8,119.5 L376,119.5 L376,110 L378.9,110 L374.4,102 L369.9,110 L372.8,110 Z" fill="url(#gup)"/>
<path d="M290.8,158 L294.4,158 L294.4,172 L296.9,172 L292.6,180 L288.3,172 L290.8,172 Z" fill="url(#gdn)"/>
<path d="M300.8,179.5 L304,179.5 L304,169 L306.9,169 L302.4,161 L297.9,169 L300.8,169 Z" fill="url(#gup)"/>
<path d="M362.9,158 L366.5,158 L366.5,172 L369,172 L364.7,180 L360.4,172 L362.9,172 Z" fill="url(#gdn)"/>
<path d="M372.8,179.5 L376,179.5 L376,169 L378.9,169 L374.4,161 L369.9,169 L372.8,169 Z" fill="url(#gup)"/>
<path d="M483.2,100 L486.8,100 L486.8,113.5 L489.3,113.5 L485,121.5 L480.7,113.5 L483.2,113.5 Z" fill="url(#gdn)"/>
<path d="M492.4,121 L495.6,121 L495.6,111 L498.5,111 L494,103 L489.5,111 L492.4,111 Z" fill="url(#gup)"/>
<path d="M547.2,100 L550.8,100 L550.8,113.5 L553.3,113.5 L549,121.5 L544.7,113.5 L547.2,113.5 Z" fill="url(#gdn)"/>
<path d="M556.4,121 L559.6,121 L559.6,111 L562.5,111 L558,103 L553.5,111 L556.4,111 Z" fill="url(#gup)"/>
<path d="M483.2,160 L486.8,160 L486.8,173.5 L489.3,173.5 L485,181.5 L480.7,173.5 L483.2,173.5 Z" fill="url(#gdn)"/>
<path d="M492.4,181 L495.6,181 L495.6,171 L498.5,171 L494,163 L489.5,171 L492.4,171 Z" fill="url(#gup)"/>
<path d="M547.2,160 L550.8,160 L550.8,173.5 L553.3,173.5 L549,181.5 L544.7,173.5 L547.2,173.5 Z" fill="url(#gdn)"/>
<path d="M556.4,181 L559.6,181 L559.6,171 L562.5,171 L558,163 L553.5,171 L556.4,171 Z" fill="url(#gup)"/>
<path d="M680.2,99.4 L683.8,99.4 L683.8,113.5 L686.3,113.5 L682,121.5 L677.7,113.5 L680.2,113.5 Z" fill="url(#gdn)"/>
<path d="M735.4,118.5 L738.6,118.5 L738.6,110 L741.5,110 L737,102 L732.5,110 L735.4,110 Z" fill="url(#gup)"/>
<path d="M680.4,173 L683.6,173 L683.6,163 L686.5,163 L682,155 L677.5,163 L680.4,163 Z" fill="url(#gup)"/>
<path d="M734.7,151 L738.3,151 L738.3,165 L740.8,165 L736.5,173 L732.2,165 L734.7,165 Z" fill="url(#gdn)"/>
<g font-family="Liberation Sans, sans-serif" fill="#111" stroke="#111" stroke-width="0.45"><text x="69.7" y="17.8" font-size="25" font-weight="bold">a</text><text x="148.45" y="17.2" font-size="20" text-anchor="middle">1BL</text><text x="255.7" y="17.8" font-size="25" font-weight="bold">b</text><text x="334.45" y="17.2" font-size="20" text-anchor="middle">2BL</text><text x="443.7" y="17.8" font-size="25" font-weight="bold">c</text><text x="522.45" y="17.2" font-size="20" text-anchor="middle">3BL</text><text x="631.2" y="17.8" font-size="25" font-weight="bold">d</text><text x="709.95" y="17.2" font-size="20" text-anchor="middle">6BL</text><text x="64.3" y="37.3" font-size="20" text-anchor="end">0.3</text><text x="64.5" y="151.8" font-size="20" text-anchor="end">0</text><text x="63.8" y="267.3" font-size="20" text-anchor="end">−0.3</text><text x="70" y="283.4" font-size="20" text-anchor="middle">−0.2</text><text x="223.7" y="283.4" font-size="20" text-anchor="middle">0.2</text><text x="115.6" y="305.3" font-size="20" font-style="italic">k</text><text x="128.4" y="305.3" font-size="20">(</text><text x="136.5" y="305.3" font-size="20">Å</text><text x="149.6" y="297.7" font-size="16.5">−</text><text x="161.5" y="297.7" font-size="16.5">1</text><text x="171.2" y="305.3" font-size="20">)</text><text transform="translate(17.8,144.4) rotate(-90)" font-size="20" text-anchor="middle">Energy (eV)</text><text x="34" y="338" font-size="25" font-weight="bold">e</text><text x="34.4" y="599.2" font-size="25" font-weight="bold">f</text><text transform="translate(49.6,448.5) rotate(-90)" font-size="20" text-anchor="middle">Bulk bands</text><text transform="translate(49.6,702.6) rotate(-90)" font-size="20" text-anchor="middle">Surface bands</text></g></svg><div class="L" style="width:788px;height:850px;filter:blur(0.45px);"><div class="s" style="left:86px;top:345px;width:114px;height:73px;clip-path:polygon(1.20px 27.50px, 1.37px 25.46px, 1.89px 23.43px, 2.74px 21.43px, 3.93px 19.47px, 5.45px 17.55px, 7.28px 15.70px, 9.42px 13.92px, 11.86px 12.22px, 14.57px 10.61px, 17.54px 9.12px, 20.76px 7.73px, 24.20px 6.47px, 27.84px 5.33px, 31.67px 4.33px, 35.65px 3.48px, 39.76px 2.77px, 43.97px 2.22px, 48.27px 1.82px, 52.62px 1.58px, 57.00px 1.50px, 61.38px 1.58px, 65.73px 1.82px, 70.03px 2.22px, 74.24px 2.77px, 78.35px 3.48px, 82.33px 4.33px, 86.16px 5.33px, 89.80px 6.47px, 93.24px 7.73px, 96.46px 9.12px, 99.43px 10.61px, 102.14px 12.22px, 104.58px 13.92px, 106.72px 15.70px, 108.55px 17.55px, 110.07px 19.47px, 111.26px 21.43px, 112.11px 23.43px, 112.63px 25.46px, 112.80px 27.50px, 112.55px 28.13px, 112.25px 28.91px, 111.92px 29.83px, 111.54px 30.86px, 111.12px 31.98px, 110.67px 33.17px, 110.18px 34.41px, 109.66px 35.68px, 109.10px 36.95px, 108.51px 38.22px, 107.88px 39.46px, 107.22px 40.64px, 106.52px 41.82px, 105.76px 43.04px, 104.96px 44.30px, 104.12px 45.59px, 103.24px 46.88px, 102.34px 48.17px, 101.41px 49.44px, 100.46px 50.68px, 99.50px 51.88px, 98.54px 53.02px, 97.58px 54.10px, 96.62px 55.09px, 95.66px 56.01px, 94.69px 56.86px, 93.71px 57.66px, 92.71px 58.40px, 91.71px 59.11px, 90.69px 59.78px, 89.66px 60.41px, 88.62px 61.03px, 87.57px 61.63px, 86.50px 62.23px, 85.43px 62.82px, 84.34px 63.42px, 83.24px 64.02px, 82.13px 64.62px, 81.01px 65.21px, 79.87px 65.78px, 78.72px 66.35px, 77.56px 66.89px, 76.39px 67.41px, 75.21px 67.91px, 74.02px 68.37px, 72.82px 68.80px, 71.61px 69.20px, 70.39px 69.55px, 69.15px 69.86px, 67.87px 70.13px, 66.56px 70.38px, 65.24px 70.59px, 63.90px 70.77px, 62.57px 70.92px, 61.24px 71.04px, 59.92px 71.14px, 58.63px 71.21px, 57.37px 71.26px, 56.16px 71.29px, 54.99px 71.30px, 53.87px 71.29px, 52.79px 71.26px, 51.74px 71.21px, 50.73px 71.14px, 49.73px 71.04px, 48.76px 70.92px, 47.79px 70.77px, 46.84px 70.59px, 45.90px 70.38px, 44.95px 70.13px, 44.01px 69.86px, 43.05px 69.55px, 42.09px 69.20px, 41.15px 68.80px, 40.22px 68.37px, 39.29px 67.91px, 38.37px 67.41px, 37.46px 66.89px, 36.54px 66.35px, 35.62px 65.78px, 34.70px 65.21px, 33.77px 64.62px, 32.84px 64.02px, 31.89px 63.42px, 30.93px 62.82px, 29.98px 62.23px, 29.01px 61.63px, 28.05px 61.03px, 27.08px 60.41px, 26.10px 59.78px, 25.12px 59.11px, 24.14px 58.40px, 23.15px 57.66px, 22.16px 56.86px, 21.17px 56.01px, 20.17px 55.09px, 19.15px 54.10px, 18.09px 53.02px, 17.01px 51.88px, 15.91px 50.68px, 14.81px 49.44px, 13.72px 48.17px, 12.64px 46.88px, 11.60px 45.59px, 10.59px 44.30px, 9.63px 43.04px, 8.73px 41.82px, 7.90px 40.64px, 7.12px 39.46px, 6.38px 38.22px, 5.67px 36.95px, 5.00px 35.68px, 4.37px 34.41px, 3.78px 33.17px, 3.23px 31.98px, 2.73px 30.86px, 2.27px 29.83px, 1.86px 28.91px, 1.51px 28.13px);background-image:conic-gradient(from 358.7deg at 55.0px -29.7px, #060903 151.5deg, #0a1004 166.3deg, #161f07 180.2deg, #080c03 192.7deg, #222e08 209.4deg);"></div>
<div class="s" style="left:86px;top:345px;width:114px;height:55px;clip-path:polygon(112.80px 27.50px, 112.66px 29.31px, 112.26px 31.12px, 111.58px 32.91px, 110.64px 34.67px, 109.43px 36.39px, 107.98px 38.08px, 106.27px 39.71px, 104.32px 41.28px, 102.14px 42.78px, 99.75px 44.21px, 97.14px 45.56px, 94.34px 46.82px, 91.35px 47.99px, 88.20px 49.05px, 84.90px 50.02px, 81.46px 50.87px, 77.90px 51.61px, 74.24px 52.23px, 70.50px 52.73px, 66.69px 53.11px, 62.83px 53.36px, 58.95px 53.48px, 55.05px 53.48px, 51.17px 53.36px, 47.31px 53.11px, 43.50px 52.73px, 39.76px 52.23px, 36.10px 51.61px, 32.54px 50.87px, 29.10px 50.02px, 25.80px 49.05px, 22.65px 47.99px, 19.66px 46.82px, 16.86px 45.56px, 14.25px 44.21px, 11.86px 42.78px, 9.68px 41.28px, 7.73px 39.71px, 6.02px 38.08px, 4.57px 36.39px, 3.36px 34.67px, 2.42px 32.91px, 1.74px 31.12px, 1.34px 29.31px, 1.20px 27.50px, 1.34px 25.69px, 1.74px 23.88px, 2.42px 22.09px, 3.36px 20.33px, 4.57px 18.61px, 6.02px 16.92px, 7.73px 15.29px, 9.68px 13.72px, 11.86px 12.22px, 14.25px 10.79px, 16.86px 9.44px, 19.66px 8.18px, 22.65px 7.01px, 25.80px 5.95px, 29.10px 4.98px, 32.54px 4.13px, 36.10px 3.39px, 39.76px 2.77px, 43.50px 2.27px, 47.31px 1.89px, 51.17px 1.64px, 55.05px 1.52px, 58.95px 1.52px, 62.83px 1.64px, 66.69px 1.89px, 70.50px 2.27px, 74.24px 2.77px, 77.90px 3.39px, 81.46px 4.13px, 84.90px 4.98px, 88.20px 5.95px, 91.35px 7.01px, 94.34px 8.18px, 97.14px 9.44px, 99.75px 10.79px, 102.14px 12.22px, 104.32px 13.72px, 106.27px 15.29px, 107.98px 16.92px, 109.43px 18.61px, 110.64px 20.33px, 111.58px 22.09px, 112.26px 23.88px, 112.66px 25.69px, 112.80px 27.50px);background-image:radial-gradient(23.4px 19.5px at 61.5px 5.4px, rgba(175,165,40,0.85) 0%, rgba(0,0,0,0) 100%), radial-gradient(44.6px 24.7px at 37.5px 39.2px, rgb(20,30,10) 0%, rgb(120,130,100) 50%, rgb(255,255,255) 100%), conic-gradient(from 182.7deg at 57.0px 131.5px, #8a9a22 149.1deg, #4a5a12 154.4deg, #141e06 161.2deg, #0e1605 167.4deg, #2a3a0c 173.4deg, #3a5212 179.8deg, #3a7a1c 184.7deg, #3a8422 189.7deg, #2a6418 193.9deg, #6aa82a 197.8deg, #b8d83a 202.2deg, #c8e040 205.5deg);background-blend-mode:normal, multiply, normal;"></div>
<div class="s" style="left:86px;top:598px;width:114px;height:72px;clip-path:polygon(1.20px 27.00px, 1.37px 24.98px, 1.89px 22.96px, 2.74px 20.98px, 3.93px 19.03px, 5.45px 17.13px, 7.28px 15.29px, 9.42px 13.52px, 11.86px 11.84px, 14.57px 10.24px, 17.54px 8.76px, 20.76px 7.38px, 24.20px 6.13px, 27.84px 5.00px, 31.67px 4.01px, 35.65px 3.16px, 39.76px 2.46px, 43.97px 1.91px, 48.27px 1.52px, 52.62px 1.28px, 57.00px 1.20px, 61.38px 1.28px, 65.73px 1.52px, 70.03px 1.91px, 74.24px 2.46px, 78.35px 3.16px, 82.33px 4.01px, 86.16px 5.00px, 89.80px 6.13px, 93.24px 7.38px, 96.46px 8.76px, 99.43px 10.24px, 102.14px 11.84px, 104.58px 13.52px, 106.72px 15.29px, 108.55px 17.13px, 110.07px 19.03px, 111.26px 20.98px, 112.11px 22.96px, 112.63px 24.98px, 112.80px 27.00px, 112.55px 27.63px, 112.25px 28.41px, 111.92px 29.33px, 111.54px 30.36px, 111.12px 31.48px, 110.67px 32.67px, 110.18px 33.91px, 109.66px 35.18px, 109.10px 36.45px, 108.51px 37.72px, 107.88px 38.96px, 107.22px 40.14px, 106.52px 41.32px, 105.76px 42.54px, 104.96px 43.80px, 104.12px 45.09px, 103.24px 46.38px, 102.34px 47.67px, 101.41px 48.94px, 100.46px 50.18px, 99.50px 51.38px, 98.54px 52.52px, 97.58px 53.60px, 96.62px 54.59px, 95.66px 55.51px, 94.69px 56.36px, 93.71px 57.16px, 92.71px 57.90px, 91.71px 58.61px, 90.69px 59.28px, 89.66px 59.91px, 88.62px 60.53px, 87.57px 61.13px, 86.50px 61.73px, 85.43px 62.32px, 84.34px 62.92px, 83.24px 63.52px, 82.13px 64.12px, 81.01px 64.71px, 79.87px 65.28px, 78.72px 65.85px, 77.56px 66.39px, 76.39px 66.91px, 75.21px 67.41px, 74.02px 67.87px, 72.82px 68.30px, 71.61px 68.70px, 70.39px 69.05px, 69.15px 69.36px, 67.87px 69.63px, 66.56px 69.88px, 65.24px 70.09px, 63.90px 70.27px, 62.57px 70.42px, 61.24px 70.54px, 59.92px 70.64px, 58.63px 70.71px, 57.37px 70.76px, 56.16px 70.79px, 54.99px 70.80px, 53.87px 70.79px, 52.79px 70.76px, 51.74px 70.71px, 50.73px 70.64px, 49.73px 70.54px, 48.76px 70.42px, 47.79px 70.27px, 46.84px 70.09px, 45.90px 69.88px, 44.95px 69.63px, 44.01px 69.36px, 43.05px 69.05px, 42.09px 68.70px, 41.15px 68.30px, 40.22px 67.87px, 39.29px 67.41px, 38.37px 66.91px, 37.46px 66.39px, 36.54px 65.85px, 35.62px 65.28px, 34.70px 64.71px, 33.77px 64.12px, 32.84px 63.52px, 31.89px 62.92px, 30.93px 62.32px, 29.98px 61.73px, 29.01px 61.13px, 28.05px 60.53px, 27.08px 59.91px, 26.10px 59.28px, 25.12px 58.61px, 24.14px 57.90px, 23.15px 57.16px, 22.16px 56.36px, 21.17px 55.51px, 20.17px 54.59px, 19.15px 53.60px, 18.09px 52.52px, 17.01px 51.38px, 15.91px 50.18px, 14.81px 48.94px, 13.72px 47.67px, 12.64px 46.38px, 11.60px 45.09px, 10.59px 43.80px, 9.63px 42.54px, 8.73px 41.32px, 7.90px 40.14px, 7.12px 38.96px, 6.38px 37.72px, 5.67px 36.45px, 5.00px 35.18px, 4.37px 33.91px, 3.78px 32.67px, 3.23px 31.48px, 2.73px 30.36px, 2.27px 29.33px, 1.86px 28.41px, 1.51px 27.63px);background-image:conic-gradient(from 358.7deg at 55.0px -29.8px, #060903 151.4deg, #0a1004 166.2deg, #161f07 180.2deg, #080c03 192.8deg, #222e08 209.5deg);"></div>
<div class="s" style="left:86px;top:598px;width:114px;height:54px;clip-path:polygon(112.80px 27.00px, 112.66px 28.80px, 112.26px 30.59px, 111.58px 32.36px, 110.64px 34.11px, 109.43px 35.82px, 107.98px 37.49px, 106.27px 39.11px, 104.32px 40.67px, 102.14px 42.16px, 99.75px 43.58px, 97.14px 44.92px, 94.34px 46.17px, 91.35px 47.33px, 88.20px 48.39px, 84.90px 49.34px, 81.46px 50.19px, 77.90px 50.92px, 74.24px 51.54px, 70.50px 52.03px, 66.69px 52.41px, 62.83px 52.66px, 58.95px 52.78px, 55.05px 52.78px, 51.17px 52.66px, 47.31px 52.41px, 43.50px 52.03px, 39.76px 51.54px, 36.10px 50.92px, 32.54px 50.19px, 29.10px 49.34px, 25.80px 48.39px, 22.65px 47.33px, 19.66px 46.17px, 16.86px 44.92px, 14.25px 43.58px, 11.86px 42.16px, 9.68px 40.67px, 7.73px 39.11px, 6.02px 37.49px, 4.57px 35.82px, 3.36px 34.11px, 2.42px 32.36px, 1.74px 30.59px, 1.34px 28.80px, 1.20px 27.00px, 1.34px 25.20px, 1.74px 23.41px, 2.42px 21.64px, 3.36px 19.89px, 4.57px 18.18px, 6.02px 16.51px, 7.73px 14.89px, 9.68px 13.33px, 11.86px 11.84px, 14.25px 10.42px, 16.86px 9.08px, 19.66px 7.83px, 22.65px 6.67px, 25.80px 5.61px, 29.10px 4.66px, 32.54px 3.81px, 36.10px 3.08px, 39.76px 2.46px, 43.50px 1.97px, 47.31px 1.59px, 51.17px 1.34px, 55.05px 1.22px, 58.95px 1.22px, 62.83px 1.34px, 66.69px 1.59px, 70.50px 1.97px, 74.24px 2.46px, 77.90px 3.08px, 81.46px 3.81px, 84.90px 4.66px, 88.20px 5.61px, 91.35px 6.67px, 94.34px 7.83px, 97.14px 9.08px, 99.75px 10.42px, 102.14px 11.84px, 104.32px 13.33px, 106.27px 14.89px, 107.98px 16.51px, 109.43px 18.18px, 110.64px 19.89px, 111.58px 21.64px, 112.26px 23.41px, 112.66px 25.20px, 112.80px 27.00px);background-image:radial-gradient(23.4px 19.4px at 61.5px 5.1px, rgba(175,165,40,0.85) 0%, rgba(0,0,0,0) 100%), radial-gradient(44.6px 24.5px at 37.5px 38.6px, rgb(20,30,10) 0%, rgb(120,130,100) 50%, rgb(255,255,255) 100%), conic-gradient(from 182.7deg at 57.0px 131.0px, #8a9a22 149.1deg, #4a5a12 154.4deg, #141e06 161.2deg, #0e1605 167.4deg, #2a3a0c 173.4deg, #3a5212 179.8deg, #3a7a1c 184.7deg, #3a8422 189.7deg, #2a6418 193.9deg, #6aa82a 197.8deg, #b8d83a 202.2deg, #c8e040 205.5deg);background-blend-mode:normal, multiply, normal;"></div>
<div class="s" style="left:289px;top:338px;width:96px;height:90px;clip-path:polygon(1.50px 38.00px, 1.64px 35.15px, 2.07px 32.32px, 2.78px 29.53px, 3.78px 26.78px, 5.04px 24.11px, 6.57px 21.52px, 8.35px 19.03px, 10.38px 16.66px, 12.64px 14.43px, 15.12px 12.33px, 17.80px 10.40px, 20.67px 8.63px, 23.70px 7.05px, 26.89px 5.66px, 30.21px 4.46px, 33.63px 3.48px, 37.14px 2.70px, 40.73px 2.15px, 44.35px 1.81px, 48.00px 1.70px, 51.65px 1.81px, 55.27px 2.15px, 58.86px 2.70px, 62.37px 3.48px, 65.79px 4.46px, 69.11px 5.66px, 72.30px 7.05px, 75.33px 8.63px, 78.20px 10.40px, 80.88px 12.33px, 83.36px 14.43px, 85.62px 16.66px, 87.65px 19.03px, 89.43px 21.52px, 90.96px 24.11px, 92.22px 26.78px, 93.22px 29.53px, 93.93px 32.32px, 94.36px 35.15px, 94.50px 38.00px, 94.38px 38.58px, 94.26px 39.29px, 94.13px 40.12px, 93.98px 41.05px, 93.82px 42.06px, 93.63px 43.14px, 93.41px 44.28px, 93.16px 45.44px, 92.87px 46.63px, 92.53px 47.81px, 92.15px 48.98px, 91.71px 50.12px, 91.22px 51.26px, 90.70px 52.43px, 90.13px 53.64px, 89.52px 54.87px, 88.88px 56.12px, 88.19px 57.38px, 87.47px 58.64px, 86.72px 59.90px, 85.92px 61.15px, 85.10px 62.38px, 84.23px 63.59px, 83.34px 64.76px, 82.40px 65.93px, 81.40px 67.09px, 80.36px 68.25px, 79.28px 69.40px, 78.15px 70.55px, 77.00px 71.68px, 75.83px 72.79px, 74.64px 73.87px, 73.44px 74.93px, 72.24px 75.96px, 71.04px 76.95px, 69.86px 77.89px, 68.65px 78.82px, 67.40px 79.73px, 66.11px 80.63px, 64.81px 81.50px, 63.49px 82.35px, 62.18px 83.17px, 60.88px 83.94px, 59.61px 84.67px, 58.37px 85.34px, 57.18px 85.96px, 56.04px 86.51px, 54.98px 86.99px, 53.98px 87.39px, 53.05px 87.71px, 52.17px 87.97px, 51.34px 88.16px, 50.54px 88.31px, 49.77px 88.41px, 49.02px 88.47px, 48.28px 88.50px, 47.53px 88.51px, 46.78px 88.51px, 46.01px 88.50px, 45.21px 88.50px, 44.40px 88.50px, 43.60px 88.49px, 42.81px 88.48px, 42.02px 88.44px, 41.24px 88.39px, 40.44px 88.31px, 39.65px 88.20px, 38.84px 88.05px, 38.02px 87.86px, 37.18px 87.62px, 36.32px 87.33px, 35.44px 86.99px, 34.54px 86.58px, 33.59px 86.12px, 32.63px 85.61px, 31.64px 85.06px, 30.64px 84.46px, 29.63px 83.83px, 28.63px 83.16px, 27.63px 82.46px, 26.64px 81.73px, 25.67px 80.98px, 24.73px 80.20px, 23.82px 79.41px, 22.94px 78.59px, 22.07px 77.73px, 21.22px 76.83px, 20.38px 75.89px, 19.55px 74.93px, 18.73px 73.95px, 17.93px 72.95px, 17.14px 71.93px, 16.35px 70.90px, 15.58px 69.87px, 14.81px 68.83px, 14.06px 67.80px, 13.30px 66.77px, 12.53px 65.74px, 11.77px 64.70px, 11.01px 63.66px, 10.26px 62.61px, 9.52px 61.55px, 8.81px 60.46px, 8.11px 59.36px, 7.45px 58.23px, 6.82px 57.08px, 6.23px 55.89px, 5.69px 54.67px, 5.18px 53.35px, 4.70px 51.90px, 4.25px 50.36px, 3.82px 48.75px, 3.43px 47.13px, 3.07px 45.51px, 2.74px 43.94px, 2.43px 42.45px, 2.15px 41.08px, 1.91px 39.85px, 1.69px 38.82px);background-image:conic-gradient(from 358.7deg at 45.4px -41.9px, #060903 160.6deg, #0a1004 171.1deg, #161f07 180.1deg, #080c03 188.3deg, #222e08 199.9deg);"></div>
<div class="s" style="left:289px;top:338px;width:96px;height:76px;clip-path:polygon(94.50px 38.00px, 94.39px 40.53px, 94.05px 43.05px, 93.48px 45.55px, 92.70px 48.01px, 91.70px 50.42px, 90.48px 52.76px, 89.06px 55.04px, 87.43px 57.24px, 85.62px 59.34px, 83.62px 61.33px, 81.45px 63.22px, 79.11px 64.98px, 76.63px 66.60px, 74.00px 68.09px, 71.25px 69.44px, 68.38px 70.63px, 65.42px 71.66px, 62.37px 72.52px, 59.25px 73.22px, 56.07px 73.75px, 52.86px 74.10px, 49.62px 74.28px, 46.38px 74.28px, 43.14px 74.10px, 39.93px 73.75px, 36.75px 73.22px, 33.63px 72.52px, 30.58px 71.66px, 27.62px 70.63px, 24.75px 69.44px, 22.00px 68.09px, 19.37px 66.60px, 16.89px 64.98px, 14.55px 63.22px, 12.38px 61.33px, 10.38px 59.34px, 8.57px 57.24px, 6.94px 55.04px, 5.52px 52.76px, 4.30px 50.42px, 3.30px 48.01px, 2.52px 45.55px, 1.95px 43.05px, 1.61px 40.53px, 1.50px 38.00px, 1.61px 35.47px, 1.95px 32.95px, 2.52px 30.45px, 3.30px 27.99px, 4.30px 25.58px, 5.52px 23.24px, 6.94px 20.96px, 8.57px 18.76px, 10.38px 16.66px, 12.38px 14.67px, 14.55px 12.78px, 16.89px 11.02px, 19.37px 9.40px, 22.00px 7.91px, 24.75px 6.56px, 27.62px 5.37px, 30.58px 4.34px, 33.63px 3.48px, 36.75px 2.78px, 39.93px 2.25px, 43.14px 1.90px, 46.38px 1.72px, 49.62px 1.72px, 52.86px 1.90px, 56.07px 2.25px, 59.25px 2.78px, 62.37px 3.48px, 65.42px 4.34px, 68.38px 5.37px, 71.25px 6.56px, 74.00px 7.91px, 76.63px 9.40px, 79.11px 11.02px, 81.45px 12.78px, 83.62px 14.67px, 85.62px 16.66px, 87.43px 18.76px, 89.06px 20.96px, 90.48px 23.24px, 91.70px 25.58px, 92.70px 27.99px, 93.48px 30.45px, 94.05px 32.95px, 94.39px 35.47px, 94.50px 38.00px);background-image:radial-gradient(19.5px 27.2px at 51.7px 7.1px, rgba(95,88,22,0.35) 0%, rgba(0,0,0,0) 100%), radial-gradient(37.2px 34.5px at 31.7px 54.3px, rgb(30,40,15) 0%, rgb(120,130,100) 50%, rgb(255,255,255) 100%), conic-gradient(from 181.9deg at 48.0px 146.0px, #2a3a0c 154.8deg, #0e1606 162.1deg, #050803 168.6deg, #122208 176.2deg, #1e3c0e 181.8deg, #2e6018 187.5deg, #3a7420 191.7deg, #4a8a26 195.6deg, #4a8a24 201.4deg);background-blend-mode:normal, multiply, normal;"></div>
<div class="s" style="left:477px;top:337px;width:103px;height:98px;clip-path:polygon(1.95px 40.40px, 2.10px 37.32px, 2.56px 34.27px, 3.32px 31.25px, 4.38px 28.29px, 5.74px 25.40px, 7.37px 22.60px, 9.28px 19.92px, 11.45px 17.36px, 13.87px 14.94px, 16.52px 12.68px, 19.39px 10.59px, 22.46px 8.69px, 25.71px 6.98px, 29.11px 5.47px, 32.66px 4.18px, 36.33px 3.12px, 40.09px 2.28px, 43.92px 1.68px, 47.80px 1.32px, 51.70px 1.20px, 55.60px 1.32px, 59.48px 1.68px, 63.31px 2.28px, 67.07px 3.12px, 70.74px 4.18px, 74.29px 5.47px, 77.69px 6.98px, 80.94px 8.69px, 84.01px 10.59px, 86.88px 12.68px, 89.53px 14.94px, 91.95px 17.36px, 94.12px 19.92px, 96.03px 22.60px, 97.66px 25.40px, 99.02px 28.29px, 100.08px 31.25px, 100.84px 34.27px, 101.30px 37.32px, 101.45px 40.40px, 101.32px 41.04px, 101.19px 41.82px, 101.05px 42.73px, 100.90px 43.76px, 100.72px 44.87px, 100.52px 46.06px, 100.28px 47.31px, 100.01px 48.60px, 99.70px 49.90px, 99.34px 51.20px, 98.93px 52.49px, 98.47px 53.74px, 97.95px 55.00px, 97.38px 56.29px, 96.77px 57.62px, 96.12px 58.97px, 95.43px 60.35px, 94.70px 61.74px, 93.93px 63.13px, 93.12px 64.51px, 92.27px 65.89px, 91.39px 67.25px, 90.47px 68.57px, 89.51px 69.87px, 88.50px 71.15px, 87.44px 72.43px, 86.32px 73.70px, 85.16px 74.97px, 83.96px 76.23px, 82.73px 77.48px, 81.48px 78.70px, 80.20px 79.90px, 78.92px 81.06px, 77.64px 82.19px, 76.35px 83.28px, 75.08px 84.32px, 73.79px 85.34px, 72.45px 86.35px, 71.08px 87.33px, 69.68px 88.30px, 68.28px 89.23px, 66.87px 90.13px, 65.48px 90.98px, 64.12px 91.78px, 62.79px 92.52px, 61.52px 93.20px, 60.30px 93.80px, 59.16px 94.33px, 58.10px 94.77px, 57.10px 95.13px, 56.17px 95.41px, 55.27px 95.63px, 54.42px 95.79px, 53.60px 95.90px, 52.79px 95.96px, 51.99px 96.00px, 51.20px 96.01px, 50.39px 96.01px, 49.57px 96.00px, 48.72px 96.00px, 47.85px 96.00px, 47.00px 95.99px, 46.15px 95.97px, 45.31px 95.94px, 44.46px 95.88px, 43.62px 95.79px, 42.76px 95.67px, 41.90px 95.51px, 41.02px 95.30px, 40.12px 95.03px, 39.21px 94.72px, 38.27px 94.33px, 37.29px 93.88px, 36.29px 93.38px, 35.25px 92.82px, 34.20px 92.21px, 33.13px 91.56px, 32.05px 90.86px, 30.97px 90.12px, 29.90px 89.35px, 28.85px 88.55px, 27.81px 87.72px, 26.80px 86.86px, 25.83px 85.99px, 24.88px 85.09px, 23.96px 84.14px, 23.04px 83.15px, 22.14px 82.12px, 21.26px 81.06px, 20.39px 79.98px, 19.53px 78.88px, 18.68px 77.75px, 17.84px 76.62px, 17.01px 75.48px, 16.19px 74.34px, 15.38px 73.20px, 14.57px 72.07px, 13.75px 70.94px, 12.93px 69.80px, 12.12px 68.65px, 11.32px 67.50px, 10.53px 66.32px, 9.77px 65.13px, 9.03px 63.92px, 8.32px 62.67px, 7.64px 61.40px, 7.01px 60.09px, 6.43px 58.75px, 5.88px 57.30px, 5.37px 55.70px, 4.89px 54.00px, 4.44px 52.24px, 4.02px 50.45px, 3.63px 48.67px, 3.27px 46.94px, 2.95px 45.30px, 2.65px 43.79px, 2.39px 42.44px, 2.15px 41.30px);background-image:conic-gradient(from 358.8deg at 49.0px -45.8px, #060903 160.9deg, #0a1004 171.2deg, #161f07 180.1deg, #080c03 188.1deg, #222e08 199.6deg);"></div>
<div class="s" style="left:477px;top:337px;width:103px;height:81px;clip-path:polygon(101.45px 40.40px, 101.33px 43.13px, 100.97px 45.86px, 100.36px 48.55px, 99.52px 51.20px, 98.45px 53.81px, 97.15px 56.34px, 95.63px 58.80px, 93.89px 61.17px, 91.95px 63.44px, 89.81px 65.60px, 87.49px 67.63px, 84.99px 69.53px, 82.33px 71.29px, 79.52px 72.90px, 76.58px 74.35px, 73.51px 75.63px, 70.34px 76.75px, 67.07px 77.68px, 63.74px 78.44px, 60.34px 79.00px, 56.90px 79.39px, 53.44px 79.58px, 49.96px 79.58px, 46.50px 79.39px, 43.06px 79.00px, 39.66px 78.44px, 36.33px 77.68px, 33.06px 76.75px, 29.89px 75.63px, 26.83px 74.35px, 23.88px 72.90px, 21.07px 71.29px, 18.41px 69.53px, 15.91px 67.63px, 13.59px 65.60px, 11.45px 63.44px, 9.51px 61.17px, 7.77px 58.80px, 6.25px 56.34px, 4.95px 53.81px, 3.88px 51.20px, 3.04px 48.55px, 2.43px 45.86px, 2.07px 43.13px, 1.95px 40.40px, 2.07px 37.67px, 2.43px 34.94px, 3.04px 32.25px, 3.88px 29.60px, 4.95px 26.99px, 6.25px 24.46px, 7.77px 22.00px, 9.51px 19.63px, 11.45px 17.36px, 13.59px 15.20px, 15.91px 13.17px, 18.41px 11.27px, 21.07px 9.51px, 23.88px 7.90px, 26.83px 6.45px, 29.89px 5.17px, 33.06px 4.05px, 36.33px 3.12px, 39.66px 2.36px, 43.06px 1.80px, 46.50px 1.41px, 49.96px 1.22px, 53.44px 1.22px, 56.90px 1.41px, 60.34px 1.80px, 63.74px 2.36px, 67.07px 3.12px, 70.34px 4.05px, 73.51px 5.17px, 76.58px 6.45px, 79.52px 7.90px, 82.33px 9.51px, 84.99px 11.27px, 87.49px 13.17px, 89.81px 15.20px, 91.95px 17.36px, 93.89px 19.63px, 95.63px 22.00px, 97.15px 24.46px, 98.45px 26.99px, 99.52px 29.60px, 100.36px 32.25px, 100.97px 34.94px, 101.33px 37.67px, 101.45px 40.40px);background-image:radial-gradient(20.9px 29.4px at 55.7px 7.1px, rgba(95,88,22,0.35) 0%, rgba(0,0,0,0) 100%), radial-gradient(39.8px 37.2px at 34.3px 58.0px, rgb(30,40,15) 0%, rgb(120,130,100) 50%, rgb(255,255,255) 100%), conic-gradient(from 182.2deg at 51.0px 157.0px, #2a3a0c 155.0deg, #0e1606 162.2deg, #050803 168.7deg, #122208 176.2deg, #1e3c0e 181.7deg, #2e6018 187.5deg, #3a7420 191.6deg, #4a8a26 195.5deg, #6a9a28 201.2deg);background-blend-mode:normal, multiply, normal;"></div>
<div class="s" style="left:650px;top:336px;width:114px;height:114px;clip-path:polygon(1.25px 48.40px, 1.42px 44.74px, 1.94px 41.11px, 2.79px 37.52px, 3.98px 34.00px, 5.50px 30.57px, 7.34px 27.24px, 9.48px 24.05px, 11.92px 21.01px, 14.63px 18.14px, 17.61px 15.45px, 20.83px 12.97px, 24.27px 10.70px, 27.92px 8.67px, 31.74px 6.88px, 35.73px 5.35px, 39.84px 4.08px, 44.06px 3.09px, 48.36px 2.37px, 52.72px 1.94px, 57.10px 1.80px, 61.48px 1.94px, 65.84px 2.37px, 70.14px 3.09px, 74.36px 4.08px, 78.47px 5.35px, 82.46px 6.88px, 86.28px 8.67px, 89.93px 10.70px, 93.37px 12.97px, 96.59px 15.45px, 99.57px 18.14px, 102.28px 21.01px, 104.72px 24.05px, 106.86px 27.24px, 108.70px 30.57px, 110.22px 34.00px, 111.41px 37.52px, 112.26px 41.11px, 112.78px 44.74px, 112.95px 48.40px, 112.81px 49.13px, 112.66px 50.02px, 112.50px 51.07px, 112.33px 52.24px, 112.13px 53.52px, 111.90px 54.88px, 111.64px 56.31px, 111.34px 57.78px, 110.99px 59.27px, 110.58px 60.76px, 110.12px 62.23px, 109.60px 63.66px, 109.02px 65.10px, 108.38px 66.58px, 107.70px 68.10px, 106.97px 69.65px, 106.20px 71.22px, 105.38px 72.81px, 104.51px 74.40px, 103.60px 75.98px, 102.65px 77.56px, 101.65px 79.11px, 100.62px 80.63px, 99.55px 82.11px, 98.42px 83.57px, 97.22px 85.03px, 95.97px 86.50px, 94.66px 87.95px, 93.32px 89.39px, 91.94px 90.81px, 90.53px 92.21px, 89.10px 93.58px, 87.66px 94.91px, 86.22px 96.20px, 84.78px 97.45px, 83.35px 98.64px, 81.90px 99.81px, 80.40px 100.96px, 78.86px 102.09px, 77.29px 103.19px, 75.71px 104.26px, 74.13px 105.28px, 72.57px 106.26px, 71.04px 107.17px, 69.55px 108.02px, 68.12px 108.79px, 66.76px 109.49px, 65.48px 110.09px, 64.29px 110.60px, 63.17px 111.01px, 62.11px 111.33px, 61.11px 111.58px, 60.16px 111.76px, 59.23px 111.88px, 58.32px 111.96px, 57.43px 112.00px, 56.54px 112.01px, 55.63px 112.01px, 54.71px 112.00px, 53.75px 112.00px, 52.78px 112.00px, 51.82px 111.99px, 50.87px 111.97px, 49.92px 111.93px, 48.98px 111.86px, 48.02px 111.76px, 47.07px 111.62px, 46.10px 111.43px, 45.11px 111.20px, 44.10px 110.90px, 43.08px 110.53px, 42.02px 110.09px, 40.93px 109.58px, 39.80px 109.00px, 38.63px 108.36px, 37.45px 107.67px, 36.25px 106.92px, 35.04px 106.12px, 33.83px 105.27px, 32.63px 104.39px, 31.44px 103.47px, 30.28px 102.52px, 29.15px 101.55px, 28.06px 100.55px, 27.00px 99.52px, 25.95px 98.43px, 24.93px 97.30px, 23.92px 96.12px, 22.93px 94.91px, 21.95px 93.68px, 20.98px 92.41px, 20.03px 91.13px, 19.09px 89.83px, 18.16px 88.53px, 17.24px 87.23px, 16.33px 85.92px, 15.42px 84.63px, 14.50px 83.33px, 13.58px 82.03px, 12.67px 80.72px, 11.77px 79.39px, 10.88px 78.05px, 10.02px 76.69px, 9.19px 75.30px, 8.40px 73.88px, 7.64px 72.42px, 6.93px 70.93px, 6.28px 69.39px, 5.67px 67.73px, 5.09px 65.90px, 4.55px 63.96px, 4.04px 61.94px, 3.57px 59.90px, 3.13px 57.86px, 2.73px 55.88px, 2.37px 54.01px, 2.04px 52.28px, 1.74px 50.73px, 1.48px 49.43px);background-image:conic-gradient(from 360.0deg at 57.6px -54.1px, #060903 161.6deg, #0a1004 171.6deg, #161f07 180.2deg, #080c03 187.9deg, #222e08 198.8deg);"></div>
<div class="s" style="left:650px;top:336px;width:114px;height:96px;clip-path:polygon(112.95px 48.40px, 112.81px 51.65px, 112.41px 54.89px, 111.73px 58.09px, 110.79px 61.24px, 109.58px 64.34px, 108.12px 67.35px, 106.41px 70.28px, 104.46px 73.09px, 102.28px 75.79px, 99.88px 78.35px, 97.28px 80.77px, 94.47px 83.03px, 91.48px 85.12px, 88.33px 87.03px, 85.02px 88.76px, 81.58px 90.28px, 78.02px 91.61px, 74.36px 92.72px, 70.61px 93.62px, 66.80px 94.29px, 62.94px 94.74px, 59.05px 94.97px, 55.15px 94.97px, 51.26px 94.74px, 47.40px 94.29px, 43.59px 93.62px, 39.84px 92.72px, 36.18px 91.61px, 32.62px 90.28px, 29.18px 88.76px, 25.87px 87.03px, 22.72px 85.12px, 19.73px 83.03px, 16.92px 80.77px, 14.32px 78.35px, 11.92px 75.79px, 9.74px 73.09px, 7.79px 70.28px, 6.08px 67.35px, 4.62px 64.34px, 3.41px 61.24px, 2.47px 58.09px, 1.79px 54.89px, 1.39px 51.65px, 1.25px 48.40px, 1.39px 45.15px, 1.79px 41.91px, 2.47px 38.71px, 3.41px 35.56px, 4.62px 32.46px, 6.08px 29.45px, 7.79px 26.52px, 9.74px 23.71px, 11.92px 21.01px, 14.32px 18.45px, 16.92px 16.03px, 19.73px 13.77px, 22.72px 11.68px, 25.87px 9.77px, 29.17px 8.04px, 32.62px 6.52px, 36.18px 5.19px, 39.84px 4.08px, 43.59px 3.18px, 47.40px 2.51px, 51.26px 2.06px, 55.15px 1.83px, 59.05px 1.83px, 62.94px 2.06px, 66.80px 2.51px, 70.61px 3.18px, 74.36px 4.08px, 78.02px 5.19px, 81.58px 6.52px, 85.02px 8.04px, 88.33px 9.77px, 91.48px 11.68px, 94.47px 13.77px, 97.28px 16.03px, 99.88px 18.45px, 102.28px 21.01px, 104.46px 23.71px, 106.41px 26.52px, 108.12px 29.45px, 109.58px 32.46px, 110.79px 35.56px, 111.73px 38.71px, 112.41px 41.91px, 112.81px 45.15px, 112.95px 48.40px);background-image:radial-gradient(9.0px 5.0px at 62.0px 93.0px, rgba(235,255,245,1) 0%, rgba(150,240,200,0.9) 35%, rgba(80,200,150,0) 100%), radial-gradient(23.5px 35.0px at 61.6px 8.8px, rgba(105,95,22,0.45) 0%, rgba(0,0,0,0) 100%), radial-gradient(44.7px 44.3px at 37.6px 69.4px, rgb(30,40,15) 0%, rgb(120,130,100) 50%, rgb(255,255,255) 100%), conic-gradient(from 181.9deg at 57.0px 186.0px, #2a3a0c 156.1deg, #0e1606 163.1deg, #050803 169.3deg, #122208 176.4deg, #1e3c0e 181.7deg, #2e6018 187.1deg, #3a7420 191.1deg, #4a8a26 194.7deg, #9ab02c 200.3deg);background-blend-mode:normal, normal, multiply, normal;"></div>
<div class="s" style="left:76px;top:499px;width:136px;height:80px;clip-path:polygon(1.20px 47.60px, 1.25px 46.80px, 1.37px 46.00px, 1.58px 45.19px, 1.85px 44.37px, 2.18px 43.56px, 2.56px 42.74px, 2.98px 41.93px, 3.44px 41.13px, 3.91px 40.33px, 4.41px 39.54px, 4.90px 38.76px, 5.40px 38.00px, 5.90px 37.26px, 6.40px 36.53px, 6.92px 35.82px, 7.47px 35.12px, 8.03px 34.43px, 8.63px 33.74px, 9.25px 33.06px, 9.91px 32.37px, 10.61px 31.67px, 11.36px 30.96px, 12.15px 30.24px, 13.00px 29.50px, 13.91px 28.74px, 14.88px 27.96px, 15.90px 27.17px, 16.97px 26.37px, 18.08px 25.56px, 19.23px 24.75px, 20.40px 23.94px, 21.59px 23.13px, 22.79px 22.33px, 24.00px 21.54px, 25.20px 20.76px, 26.40px 20.00px, 27.60px 19.25px, 28.83px 18.52px, 30.07px 17.79px, 31.33px 17.06px, 32.61px 16.35px, 33.89px 15.64px, 35.18px 14.93px, 36.47px 14.24px, 37.76px 13.55px, 39.05px 12.86px, 40.33px 12.18px, 41.60px 11.50px, 42.88px 10.81px, 44.19px 10.11px, 45.51px 9.39px, 46.84px 8.67px, 48.17px 7.96px, 49.49px 7.26px, 50.80px 6.58px, 52.08px 5.93px, 53.33px 5.32px, 54.54px 4.76px, 55.70px 4.25px, 56.80px 3.80px, 57.85px 3.41px, 58.84px 3.08px, 59.80px 2.80px, 60.72px 2.55px, 61.60px 2.35px, 62.46px 2.18px, 63.30px 2.03px, 64.11px 1.91px, 64.92px 1.82px, 65.71px 1.74px, 66.51px 1.66px, 67.30px 1.60px, 68.06px 1.54px, 68.74px 1.47px, 69.38px 1.42px, 69.99px 1.38px, 70.59px 1.36px, 71.19px 1.36px, 71.81px 1.40px, 72.47px 1.48px, 73.20px 1.60px, 74.00px 1.77px, 74.89px 2.00px, 75.90px 2.30px, 77.03px 2.66px, 78.28px 3.09px, 79.62px 3.57px, 81.04px 4.10px, 82.52px 4.67px, 84.04px 5.29px, 85.58px 5.94px, 87.13px 6.61px, 88.66px 7.32px, 90.16px 8.03px, 91.61px 8.76px, 93.00px 9.50px, 94.33px 10.25px, 95.64px 11.03px, 96.93px 11.82px, 98.21px 12.65px, 99.47px 13.49px, 100.72px 14.36px, 101.96px 15.25px, 103.20px 16.16px, 104.44px 17.09px, 105.69px 18.04px, 106.94px 19.01px, 108.20px 20.00px, 109.49px 21.03px, 110.81px 22.12px, 112.15px 23.26px, 113.51px 24.43px, 114.87px 25.62px, 116.21px 26.82px, 117.53px 28.01px, 118.82px 29.18px, 120.06px 30.32px, 121.25px 31.41px, 122.36px 32.44px, 123.40px 33.40px, 124.37px 34.30px, 125.29px 35.16px, 126.17px 35.98px, 127.00px 36.77px, 127.79px 37.52px, 128.53px 38.24px, 129.22px 38.94px, 129.87px 39.60px, 130.47px 40.24px, 131.03px 40.85px, 131.54px 41.44px, 132.00px 42.00px, 132.44px 42.49px, 132.86px 42.85px, 133.26px 43.14px, 133.62px 43.36px, 133.94px 43.56px, 134.20px 43.76px, 134.39px 43.99px, 134.51px 44.29px, 134.54px 44.67px, 134.47px 45.19px, 134.30px 45.85px, 134.00px 46.70px, 133.60px 47.76px, 133.13px 49.03px, 132.57px 50.47px, 131.92px 52.03px, 131.19px 53.69px, 130.37px 55.41px, 129.45px 57.14px, 128.44px 58.86px, 127.34px 60.52px, 126.13px 62.09px, 124.82px 63.53px, 123.40px 64.80px, 121.85px 65.95px, 120.15px 67.04px, 118.31px 68.07px, 116.36px 69.05px, 114.31px 69.97px, 112.18px 70.84px, 109.99px 71.66px, 107.75px 72.43px, 105.49px 73.14px, 103.21px 73.81px, 100.94px 74.43px, 98.70px 75.00px, 96.42px 75.51px, 94.04px 75.96px, 91.58px 76.35px, 89.07px 76.68px, 86.53px 76.96px, 83.99px 77.20px, 81.47px 77.40px, 79.00px 77.56px, 76.59px 77.70px, 74.27px 77.81px, 72.06px 77.91px, 70.00px 78.00px, 68.11px 78.07px, 66.38px 78.13px, 64.79px 78.16px, 63.30px 78.17px, 61.87px 78.15px, 60.48px 78.09px, 59.09px 78.01px, 57.67px 77.89px, 56.18px 77.73px, 54.60px 77.53px, 52.88px 77.29px, 51.00px 77.00px, 48.93px 76.67px, 46.68px 76.32px, 44.30px 75.93px, 41.81px 75.50px, 39.27px 75.04px, 36.69px 74.53px, 34.12px 73.98px, 31.59px 73.39px, 29.13px 72.75px, 26.79px 72.05px, 24.60px 71.30px, 22.60px 70.50px, 20.73px 69.61px, 18.93px 68.61px, 17.21px 67.52px, 15.56px 66.37px, 13.98px 65.16px, 12.49px 63.93px, 11.08px 62.69px, 9.76px 61.46px, 8.52px 60.25px, 7.38px 59.09px, 6.34px 58.00px, 5.40px 57.00px, 4.57px 56.07px, 3.85px 55.20px, 3.24px 54.37px, 2.73px 53.57px, 2.30px 52.80px, 1.96px 52.06px, 1.70px 51.32px, 1.50px 50.60px, 1.35px 49.87px, 1.26px 49.13px, 1.21px 48.38px);background-image:radial-gradient(11.0px 5.0px at 65.3px 5.1px, rgba(150,235,200,0.8) 0%, rgba(110,200,150,0.45) 50%, rgba(110,200,150,0) 100%), radial-gradient(118.4px 91.7px at 67.3px 1.6px, rgb(40,120,45) 0%, rgb(95,170,75) 33%, rgb(205,235,185) 60%, rgb(255,255,255) 80%, rgb(255,255,255) 100%), conic-gradient(from 1.1deg at 60.0px -31.0px, #8a9020 135.4deg, #7a8018 141.3deg, #5a6216 145.9deg, #2a3009 151.6deg, #060a03 155.9deg, #0a1004 160.1deg, #3a420e 164.3deg, #7a7a1c 168.9deg, #b0aa26 174.1deg, #b8b228 182.0deg, #a0aa26 189.5deg, #6a9c22 193.9deg, #2e8420 197.3deg, #1e5e14 199.3deg, #0e340a 200.7deg, #1a4a10 202.2deg, #4a9a22 203.8deg, #b0d030 205.7deg, #e0e834 208.4deg, #e4ec34 214.3deg);background-blend-mode:normal, multiply, normal;"></div>
<div class="s" style="left:76px;top:752px;width:136px;height:79px;clip-path:polygon(1.20px 47.30px, 1.25px 46.50px, 1.37px 45.70px, 1.58px 44.89px, 1.85px 44.07px, 2.18px 43.26px, 2.56px 42.44px, 2.98px 41.63px, 3.44px 40.83px, 3.91px 40.03px, 4.41px 39.24px, 4.90px 38.46px, 5.40px 37.70px, 5.90px 36.96px, 6.40px 36.23px, 6.92px 35.52px, 7.47px 34.82px, 8.03px 34.13px, 8.63px 33.44px, 9.25px 32.76px, 9.91px 32.07px, 10.61px 31.37px, 11.36px 30.66px, 12.15px 29.94px, 13.00px 29.20px, 13.91px 28.44px, 14.88px 27.66px, 15.90px 26.87px, 16.97px 26.07px, 18.08px 25.26px, 19.23px 24.45px, 20.40px 23.64px, 21.59px 22.83px, 22.79px 22.03px, 24.00px 21.24px, 25.20px 20.46px, 26.40px 19.70px, 27.60px 18.95px, 28.83px 18.22px, 30.07px 17.49px, 31.33px 16.76px, 32.61px 16.05px, 33.89px 15.34px, 35.18px 14.63px, 36.47px 13.94px, 37.76px 13.25px, 39.05px 12.56px, 40.33px 11.88px, 41.60px 11.20px, 42.88px 10.51px, 44.19px 9.81px, 45.51px 9.09px, 46.84px 8.37px, 48.17px 7.66px, 49.49px 6.96px, 50.80px 6.28px, 52.08px 5.63px, 53.33px 5.02px, 54.54px 4.46px, 55.70px 3.95px, 56.80px 3.50px, 57.85px 3.11px, 58.84px 2.78px, 59.80px 2.50px, 60.72px 2.25px, 61.60px 2.05px, 62.46px 1.87px, 63.30px 1.73px, 64.11px 1.61px, 64.92px 1.52px, 65.71px 1.44px, 66.51px 1.36px, 67.30px 1.30px, 68.06px 1.24px, 68.74px 1.17px, 69.38px 1.12px, 69.99px 1.08px, 70.59px 1.06px, 71.19px 1.06px, 71.81px 1.10px, 72.47px 1.18px, 73.20px 1.30px, 74.00px 1.47px, 74.89px 1.70px, 75.90px 2.00px, 77.03px 2.36px, 78.28px 2.79px, 79.62px 3.27px, 81.04px 3.80px, 82.52px 4.37px, 84.04px 4.99px, 85.58px 5.64px, 87.13px 6.31px, 88.66px 7.02px, 90.16px 7.73px, 91.61px 8.46px, 93.00px 9.20px, 94.33px 9.95px, 95.64px 10.73px, 96.93px 11.53px, 98.21px 12.35px, 99.47px 13.19px, 100.72px 14.06px, 101.96px 14.95px, 103.20px 15.86px, 104.44px 16.79px, 105.69px 17.74px, 106.94px 18.71px, 108.20px 19.70px, 109.49px 20.73px, 110.81px 21.82px, 112.15px 22.96px, 113.51px 24.13px, 114.87px 25.32px, 116.21px 26.52px, 117.53px 27.71px, 118.82px 28.88px, 120.06px 30.02px, 121.25px 31.11px, 122.36px 32.14px, 123.40px 33.10px, 124.37px 34.00px, 125.29px 34.86px, 126.17px 35.68px, 127.00px 36.47px, 127.79px 37.22px, 128.53px 37.94px, 129.22px 38.64px, 129.87px 39.30px, 130.47px 39.94px, 131.03px 40.55px, 131.54px 41.14px, 132.00px 41.70px, 132.44px 42.19px, 132.86px 42.55px, 133.26px 42.84px, 133.62px 43.06px, 133.94px 43.26px, 134.20px 43.46px, 134.39px 43.69px, 134.51px 43.99px, 134.54px 44.37px, 134.47px 44.89px, 134.30px 45.55px, 134.00px 46.40px, 133.60px 47.46px, 133.13px 48.73px, 132.57px 50.17px, 131.92px 51.73px, 131.19px 53.39px, 130.37px 55.11px, 129.45px 56.84px, 128.44px 58.56px, 127.34px 60.22px, 126.13px 61.79px, 124.82px 63.23px, 123.40px 64.50px, 121.85px 65.65px, 120.15px 66.74px, 118.31px 67.77px, 116.36px 68.75px, 114.31px 69.67px, 112.18px 70.54px, 109.99px 71.36px, 107.75px 72.13px, 105.49px 72.84px, 103.21px 73.51px, 100.94px 74.13px, 98.70px 74.70px, 96.42px 75.21px, 94.04px 75.66px, 91.58px 76.05px, 89.07px 76.38px, 86.53px 76.66px, 83.99px 76.90px, 81.47px 77.10px, 79.00px 77.26px, 76.59px 77.40px, 74.27px 77.51px, 72.06px 77.61px, 70.00px 77.70px, 68.11px 77.77px, 66.38px 77.83px, 64.79px 77.86px, 63.30px 77.87px, 61.87px 77.85px, 60.48px 77.79px, 59.09px 77.71px, 57.67px 77.59px, 56.18px 77.43px, 54.60px 77.23px, 52.88px 76.99px, 51.00px 76.70px, 48.93px 76.37px, 46.68px 76.02px, 44.30px 75.63px, 41.81px 75.20px, 39.27px 74.74px, 36.69px 74.23px, 34.12px 73.68px, 31.59px 73.09px, 29.13px 72.45px, 26.79px 71.75px, 24.60px 71.00px, 22.60px 70.20px, 20.73px 69.31px, 18.93px 68.31px, 17.21px 67.22px, 15.56px 66.07px, 13.98px 64.86px, 12.49px 63.63px, 11.08px 62.39px, 9.76px 61.16px, 8.52px 59.95px, 7.38px 58.79px, 6.34px 57.70px, 5.40px 56.70px, 4.57px 55.77px, 3.85px 54.90px, 3.24px 54.07px, 2.73px 53.27px, 2.30px 52.50px, 1.96px 51.76px, 1.70px 51.02px, 1.50px 50.30px, 1.35px 49.57px, 1.26px 48.83px, 1.21px 48.08px);background-image:radial-gradient(11.0px 5.0px at 65.3px 4.8px, rgba(150,235,200,0.8) 0%, rgba(110,200,150,0.45) 50%, rgba(110,200,150,0) 100%), radial-gradient(118.4px 91.7px at 67.3px 1.3px, rgb(40,120,45) 0%, rgb(95,170,75) 33%, rgb(205,235,185) 60%, rgb(255,255,255) 80%, rgb(255,255,255) 100%), conic-gradient(from 1.1deg at 60.0px -31.3px, #8a9020 135.4deg, #7a8018 141.3deg, #5a6216 145.9deg, #2a3009 151.6deg, #060a03 155.9deg, #0a1004 160.1deg, #3a420e 164.3deg, #7a7a1c 168.9deg, #b0aa26 174.1deg, #b8b228 182.0deg, #a0aa26 189.5deg, #6a9c22 193.9deg, #2e8420 197.3deg, #1e5e14 199.3deg, #0e340a 200.7deg, #1a4a10 202.2deg, #4a9a22 203.8deg, #b0d030 205.7deg, #e0e834 208.4deg, #e4ec34 214.3deg);background-blend-mode:normal, multiply, normal;"></div>
<div class="s" style="left:268px;top:465px;width:138px;height:116px;clip-path:polygon(1.20px 31.60px, 5.70px 27.68px, 10.20px 24.03px, 14.70px 20.66px, 19.20px 17.55px, 23.70px 14.71px, 28.20px 12.14px, 32.70px 9.85px, 37.20px 7.82px, 41.70px 6.06px, 46.20px 4.58px, 50.70px 3.36px, 55.20px 2.42px, 59.70px 1.74px, 64.20px 1.34px, 68.70px 1.20px, 73.20px 1.34px, 77.70px 1.74px, 82.20px 2.42px, 86.70px 3.36px, 91.20px 4.58px, 95.70px 6.06px, 100.20px 7.82px, 104.70px 9.85px, 109.20px 12.14px, 113.70px 14.71px, 118.20px 17.55px, 122.70px 20.66px, 127.20px 24.03px, 131.70px 27.68px, 136.20px 31.60px, 136.20px 114.30px, 131.70px 110.52px, 127.20px 107.01px, 122.70px 103.75px, 118.20px 100.76px, 113.70px 98.02px, 109.20px 95.55px, 104.70px 93.33px, 100.20px 91.38px, 95.70px 89.69px, 91.20px 88.26px, 86.70px 87.08px, 82.20px 86.17px, 77.70px 85.52px, 73.20px 85.13px, 68.70px 85.00px, 64.20px 85.13px, 59.70px 85.52px, 55.20px 86.17px, 50.70px 87.08px, 46.20px 88.26px, 41.70px 89.69px, 37.20px 91.38px, 32.70px 93.33px, 28.20px 95.55px, 23.70px 98.02px, 19.20px 100.76px, 14.70px 103.75px, 10.20px 107.01px, 5.70px 110.52px, 1.20px 114.30px);background-image:radial-gradient(94.5px 100.6px at 66.0px -6.8px, rgb(40,120,50) 0%, rgb(90,165,80) 35%, rgb(200,230,185) 70%, rgb(255,255,255) 100%), conic-gradient(from 4.9deg at 76.8px -24.8px, #6a6a18 131.0deg, #5a5a14 143.8deg, #3a3a0c 151.3deg, #262c08 155.0deg, #090e04 158.0deg, #070b03 162.2deg, #30380c 167.6deg, #7a7a1c 175.1deg, #a09c22 182.8deg, #8a9a22 189.8deg, #5a8a20 195.7deg, #3a7a1e 198.9deg, #143a0a 201.2deg, #1e4a10 202.5deg, #4a7a18 204.3deg, #aab022 212.8deg, #d8d824 226.0deg);background-blend-mode:multiply, normal;"></div>
<div class="s" style="left:460px;top:464px;width:137px;height:117px;clip-path:polygon(1.60px 31.60px, 6.06px 27.73px, 10.51px 24.13px, 14.97px 20.80px, 19.43px 17.73px, 23.88px 14.93px, 28.34px 12.40px, 32.80px 10.13px, 37.25px 8.13px, 41.71px 6.40px, 46.17px 4.93px, 50.62px 3.73px, 55.08px 2.80px, 59.54px 2.13px, 63.99px 1.73px, 68.45px 1.60px, 72.91px 1.73px, 77.36px 2.13px, 81.82px 2.80px, 86.28px 3.73px, 90.73px 4.93px, 95.19px 6.40px, 99.65px 8.13px, 104.10px 10.13px, 108.56px 12.40px, 113.02px 14.93px, 117.47px 17.73px, 121.93px 20.80px, 126.39px 24.13px, 130.84px 27.73px, 135.30px 31.60px, 135.30px 115.30px, 130.84px 111.37px, 126.39px 107.71px, 121.93px 104.32px, 117.47px 101.20px, 113.02px 98.36px, 108.56px 95.78px, 104.10px 93.48px, 99.65px 91.44px, 95.19px 89.68px, 90.73px 88.19px, 86.28px 86.97px, 81.82px 86.02px, 77.36px 85.34px, 72.91px 84.94px, 68.45px 84.80px, 63.99px 84.94px, 59.54px 85.34px, 55.08px 86.02px, 50.62px 86.97px, 46.17px 88.19px, 41.71px 89.68px, 37.25px 91.44px, 32.80px 93.48px, 28.34px 95.78px, 23.88px 98.36px, 19.43px 101.20px, 14.97px 104.32px, 10.51px 107.71px, 6.06px 111.37px, 1.60px 115.30px);background-image:radial-gradient(93.6px 99.8px at 65.8px -6.4px, rgb(40,120,50) 0%, rgb(90,165,80) 35%, rgb(200,230,185) 70%, rgb(255,255,255) 100%), conic-gradient(from 4.9deg at 76.5px -24.4px, #6a6a18 131.1deg, #5a5a14 144.1deg, #3a3a0c 151.7deg, #262c08 155.3deg, #090e04 158.2deg, #070b03 162.3deg, #30380c 167.7deg, #7a7a1c 175.1deg, #a09c22 182.8deg, #8a9a22 189.8deg, #5a8a20 195.6deg, #3a7a1e 198.7deg, #143a0a 201.0deg, #1e4a10 202.2deg, #4a7a18 204.0deg, #aab022 212.5deg, #d8d824 225.9deg);background-blend-mode:multiply, normal;"></div>
<div class="s" style="left:639px;top:463px;width:136px;height:117px;clip-path:polygon(1.60px 28.50px, 6.04px 24.96px, 10.48px 21.66px, 14.92px 18.60px, 19.36px 15.79px, 23.80px 13.22px, 28.24px 10.90px, 32.68px 8.82px, 37.12px 6.99px, 41.56px 5.40px, 46.00px 4.06px, 50.44px 2.96px, 54.88px 2.10px, 59.32px 1.49px, 63.76px 1.12px, 68.20px 1.00px, 72.64px 1.12px, 77.08px 1.49px, 81.52px 2.10px, 85.96px 2.96px, 90.40px 4.06px, 94.84px 5.40px, 99.28px 6.99px, 103.72px 8.82px, 108.16px 10.90px, 112.60px 13.22px, 117.04px 15.79px, 121.48px 18.60px, 125.92px 21.66px, 130.36px 24.96px, 134.80px 28.50px, 134.80px 115.90px, 130.36px 112.10px, 125.92px 108.56px, 121.48px 105.28px, 117.04px 102.26px, 112.60px 99.51px, 108.16px 97.02px, 103.72px 94.79px, 99.28px 92.82px, 94.84px 91.12px, 90.40px 89.68px, 85.96px 88.50px, 81.52px 87.58px, 77.08px 86.92px, 72.64px 86.53px, 68.20px 86.40px, 63.76px 86.53px, 59.32px 86.92px, 54.88px 87.58px, 50.44px 88.50px, 46.00px 89.68px, 41.56px 91.12px, 37.12px 92.82px, 32.68px 94.79px, 28.24px 97.02px, 23.80px 99.51px, 19.36px 102.26px, 14.92px 105.28px, 10.48px 108.56px, 6.04px 112.10px, 1.60px 115.90px);background-image:radial-gradient(93.2px 102.5px at 65.5px -7.0px, rgb(40,120,50) 0%, rgb(90,165,80) 35%, rgb(200,230,185) 70%, rgb(255,255,255) 100%), conic-gradient(from 4.8deg at 76.2px -25.0px, #6a6a18 130.1deg, #5a5a14 144.1deg, #3a3a0c 152.0deg, #262c08 155.6deg, #090e04 158.6deg, #070b03 162.6deg, #30380c 167.9deg, #7a7a1c 175.2deg, #a09c22 182.6deg, #8a9a22 189.5deg, #5a8a20 195.3deg, #3a7a1e 198.4deg, #143a0a 200.7deg, #1e4a10 202.0deg, #4a7a18 203.7deg, #aab022 212.7deg, #d8d824 227.1deg);background-blend-mode:multiply, normal;"></div>
<div class="s" style="left:273px;top:596px;width:119px;height:116px;clip-path:polygon(1.80px 32.80px, 1.98px 30.34px, 2.52px 27.89px, 3.41px 25.47px, 4.64px 23.10px, 6.22px 20.78px, 8.13px 18.54px, 10.36px 16.39px, 12.90px 14.34px, 15.72px 12.41px, 18.82px 10.60px, 22.17px 8.92px, 25.75px 7.40px, 29.54px 6.03px, 33.52px 4.82px, 37.67px 3.79px, 41.95px 2.94px, 46.34px 2.27px, 50.81px 1.79px, 55.34px 1.50px, 59.90px 1.40px, 64.46px 1.50px, 68.99px 1.79px, 73.46px 2.27px, 77.85px 2.94px, 82.13px 3.79px, 86.28px 4.82px, 90.26px 6.03px, 94.05px 7.40px, 97.63px 8.92px, 100.98px 10.60px, 104.08px 12.41px, 106.90px 14.34px, 109.44px 16.39px, 111.67px 18.54px, 113.58px 20.78px, 115.16px 23.10px, 116.39px 25.47px, 117.28px 27.89px, 117.82px 30.34px, 118.00px 32.80px, 118.00px 34.80px, 59.30px 114.60px, 1.80px 34.80px);background-image:radial-gradient(90.0px 90.0px at 59.3px 114.6px, rgb(20,35,15) 0%, rgb(90,120,70) 35%, rgb(255,255,255) 75%, rgb(255,255,255) 100%), conic-gradient(from 177.7deg at 59.3px 114.6px, #7a8a1c 143.6deg, #5a7016 148.9deg, #2a3a0c 163.9deg, #0c1404 191.1deg, #060a02 212.1deg, #0e1604 221.6deg);background-blend-mode:multiply, normal;"></div>
<div class="s" style="left:273px;top:596px;width:119px;height:66px;clip-path:polygon(118.00px 32.80px, 117.86px 34.99px, 117.43px 37.17px, 116.73px 39.33px, 115.75px 41.46px, 114.50px 43.54px, 112.98px 45.57px, 111.20px 47.54px, 109.17px 49.44px, 106.90px 51.26px, 104.41px 52.98px, 101.69px 54.61px, 98.78px 56.13px, 95.67px 57.54px, 92.39px 58.83px, 88.95px 59.99px, 85.37px 61.02px, 81.66px 61.91px, 77.85px 62.66px, 73.96px 63.27px, 69.99px 63.72px, 65.97px 64.03px, 61.93px 64.18px, 57.87px 64.18px, 53.83px 64.03px, 49.81px 63.72px, 45.84px 63.27px, 41.95px 62.66px, 38.14px 61.91px, 34.43px 61.02px, 30.85px 59.99px, 27.41px 58.83px, 24.13px 57.54px, 21.02px 56.13px, 18.11px 54.61px, 15.39px 52.98px, 12.90px 51.26px, 10.63px 49.44px, 8.60px 47.54px, 6.82px 45.57px, 5.30px 43.54px, 4.05px 41.46px, 3.07px 39.33px, 2.37px 37.17px, 1.94px 34.99px, 1.80px 32.80px, 1.94px 30.61px, 2.37px 28.43px, 3.07px 26.27px, 4.05px 24.14px, 5.30px 22.06px, 6.82px 20.03px, 8.60px 18.06px, 10.63px 16.16px, 12.90px 14.34px, 15.39px 12.62px, 18.11px 10.99px, 21.02px 9.47px, 24.13px 8.06px, 27.41px 6.77px, 30.85px 5.61px, 34.43px 4.58px, 38.14px 3.69px, 41.95px 2.94px, 45.84px 2.33px, 49.81px 1.88px, 53.83px 1.57px, 57.87px 1.42px, 61.93px 1.42px, 65.97px 1.57px, 69.99px 1.88px, 73.96px 2.33px, 77.85px 2.94px, 81.66px 3.69px, 85.37px 4.58px, 88.95px 5.61px, 92.39px 6.77px, 95.67px 8.06px, 98.78px 9.47px, 101.69px 10.99px, 104.41px 12.62px, 106.90px 14.34px, 109.17px 16.16px, 111.20px 18.06px, 112.98px 20.03px, 114.50px 22.06px, 115.75px 24.14px, 116.73px 26.27px, 117.43px 28.43px, 117.86px 30.61px, 118.00px 32.80px);background-image:radial-gradient(49.4px 39.2px at 57.0px 65.8px, rgba(5,10,2,0.85) 0%, rgba(5,10,2,0.45) 50%, rgba(0,0,0,0) 100%), conic-gradient(from 180.9deg at 59.3px 114.6px, #8a9a22 144.0deg, #4a5a10 152.7deg, #0a1004 158.8deg, #1e2a08 164.5deg, #5a6816 170.6deg, #8c9422 178.0deg, #94a024 185.3deg, #6a9a22 191.3deg, #4a8a20 195.9deg, #1e4410 199.4deg, #8ab82e 204.2deg, #e6ee48 214.8deg);"></div>
<div class="s" style="left:466px;top:597px;width:119px;height:120px;clip-path:polygon(1.60px 34.00px, 1.78px 31.41px, 2.32px 28.84px, 3.21px 26.30px, 4.44px 23.80px, 6.02px 21.37px, 7.93px 19.02px, 10.16px 16.76px, 12.70px 14.60px, 15.52px 12.57px, 18.62px 10.67px, 21.97px 8.91px, 25.55px 7.30px, 29.34px 5.86px, 33.32px 4.60px, 37.47px 3.51px, 41.75px 2.62px, 46.14px 1.91px, 50.61px 1.41px, 55.14px 1.10px, 59.70px 1.00px, 64.26px 1.10px, 68.79px 1.41px, 73.26px 1.91px, 77.65px 2.62px, 81.93px 3.51px, 86.08px 4.60px, 90.06px 5.86px, 93.85px 7.30px, 97.43px 8.91px, 100.78px 10.67px, 103.88px 12.57px, 106.70px 14.60px, 109.24px 16.76px, 111.47px 19.02px, 113.38px 21.37px, 114.96px 23.80px, 116.19px 26.30px, 117.08px 28.84px, 117.62px 31.41px, 117.80px 34.00px, 117.80px 36.00px, 59.00px 118.80px, 1.60px 36.00px);background-image:radial-gradient(93.3px 93.3px at 59.0px 118.8px, rgb(20,35,15) 0%, rgb(90,120,70) 35%, rgb(255,255,255) 75%, rgb(255,255,255) 100%), conic-gradient(from 177.9deg at 59.0px 118.8px, #7a8a1c 144.6deg, #5a7016 150.2deg, #2a3a0c 165.0deg, #0c1404 190.4deg, #060a02 210.6deg, #0e1604 220.3deg);background-blend-mode:multiply, normal;"></div>
<div class="s" style="left:466px;top:597px;width:119px;height:68px;clip-path:polygon(117.80px 34.00px, 117.66px 36.30px, 117.23px 38.59px, 116.53px 40.86px, 115.55px 43.10px, 114.30px 45.29px, 112.78px 47.42px, 111.00px 49.49px, 108.97px 51.49px, 106.70px 53.40px, 104.21px 55.21px, 101.49px 56.92px, 98.58px 58.52px, 95.47px 60.00px, 92.19px 61.36px, 88.75px 62.58px, 85.17px 63.66px, 81.46px 64.60px, 77.65px 65.38px, 73.76px 66.02px, 69.79px 66.50px, 65.77px 66.82px, 61.73px 66.98px, 57.67px 66.98px, 53.63px 66.82px, 49.61px 66.50px, 45.64px 66.02px, 41.75px 65.38px, 37.94px 64.60px, 34.23px 63.66px, 30.65px 62.58px, 27.21px 61.36px, 23.93px 60.00px, 20.82px 58.52px, 17.91px 56.92px, 15.19px 55.21px, 12.70px 53.40px, 10.43px 51.49px, 8.40px 49.49px, 6.62px 47.42px, 5.10px 45.29px, 3.85px 43.10px, 2.87px 40.86px, 2.17px 38.59px, 1.74px 36.30px, 1.60px 34.00px, 1.74px 31.70px, 2.17px 29.41px, 2.87px 27.14px, 3.85px 24.90px, 5.10px 22.71px, 6.62px 20.58px, 8.40px 18.51px, 10.43px 16.51px, 12.70px 14.60px, 15.19px 12.79px, 17.91px 11.08px, 20.82px 9.48px, 23.93px 8.00px, 27.21px 6.64px, 30.65px 5.42px, 34.23px 4.34px, 37.94px 3.40px, 41.75px 2.62px, 45.64px 1.98px, 49.61px 1.50px, 53.63px 1.18px, 57.67px 1.02px, 61.73px 1.02px, 65.77px 1.18px, 69.79px 1.50px, 73.76px 1.98px, 77.65px 2.62px, 81.46px 3.40px, 85.17px 4.34px, 88.75px 5.42px, 92.19px 6.64px, 95.47px 8.00px, 98.58px 9.48px, 101.49px 11.08px, 104.21px 12.79px, 106.70px 14.60px, 108.97px 16.51px, 111.00px 18.51px, 112.78px 20.58px, 114.30px 22.71px, 115.55px 24.90px, 116.53px 27.14px, 117.23px 29.41px, 117.66px 31.70px, 117.80px 34.00px);background-image:radial-gradient(49.4px 41.2px at 56.8px 68.6px, rgba(5,10,2,0.85) 0%, rgba(5,10,2,0.45) 50%, rgba(0,0,0,0) 100%), conic-gradient(from 180.9deg at 59.0px 118.8px, #8a9a22 145.0deg, #4a5a10 153.6deg, #0a1004 159.5deg, #1e2a08 165.1deg, #5a6816 170.9deg, #8c9422 178.0deg, #94a024 185.1deg, #6a9a22 190.9deg, #4a8a20 195.3deg, #1e4410 198.7deg, #8ab82e 203.4deg, #e6ee48 213.8deg);"></div>
<div class="s" style="left:644px;top:596px;width:118px;height:121px;clip-path:polygon(1.70px 32.80px, 1.88px 30.31px, 2.41px 27.83px, 3.29px 25.38px, 4.52px 22.97px, 6.09px 20.63px, 7.98px 18.36px, 10.20px 16.18px, 12.71px 14.11px, 15.51px 12.15px, 18.59px 10.31px, 21.91px 8.62px, 25.46px 7.07px, 29.23px 5.69px, 33.18px 4.47px, 37.29px 3.42px, 41.54px 2.56px, 45.89px 1.88px, 50.33px 1.39px, 54.83px 1.10px, 59.35px 1.00px, 63.87px 1.10px, 68.37px 1.39px, 72.81px 1.88px, 77.16px 2.56px, 81.41px 3.42px, 85.52px 4.47px, 89.47px 5.69px, 93.24px 7.07px, 96.79px 8.62px, 100.11px 10.31px, 103.19px 12.15px, 105.99px 14.11px, 108.50px 16.18px, 110.72px 18.36px, 112.61px 20.63px, 114.18px 22.97px, 115.41px 25.38px, 116.29px 27.83px, 116.82px 30.31px, 117.00px 32.80px, 117.00px 34.80px, 58.80px 119.50px, 1.70px 34.80px);background-image:radial-gradient(95.4px 95.4px at 58.8px 119.5px, rgb(20,35,15) 0%, rgb(90,120,70) 35%, rgb(255,255,255) 75%, rgb(255,255,255) 100%), conic-gradient(from 177.9deg at 58.8px 119.5px, #7a8a1c 145.5deg, #5a7016 151.2deg, #2a3a0c 165.6deg, #0c1404 189.8deg, #060a02 209.5deg, #0e1604 219.3deg);background-blend-mode:multiply, normal;"></div>
<div class="s" style="left:644px;top:596px;width:118px;height:66px;clip-path:polygon(117.00px 32.80px, 116.86px 35.02px, 116.44px 37.23px, 115.74px 39.41px, 114.77px 41.57px, 113.52px 43.68px, 112.02px 45.73px, 110.25px 47.73px, 108.24px 49.65px, 105.99px 51.49px, 103.51px 53.24px, 100.82px 54.89px, 97.93px 56.43px, 94.84px 57.86px, 91.59px 59.16px, 88.18px 60.34px, 84.62px 61.38px, 80.95px 62.28px, 77.16px 63.04px, 73.30px 63.66px, 69.36px 64.12px, 65.38px 64.43px, 61.36px 64.58px, 57.34px 64.58px, 53.32px 64.43px, 49.34px 64.12px, 45.40px 63.66px, 41.54px 63.04px, 37.75px 62.28px, 34.08px 61.38px, 30.53px 60.34px, 27.11px 59.16px, 23.86px 57.86px, 20.77px 56.43px, 17.88px 54.89px, 15.19px 53.24px, 12.71px 51.49px, 10.46px 49.65px, 8.45px 47.73px, 6.68px 45.73px, 5.18px 43.68px, 3.93px 41.57px, 2.96px 39.41px, 2.26px 37.23px, 1.84px 35.02px, 1.70px 32.80px, 1.84px 30.58px, 2.26px 28.37px, 2.96px 26.19px, 3.93px 24.03px, 5.18px 21.92px, 6.68px 19.87px, 8.45px 17.87px, 10.46px 15.95px, 12.71px 14.11px, 15.19px 12.36px, 17.88px 10.71px, 20.77px 9.17px, 23.86px 7.74px, 27.11px 6.44px, 30.52px 5.26px, 34.08px 4.22px, 37.75px 3.32px, 41.54px 2.56px, 45.40px 1.94px, 49.34px 1.48px, 53.32px 1.17px, 57.34px 1.02px, 61.36px 1.02px, 65.38px 1.17px, 69.36px 1.48px, 73.30px 1.94px, 77.16px 2.56px, 80.95px 3.32px, 84.62px 4.22px, 88.18px 5.26px, 91.59px 6.44px, 94.84px 7.74px, 97.93px 9.17px, 100.82px 10.71px, 103.51px 12.36px, 105.99px 14.11px, 108.24px 15.95px, 110.25px 17.87px, 112.02px 19.87px, 113.52px 21.92px, 114.77px 24.03px, 115.74px 26.19px, 116.44px 28.37px, 116.86px 30.58px, 117.00px 32.80px);background-image:radial-gradient(49.0px 39.8px at 56.5px 66.2px, rgba(5,10,2,0.85) 0%, rgba(5,10,2,0.45) 50%, rgba(0,0,0,0) 100%), conic-gradient(from 180.8deg at 58.8px 119.5px, #8a9a22 145.8deg, #4a5a10 154.1deg, #0a1004 159.8deg, #1e2a08 165.3deg, #5a6816 171.0deg, #8c9422 178.1deg, #94a024 185.0deg, #6a9a22 190.7deg, #4a8a20 195.1deg, #1e4410 198.4deg, #8ab82e 203.0deg, #e6ee48 213.1deg);"></div>
<div class="s" style="left:269px;top:722px;width:128px;height:111px;clip-path:polygon(63.30px 1.30px, 126.50px 73.00px, 126.38px 75.31px, 126.01px 77.61px, 125.39px 79.90px, 124.53px 82.15px, 123.43px 84.37px, 122.09px 86.55px, 120.53px 88.67px, 118.74px 90.73px, 116.73px 92.72px, 114.52px 94.63px, 112.10px 96.46px, 109.49px 98.19px, 106.71px 99.83px, 103.75px 101.35px, 100.63px 102.77px, 97.37px 104.07px, 93.98px 105.25px, 90.47px 106.30px, 86.85px 107.22px, 83.14px 108.00px, 79.36px 108.64px, 75.51px 109.15px, 71.61px 109.51px, 67.69px 109.73px, 63.75px 109.80px, 59.81px 109.73px, 55.89px 109.51px, 51.99px 109.15px, 48.14px 108.64px, 44.36px 108.00px, 40.65px 107.22px, 37.03px 106.30px, 33.52px 105.25px, 30.13px 104.07px, 26.87px 102.77px, 23.75px 101.35px, 20.79px 99.83px, 18.01px 98.19px, 15.40px 96.46px, 12.98px 94.63px, 10.77px 92.72px, 8.76px 90.73px, 6.97px 88.67px, 5.41px 86.55px, 4.07px 84.37px, 2.97px 82.15px, 2.11px 79.90px, 1.49px 77.61px, 1.12px 75.31px, 1.00px 73.00px);background-image:radial-gradient(119.4px 108.5px at 63.3px 1.3px, rgb(25,70,30) 0%, rgb(90,170,80) 30%, rgb(255,255,255) 75%, rgb(255,255,255) 100%), conic-gradient(from 3.3deg at 63.3px -8.7px, #7a7a1a 139.0deg, #5e6216 147.4deg, #3a3e0e 153.6deg, #0a1004 158.4deg, #060a03 163.6deg, #2a3009 167.3deg, #6a6a18 170.4deg, #aaa226 178.0deg, #b4b028 185.6deg, #8aa824 190.6deg, #2e8420 193.5deg, #0e360a 195.2deg, #123e0a 197.2deg, #4a9a22 198.6deg, #a8d030 200.0deg, #e0e232 204.7deg, #dcdc30 214.0deg);background-blend-mode:multiply, normal;"></div>
<div class="s" style="left:463px;top:717px;width:126px;height:116px;clip-path:polygon(62.00px 1.60px, 124.70px 82.00px, 124.58px 84.06px, 124.22px 86.11px, 123.61px 88.15px, 122.77px 90.16px, 121.69px 92.14px, 120.38px 94.07px, 118.85px 95.97px, 117.09px 97.80px, 115.13px 99.58px, 112.95px 101.28px, 110.59px 102.91px, 108.03px 104.45px, 105.30px 105.91px, 102.40px 107.27px, 99.35px 108.54px, 96.15px 109.69px, 92.83px 110.74px, 89.39px 111.68px, 85.84px 112.50px, 82.20px 113.19px, 78.49px 113.77px, 74.72px 114.22px, 70.91px 114.54px, 67.06px 114.74px, 63.20px 114.80px, 59.34px 114.74px, 55.49px 114.54px, 51.68px 114.22px, 47.91px 113.77px, 44.20px 113.19px, 40.56px 112.50px, 37.01px 111.68px, 33.57px 110.74px, 30.25px 109.69px, 27.05px 108.54px, 24.00px 107.27px, 21.10px 105.91px, 18.37px 104.45px, 15.81px 102.91px, 13.45px 101.28px, 11.27px 99.58px, 9.31px 97.80px, 7.55px 95.97px, 6.02px 94.07px, 4.71px 92.14px, 3.63px 90.16px, 2.79px 88.15px, 2.18px 86.11px, 1.82px 84.06px, 1.70px 82.00px);background-image:radial-gradient(124.5px 113.2px at 62.0px 1.6px, rgb(25,70,30) 0%, rgb(90,170,80) 30%, rgb(255,255,255) 75%, rgb(255,255,255) 100%), conic-gradient(from 2.7deg at 62.0px -8.4px, #7a7a1a 142.5deg, #5e6216 149.7deg, #3a3e0e 155.4deg, #0a1004 159.8deg, #060a03 164.6deg, #2a3009 168.1deg, #6a6a18 171.0deg, #aaa226 178.1deg, #b4b028 185.3deg, #8aa824 190.0deg, #2e8420 192.7deg, #0e360a 194.3deg, #123e0a 196.2deg, #4a9a22 197.4deg, #a8d030 198.8deg, #e0e232 203.0deg, #dcdc30 211.0deg);background-blend-mode:multiply, normal;"></div>
<div class="s" style="left:639px;top:716px;width:128px;height:116px;clip-path:polygon(64.30px 1.00px, 126.40px 80.00px, 126.28px 82.20px, 125.91px 84.39px, 125.30px 86.56px, 124.44px 88.70px, 123.35px 90.82px, 122.03px 92.88px, 120.48px 94.90px, 118.70px 96.86px, 116.71px 98.75px, 114.51px 100.57px, 112.11px 102.31px, 109.53px 103.96px, 106.76px 105.51px, 103.83px 106.97px, 100.74px 108.32px, 97.51px 109.55px, 94.14px 110.67px, 90.65px 111.67px, 87.07px 112.54px, 83.39px 113.29px, 79.63px 113.90px, 75.81px 114.38px, 71.95px 114.72px, 68.06px 114.93px, 64.15px 115.00px, 60.24px 114.93px, 56.35px 114.72px, 52.49px 114.38px, 48.67px 113.90px, 44.91px 113.29px, 41.23px 112.54px, 37.65px 111.67px, 34.16px 110.67px, 30.79px 109.55px, 27.56px 108.32px, 24.47px 106.97px, 21.54px 105.51px, 18.77px 103.96px, 16.19px 102.31px, 13.79px 100.57px, 11.59px 98.75px, 9.60px 96.86px, 7.82px 94.90px, 6.27px 92.88px, 4.95px 90.82px, 3.86px 88.70px, 3.00px 86.56px, 2.39px 84.39px, 2.02px 82.20px, 1.90px 80.00px);background-image:radial-gradient(125.4px 114.0px at 64.3px 1.0px, rgb(25,70,30) 0%, rgb(90,170,80) 30%, rgb(255,255,255) 75%, rgb(255,255,255) 100%), conic-gradient(from 3.4deg at 64.3px -9.0px, #7a7a1a 141.7deg, #5e6216 149.3deg, #3a3e0e 155.1deg, #0a1004 159.6deg, #060a03 164.5deg, #2a3009 168.0deg, #6a6a18 170.9deg, #aaa226 178.1deg, #b4b028 185.4deg, #8aa824 190.1deg, #2e8420 192.8deg, #0e360a 194.4deg, #123e0a 196.3deg, #4a9a22 197.6deg, #a8d030 198.9deg, #e0e232 203.3deg, #dcdc30 211.6deg);background-blend-mode:multiply, normal;"></div></div><svg class="L" width="788" height="850" viewBox="0 0 788 850"><defs><filter id="blur1" x="-30%" y="-30%" width="160%" height="160%"><feGaussianBlur stdDeviation="1.3"/></filter><filter id="blur2" x="-50%" y="-50%" width="200%" height="200%"><feGaussianBlur stdDeviation="2.2"/></filter></defs>
<ellipse cx="327" cy="485.5" rx="12" ry="7.5" fill="#60d0a0" opacity="0.6" filter="url(#blur2)"/>
<ellipse cx="327" cy="485.5" rx="8" ry="5" fill="#e8fff8" filter="url(#blur1)"/>
<ellipse cx="524" cy="488.5" rx="18" ry="10" fill="#1a4a1a" fill-opacity="0.7" filter="url(#blur2)"/>
<ellipse cx="523" cy="489.5" rx="19" ry="10.5" fill="none" stroke="#80e8b0" stroke-opacity="0.7" stroke-width="6" filter="url(#blur2)"/>
<path d="M504.5,487 A19,10.5 0 0 0 538,496" fill="none" stroke="#d8fff0" stroke-width="3.2" stroke-linecap="round" filter="url(#blur1)"/>
<path d="M512,481 A19,10.5 0 0 1 541,486" fill="none" stroke="#a0f8d8" stroke-opacity="0.8" stroke-width="2.4" stroke-linecap="round" filter="url(#blur1)"/>
<ellipse cx="704" cy="492.6" rx="32" ry="19" fill="#1a4a1a" fill-opacity="0.75" filter="url(#blur2)"/>
<ellipse cx="704" cy="492.6" rx="34" ry="20.5" fill="none" stroke="#70e0a0" stroke-opacity="0.7" stroke-width="6" filter="url(#blur2)"/>
<ellipse cx="704" cy="492.6" rx="34" ry="20.5" fill="none" stroke="#c8ffe4" stroke-opacity="0.9" stroke-width="2.6" filter="url(#blur1)"/>
<ellipse cx="711" cy="492.6" rx="9" ry="5.5" fill="#60d8a8" opacity="0.7" filter="url(#blur2)"/>
<ellipse cx="711" cy="492.6" rx="6" ry="3.5" fill="#e0fff4" transform="rotate(-20 711 492.6)" filter="url(#blur1)"/>
<defs><filter id="shd" x="-50%" y="-50%" width="200%" height="200%"><feGaussianBlur stdDeviation="1.6"/></filter></defs>
<linearGradient id="ag1" gradientUnits="userSpaceOnUse" x1="451.2" y1="640.1" x2="451.2" y2="617.5"><stop offset="0" stop-color="#6a3ad8"/><stop offset="1" stop-color="#2410b8"/></linearGradient>
<linearGradient id="ag2" gradientUnits="userSpaceOnUse" x1="456.2" y1="608.8" x2="474.5" y2="595.5"><stop offset="0" stop-color="#6a3ad8"/><stop offset="1" stop-color="#2410b8"/></linearGradient>
<linearGradient id="ag3" gradientUnits="userSpaceOnUse" x1="482.1" y1="589.4" x2="503.6" y2="581.9"><stop offset="0" stop-color="#6a3ad8"/><stop offset="1" stop-color="#2410b8"/></linearGradient>
<linearGradient id="ag4" gradientUnits="userSpaceOnUse" x1="510.1" y1="579.7" x2="537.1" y2="579.7"><stop offset="0" stop-color="#6a3ad8"/><stop offset="1" stop-color="#2410b8"/></linearGradient>
<linearGradient id="ag5" gradientUnits="userSpaceOnUse" x1="542.5" y1="581.9" x2="569.4" y2="589.4"><stop offset="0" stop-color="#6a3ad8"/><stop offset="1" stop-color="#2410b8"/></linearGradient>
<linearGradient id="ag6" gradientUnits="userSpaceOnUse" x1="575.9" y1="593.7" x2="592.1" y2="604.5"><stop offset="0" stop-color="#6a3ad8"/><stop offset="1" stop-color="#2410b8"/></linearGradient>
<linearGradient id="ag7" gradientUnits="userSpaceOnUse" x1="598.6" y1="614.2" x2="599.7" y2="636.9"><stop offset="0" stop-color="#6a3ad8"/><stop offset="1" stop-color="#2410b8"/></linearGradient>
<linearGradient id="ag8" gradientUnits="userSpaceOnUse" x1="599.7" y1="644.4" x2="582.4" y2="659.5"><stop offset="0" stop-color="#6a3ad8"/><stop offset="1" stop-color="#2410b8"/></linearGradient>
<linearGradient id="ag9" gradientUnits="userSpaceOnUse" x1="577.0" y1="664.9" x2="557.6" y2="673.6"><stop offset="0" stop-color="#6a3ad8"/><stop offset="1" stop-color="#2410b8"/></linearGradient>
<linearGradient id="ag10" gradientUnits="userSpaceOnUse" x1="546.8" y1="676.8" x2="519.8" y2="676.8"><stop offset="0" stop-color="#6a3ad8"/><stop offset="1" stop-color="#2410b8"/></linearGradient>
<linearGradient id="ag11" gradientUnits="userSpaceOnUse" x1="506.9" y1="675.7" x2="484.2" y2="667.1"><stop offset="0" stop-color="#6a3ad8"/><stop offset="1" stop-color="#2410b8"/></linearGradient>
<linearGradient id="ag12" gradientUnits="userSpaceOnUse" x1="477.8" y1="664.9" x2="458.3" y2="649.8"><stop offset="0" stop-color="#6a3ad8"/><stop offset="1" stop-color="#2410b8"/></linearGradient>
<g opacity="0.45" filter="url(#shd)" transform="translate(2.2,3)"><path d="M452.90,640.10 L452.90,624.90 L455.40,624.90 L451.20,617.50 L447.00,624.90 L449.50,624.90 L449.50,640.10 Z" fill="#555"/><path d="M457.20,610.18 L469.51,601.23 L470.98,603.25 L474.50,595.50 L466.04,596.45 L467.51,598.48 L455.20,607.42 Z" fill="#555"/><path d="M482.66,591.01 L497.17,585.94 L498.00,588.30 L503.60,581.90 L495.23,580.37 L496.05,582.73 L481.54,587.79 Z" fill="#555"/><path d="M510.10,581.40 L529.70,581.40 L529.70,583.90 L537.10,579.70 L529.70,575.50 L529.70,578.00 L510.10,578.00 Z" fill="#555"/><path d="M542.04,583.54 L561.82,589.05 L561.14,591.46 L569.40,589.40 L563.40,583.37 L562.73,585.78 L542.96,580.26 Z" fill="#555"/><path d="M574.96,595.11 L585.00,601.81 L583.61,603.89 L592.10,604.50 L588.27,596.90 L586.89,598.98 L576.84,592.29 Z" fill="#555"/><path d="M596.90,614.28 L597.64,629.59 L595.15,629.71 L599.70,636.90 L603.54,629.31 L601.04,629.43 L600.30,614.12 Z" fill="#555"/><path d="M598.58,643.12 L586.86,653.35 L585.21,651.47 L582.40,659.50 L590.74,657.80 L589.09,655.91 L600.82,645.68 Z" fill="#555"/><path d="M576.30,663.35 L563.66,669.02 L562.63,666.74 L557.60,673.60 L566.07,674.40 L565.05,672.12 L577.70,666.45 Z" fill="#555"/><path d="M546.80,675.10 L527.20,675.10 L527.20,672.60 L519.80,676.80 L527.20,681.00 L527.20,678.50 L546.80,678.50 Z" fill="#555"/><path d="M507.50,674.11 L491.72,668.13 L492.61,665.79 L484.20,667.10 L489.63,673.65 L490.52,671.31 L506.30,677.29 Z" fill="#555"/><path d="M478.84,663.56 L465.19,652.99 L466.72,651.01 L458.30,649.80 L461.58,657.65 L463.11,655.67 L476.76,666.24 Z" fill="#555"/></g>
<g><path d="M452.90,640.10 L452.90,624.90 L455.40,624.90 L451.20,617.50 L447.00,624.90 L449.50,624.90 L449.50,640.10 Z" fill="url(#ag1)"/><path d="M457.20,610.18 L469.51,601.23 L470.98,603.25 L474.50,595.50 L466.04,596.45 L467.51,598.48 L455.20,607.42 Z" fill="url(#ag2)"/><path d="M482.66,591.01 L497.17,585.94 L498.00,588.30 L503.60,581.90 L495.23,580.37 L496.05,582.73 L481.54,587.79 Z" fill="url(#ag3)"/><path d="M510.10,581.40 L529.70,581.40 L529.70,583.90 L537.10,579.70 L529.70,575.50 L529.70,578.00 L510.10,578.00 Z" fill="url(#ag4)"/><path d="M542.04,583.54 L561.82,589.05 L561.14,591.46 L569.40,589.40 L563.40,583.37 L562.73,585.78 L542.96,580.26 Z" fill="url(#ag5)"/><path d="M574.96,595.11 L585.00,601.81 L583.61,603.89 L592.10,604.50 L588.27,596.90 L586.89,598.98 L576.84,592.29 Z" fill="url(#ag6)"/><path d="M596.90,614.28 L597.64,629.59 L595.15,629.71 L599.70,636.90 L603.54,629.31 L601.04,629.43 L600.30,614.12 Z" fill="url(#ag7)"/><path d="M598.58,643.12 L586.86,653.35 L585.21,651.47 L582.40,659.50 L590.74,657.80 L589.09,655.91 L600.82,645.68 Z" fill="url(#ag8)"/><path d="M576.30,663.35 L563.66,669.02 L562.63,666.74 L557.60,673.60 L566.07,674.40 L565.05,672.12 L577.70,666.45 Z" fill="url(#ag9)"/><path d="M546.80,675.10 L527.20,675.10 L527.20,672.60 L519.80,676.80 L527.20,681.00 L527.20,678.50 L546.80,678.50 Z" fill="url(#ag10)"/><path d="M507.50,674.11 L491.72,668.13 L492.61,665.79 L484.20,667.10 L489.63,673.65 L490.52,671.31 L506.30,677.29 Z" fill="url(#ag11)"/><path d="M478.84,663.56 L465.19,652.99 L466.72,651.01 L458.30,649.80 L461.58,657.65 L463.11,655.67 L476.76,666.24 Z" fill="url(#ag12)"/></g>
<linearGradient id="ag13" gradientUnits="userSpaceOnUse" x1="504.7" y1="592.0" x2="487.9" y2="598.5"><stop offset="0" stop-color="#f4ec48"/><stop offset="1" stop-color="#e23c1c"/></linearGradient>
<linearGradient id="ag14" gradientUnits="userSpaceOnUse" x1="534.9" y1="590.5" x2="513.4" y2="590.5"><stop offset="0" stop-color="#f4ec48"/><stop offset="1" stop-color="#e23c1c"/></linearGradient>
<linearGradient id="ag15" gradientUnits="userSpaceOnUse" x1="565.1" y1="598.0" x2="541.4" y2="591.6"><stop offset="0" stop-color="#f4ec48"/><stop offset="1" stop-color="#e23c1c"/></linearGradient>
<linearGradient id="ag16" gradientUnits="userSpaceOnUse" x1="583.5" y1="609.9" x2="570.5" y2="602.4"><stop offset="0" stop-color="#f4ec48"/><stop offset="1" stop-color="#e23c1c"/></linearGradient>
<linearGradient id="ag17" gradientUnits="userSpaceOnUse" x1="588.9" y1="634.7" x2="588.9" y2="617.5"><stop offset="0" stop-color="#f4ec48"/><stop offset="1" stop-color="#e23c1c"/></linearGradient>
<linearGradient id="ag18" gradientUnits="userSpaceOnUse" x1="575.9" y1="653.1" x2="588.9" y2="642.3"><stop offset="0" stop-color="#f4ec48"/><stop offset="1" stop-color="#e23c1c"/></linearGradient>
<linearGradient id="ag19" gradientUnits="userSpaceOnUse" x1="550.0" y1="664.9" x2="568.4" y2="656.3"><stop offset="0" stop-color="#f4ec48"/><stop offset="1" stop-color="#e23c1c"/></linearGradient>
<linearGradient id="ag20" gradientUnits="userSpaceOnUse" x1="517.7" y1="667.1" x2="542.5" y2="667.1"><stop offset="0" stop-color="#f4ec48"/><stop offset="1" stop-color="#e23c1c"/></linearGradient>
<linearGradient id="ag21" gradientUnits="userSpaceOnUse" x1="489.6" y1="658.5" x2="509.0" y2="666.0"><stop offset="0" stop-color="#f4ec48"/><stop offset="1" stop-color="#e23c1c"/></linearGradient>
<linearGradient id="ag22" gradientUnits="userSpaceOnUse" x1="468.0" y1="644.4" x2="482.1" y2="655.2"><stop offset="0" stop-color="#f4ec48"/><stop offset="1" stop-color="#e23c1c"/></linearGradient>
<linearGradient id="ag23" gradientUnits="userSpaceOnUse" x1="461.6" y1="619.6" x2="462.7" y2="635.8"><stop offset="0" stop-color="#f4ec48"/><stop offset="1" stop-color="#e23c1c"/></linearGradient>
<linearGradient id="ag24" gradientUnits="userSpaceOnUse" x1="483.1" y1="602.4" x2="468.0" y2="611.0"><stop offset="0" stop-color="#f4ec48"/><stop offset="1" stop-color="#e23c1c"/></linearGradient>
<g opacity="0.45" filter="url(#shd)" transform="translate(2.2,3)"><path d="M504.09,590.41 L494.19,594.24 L493.29,591.91 L487.90,598.50 L496.32,599.75 L495.41,597.42 L505.31,593.59 Z" fill="#555"/><path d="M534.90,588.80 L520.80,588.80 L520.80,586.30 L513.40,590.50 L520.80,594.70 L520.80,592.20 L534.90,592.20 Z" fill="#555"/><path d="M565.54,596.36 L548.99,591.89 L549.64,589.47 L541.40,591.60 L547.45,597.58 L548.10,595.17 L564.66,599.64 Z" fill="#555"/><path d="M584.35,608.43 L577.76,604.63 L579.01,602.46 L570.50,602.40 L574.81,609.74 L576.06,607.57 L582.65,611.37 Z" fill="#555"/><path d="M590.60,634.70 L590.60,624.90 L593.10,624.90 L588.90,617.50 L584.70,624.90 L587.20,624.90 L587.20,634.70 Z" fill="#555"/><path d="M576.99,654.41 L584.29,648.34 L585.89,650.26 L588.90,642.30 L580.52,643.80 L582.12,645.72 L574.81,651.79 Z" fill="#555"/><path d="M550.72,666.44 L562.42,660.97 L563.47,663.24 L568.40,656.30 L559.92,655.63 L560.98,657.89 L549.28,663.36 Z" fill="#555"/><path d="M517.70,668.80 L535.10,668.80 L535.10,671.30 L542.50,667.10 L535.10,662.90 L535.10,665.40 L517.70,665.40 Z" fill="#555"/><path d="M488.99,660.09 L501.48,664.92 L500.58,667.25 L509.00,666.00 L503.61,659.41 L502.71,661.75 L490.21,656.91 Z" fill="#555"/><path d="M466.97,645.75 L475.19,652.05 L473.67,654.03 L482.10,655.20 L478.78,647.37 L477.26,649.35 L469.03,643.05 Z" fill="#555"/><path d="M459.90,619.72 L460.50,628.53 L458.01,628.70 L462.70,635.80 L466.39,628.13 L463.89,628.30 L463.30,619.48 Z" fill="#555"/><path d="M482.26,600.92 L473.59,605.86 L472.35,603.69 L468.00,611.00 L476.51,610.99 L475.27,608.81 L483.94,603.88 Z" fill="#555"/></g>
<g><path d="M504.09,590.41 L494.19,594.24 L493.29,591.91 L487.90,598.50 L496.32,599.75 L495.41,597.42 L505.31,593.59 Z" fill="url(#ag13)"/><path d="M534.90,588.80 L520.80,588.80 L520.80,586.30 L513.40,590.50 L520.80,594.70 L520.80,592.20 L534.90,592.20 Z" fill="url(#ag14)"/><path d="M565.54,596.36 L548.99,591.89 L549.64,589.47 L541.40,591.60 L547.45,597.58 L548.10,595.17 L564.66,599.64 Z" fill="url(#ag15)"/><path d="M584.35,608.43 L577.76,604.63 L579.01,602.46 L570.50,602.40 L574.81,609.74 L576.06,607.57 L582.65,611.37 Z" fill="url(#ag16)"/><path d="M590.60,634.70 L590.60,624.90 L593.10,624.90 L588.90,617.50 L584.70,624.90 L587.20,624.90 L587.20,634.70 Z" fill="url(#ag17)"/><path d="M576.99,654.41 L584.29,648.34 L585.89,650.26 L588.90,642.30 L580.52,643.80 L582.12,645.72 L574.81,651.79 Z" fill="url(#ag18)"/><path d="M550.72,666.44 L562.42,660.97 L563.47,663.24 L568.40,656.30 L559.92,655.63 L560.98,657.89 L549.28,663.36 Z" fill="url(#ag19)"/><path d="M517.70,668.80 L535.10,668.80 L535.10,671.30 L542.50,667.10 L535.10,662.90 L535.10,665.40 L517.70,665.40 Z" fill="url(#ag20)"/><path d="M488.99,660.09 L501.48,664.92 L500.58,667.25 L509.00,666.00 L503.61,659.41 L502.71,661.75 L490.21,656.91 Z" fill="url(#ag21)"/><path d="M466.97,645.75 L475.19,652.05 L473.67,654.03 L482.10,655.20 L478.78,647.37 L477.26,649.35 L469.03,643.05 Z" fill="url(#ag22)"/><path d="M459.90,619.72 L460.50,628.53 L458.01,628.70 L462.70,635.80 L466.39,628.13 L463.89,628.30 L463.30,619.48 Z" fill="url(#ag23)"/><path d="M482.26,600.92 L473.59,605.86 L472.35,603.69 L468.00,611.00 L476.51,610.99 L475.27,608.81 L483.94,603.88 Z" fill="url(#ag24)"/></g>
<linearGradient id="ag25" gradientUnits="userSpaceOnUse" x1="682.0" y1="593.8" x2="664.3" y2="598.7"><stop offset="0" stop-color="#f4ec48"/><stop offset="1" stop-color="#e23c1c"/></linearGradient>
<linearGradient id="ag26" gradientUnits="userSpaceOnUse" x1="711.5" y1="591.8" x2="688.9" y2="591.8"><stop offset="0" stop-color="#f4ec48"/><stop offset="1" stop-color="#e23c1c"/></linearGradient>
<linearGradient id="ag27" gradientUnits="userSpaceOnUse" x1="739.1" y1="599.7" x2="716.5" y2="593.8"><stop offset="0" stop-color="#f4ec48"/><stop offset="1" stop-color="#e23c1c"/></linearGradient>
<linearGradient id="ag28" gradientUnits="userSpaceOnUse" x1="758.8" y1="611.5" x2="745.0" y2="602.6"><stop offset="0" stop-color="#f4ec48"/><stop offset="1" stop-color="#e23c1c"/></linearGradient>
<linearGradient id="ag29" gradientUnits="userSpaceOnUse" x1="763.7" y1="637.0" x2="762.7" y2="619.3"><stop offset="0" stop-color="#f4ec48"/><stop offset="1" stop-color="#e23c1c"/></linearGradient>
<linearGradient id="ag30" gradientUnits="userSpaceOnUse" x1="750.9" y1="650.8" x2="763.7" y2="642.5"><stop offset="0" stop-color="#f4ec48"/><stop offset="1" stop-color="#e23c1c"/></linearGradient>
<linearGradient id="ag31" gradientUnits="userSpaceOnUse" x1="725.3" y1="665.6" x2="744.0" y2="658.7"><stop offset="0" stop-color="#f4ec48"/><stop offset="1" stop-color="#e23c1c"/></linearGradient>
<linearGradient id="ag32" gradientUnits="userSpaceOnUse" x1="692.9" y1="667.5" x2="717.4" y2="667.5"><stop offset="0" stop-color="#f4ec48"/><stop offset="1" stop-color="#e23c1c"/></linearGradient>
<linearGradient id="ag33" gradientUnits="userSpaceOnUse" x1="665.3" y1="658.7" x2="685.0" y2="666.5"><stop offset="0" stop-color="#f4ec48"/><stop offset="1" stop-color="#e23c1c"/></linearGradient>
<linearGradient id="ag34" gradientUnits="userSpaceOnUse" x1="642.7" y1="644.9" x2="657.5" y2="656.7"><stop offset="0" stop-color="#f4ec48"/><stop offset="1" stop-color="#e23c1c"/></linearGradient>
<linearGradient id="ag35" gradientUnits="userSpaceOnUse" x1="637.8" y1="620.3" x2="638.8" y2="638.0"><stop offset="0" stop-color="#f4ec48"/><stop offset="1" stop-color="#e23c1c"/></linearGradient>
<linearGradient id="ag36" gradientUnits="userSpaceOnUse" x1="657.5" y1="603.6" x2="641.7" y2="613.4"><stop offset="0" stop-color="#f4ec48"/><stop offset="1" stop-color="#e23c1c"/></linearGradient>
<g opacity="0.45" filter="url(#shd)" transform="translate(2.2,3)"><path d="M681.55,592.16 L670.98,595.09 L670.31,592.68 L664.30,598.70 L672.55,600.77 L671.89,598.36 L682.45,595.44 Z" fill="#555"/><path d="M711.50,590.10 L696.30,590.10 L696.30,587.60 L688.90,591.80 L696.30,596.00 L696.30,593.50 L711.50,593.50 Z" fill="#555"/><path d="M739.53,598.06 L724.09,594.02 L724.72,591.61 L716.50,593.80 L722.60,599.73 L723.23,597.31 L738.67,601.34 Z" fill="#555"/><path d="M759.72,610.07 L752.14,605.18 L753.50,603.08 L745.00,602.60 L748.94,610.14 L750.30,608.04 L757.88,612.93 Z" fill="#555"/><path d="M765.40,636.90 L764.81,626.59 L767.31,626.45 L762.70,619.30 L758.92,626.93 L761.42,626.78 L762.00,637.10 Z" fill="#555"/><path d="M751.82,652.23 L758.42,647.95 L759.78,650.05 L763.70,642.50 L755.21,643.00 L756.57,645.10 L749.98,649.37 Z" fill="#555"/><path d="M725.89,667.19 L737.65,662.86 L738.51,665.20 L744.00,658.70 L735.60,657.32 L736.47,659.67 L724.71,664.01 Z" fill="#555"/><path d="M692.90,669.20 L710.00,669.20 L710.00,671.70 L717.40,667.50 L710.00,663.30 L710.00,665.80 L692.90,665.80 Z" fill="#555"/><path d="M664.67,660.28 L677.49,665.36 L676.57,667.68 L685.00,666.50 L679.67,659.87 L678.75,662.20 L665.93,657.12 Z" fill="#555"/><path d="M641.64,646.23 L650.65,653.42 L649.10,655.37 L657.50,656.70 L654.33,648.80 L652.77,650.76 L643.76,643.57 Z" fill="#555"/><path d="M636.10,620.40 L636.69,630.71 L634.19,630.85 L638.80,638.00 L642.58,630.37 L640.08,630.52 L639.50,620.20 Z" fill="#555"/><path d="M656.60,602.16 L647.09,608.05 L645.77,605.93 L641.70,613.40 L650.20,613.07 L648.88,610.94 L658.40,605.04 Z" fill="#555"/></g>
<g><path d="M681.55,592.16 L670.98,595.09 L670.31,592.68 L664.30,598.70 L672.55,600.77 L671.89,598.36 L682.45,595.44 Z" fill="url(#ag25)"/><path d="M711.50,590.10 L696.30,590.10 L696.30,587.60 L688.90,591.80 L696.30,596.00 L696.30,593.50 L711.50,593.50 Z" fill="url(#ag26)"/><path d="M739.53,598.06 L724.09,594.02 L724.72,591.61 L716.50,593.80 L722.60,599.73 L723.23,597.31 L738.67,601.34 Z" fill="url(#ag27)"/><path d="M759.72,610.07 L752.14,605.18 L753.50,603.08 L745.00,602.60 L748.94,610.14 L750.30,608.04 L757.88,612.93 Z" fill="url(#ag28)"/><path d="M765.40,636.90 L764.81,626.59 L767.31,626.45 L762.70,619.30 L758.92,626.93 L761.42,626.78 L762.00,637.10 Z" fill="url(#ag29)"/><path d="M751.82,652.23 L758.42,647.95 L759.78,650.05 L763.70,642.50 L755.21,643.00 L756.57,645.10 L749.98,649.37 Z" fill="url(#ag30)"/><path d="M725.89,667.19 L737.65,662.86 L738.51,665.20 L744.00,658.70 L735.60,657.32 L736.47,659.67 L724.71,664.01 Z" fill="url(#ag31)"/><path d="M692.90,669.20 L710.00,669.20 L710.00,671.70 L717.40,667.50 L710.00,663.30 L710.00,665.80 L692.90,665.80 Z" fill="url(#ag32)"/><path d="M664.67,660.28 L677.49,665.36 L676.57,667.68 L685.00,666.50 L679.67,659.87 L678.75,662.20 L665.93,657.12 Z" fill="url(#ag33)"/><path d="M641.64,646.23 L650.65,653.42 L649.10,655.37 L657.50,656.70 L654.33,648.80 L652.77,650.76 L643.76,643.57 Z" fill="url(#ag34)"/><path d="M636.10,620.40 L636.69,630.71 L634.19,630.85 L638.80,638.00 L642.58,630.37 L640.08,630.52 L639.50,620.20 Z" fill="url(#ag35)"/><path d="M656.60,602.16 L647.09,608.05 L645.77,605.93 L641.70,613.40 L650.20,613.07 L648.88,610.94 L658.40,605.04 Z" fill="url(#ag36)"/></g>
<linearGradient id="ag37" gradientUnits="userSpaceOnUse" x1="448.3" y1="804.0" x2="448.3" y2="777.7"><stop offset="0" stop-color="#6a3ad8"/><stop offset="1" stop-color="#2410b8"/></linearGradient>
<linearGradient id="ag38" gradientUnits="userSpaceOnUse" x1="458.6" y1="767.4" x2="478.0" y2="752.6"><stop offset="0" stop-color="#6a3ad8"/><stop offset="1" stop-color="#2410b8"/></linearGradient>
<linearGradient id="ag39" gradientUnits="userSpaceOnUse" x1="580.8" y1="753.7" x2="597.9" y2="768.6"><stop offset="0" stop-color="#6a3ad8"/><stop offset="1" stop-color="#2410b8"/></linearGradient>
<linearGradient id="ag40" gradientUnits="userSpaceOnUse" x1="605.9" y1="778.8" x2="605.9" y2="800.5"><stop offset="0" stop-color="#6a3ad8"/><stop offset="1" stop-color="#2410b8"/></linearGradient>
<linearGradient id="ag41" gradientUnits="userSpaceOnUse" x1="605.9" y1="808.5" x2="587.6" y2="825.7"><stop offset="0" stop-color="#6a3ad8"/><stop offset="1" stop-color="#2410b8"/></linearGradient>
<linearGradient id="ag42" gradientUnits="userSpaceOnUse" x1="580.8" y1="831.4" x2="559.1" y2="840.5"><stop offset="0" stop-color="#6a3ad8"/><stop offset="1" stop-color="#2410b8"/></linearGradient>
<linearGradient id="ag43" gradientUnits="userSpaceOnUse" x1="549.9" y1="845.1" x2="519.1" y2="845.1"><stop offset="0" stop-color="#6a3ad8"/><stop offset="1" stop-color="#2410b8"/></linearGradient>
<linearGradient id="ag44" gradientUnits="userSpaceOnUse" x1="506.5" y1="843.9" x2="483.7" y2="833.6"><stop offset="0" stop-color="#6a3ad8"/><stop offset="1" stop-color="#2410b8"/></linearGradient>
<linearGradient id="ag45" gradientUnits="userSpaceOnUse" x1="474.5" y1="831.4" x2="454.0" y2="813.1"><stop offset="0" stop-color="#6a3ad8"/><stop offset="1" stop-color="#2410b8"/></linearGradient>
<g opacity="0.45" filter="url(#shd)" transform="translate(2.2,3)"><path d="M450.00,804.00 L450.00,785.10 L452.50,785.10 L448.30,777.70 L444.10,785.10 L446.60,785.10 L446.60,804.00 Z" fill="#555"/><path d="M459.63,768.75 L473.15,758.44 L474.66,760.43 L478.00,752.60 L469.57,753.75 L471.09,755.74 L457.57,766.05 Z" fill="#555"/><path d="M579.68,754.98 L591.20,765.02 L589.56,766.91 L597.90,768.60 L595.08,760.57 L593.44,762.46 L581.92,752.42 Z" fill="#555"/><path d="M604.20,778.80 L604.20,793.10 L601.70,793.10 L605.90,800.50 L610.10,793.10 L607.60,793.10 L607.60,778.80 Z" fill="#555"/><path d="M604.74,807.26 L591.83,819.39 L590.12,817.57 L587.60,825.70 L595.87,823.69 L594.16,821.87 L607.06,809.74 Z" fill="#555"/><path d="M580.14,829.83 L565.27,836.07 L564.30,833.77 L559.10,840.50 L567.55,841.51 L566.58,839.21 L581.46,832.97 Z" fill="#555"/><path d="M549.90,843.40 L526.50,843.40 L526.50,840.90 L519.10,845.10 L526.50,849.30 L526.50,846.80 L549.90,846.80 Z" fill="#555"/><path d="M507.20,842.35 L491.14,835.10 L492.17,832.82 L483.70,833.60 L488.71,840.47 L489.74,838.20 L505.80,845.45 Z" fill="#555"/><path d="M475.63,830.13 L460.65,816.76 L462.32,814.89 L454.00,813.10 L456.72,821.16 L458.39,819.30 L473.37,832.67 Z" fill="#555"/></g>
<g><path d="M450.00,804.00 L450.00,785.10 L452.50,785.10 L448.30,777.70 L444.10,785.10 L446.60,785.10 L446.60,804.00 Z" fill="url(#ag37)"/><path d="M459.63,768.75 L473.15,758.44 L474.66,760.43 L478.00,752.60 L469.57,753.75 L471.09,755.74 L457.57,766.05 Z" fill="url(#ag38)"/><path d="M579.68,754.98 L591.20,765.02 L589.56,766.91 L597.90,768.60 L595.08,760.57 L593.44,762.46 L581.92,752.42 Z" fill="url(#ag39)"/><path d="M604.20,778.80 L604.20,793.10 L601.70,793.10 L605.90,800.50 L610.10,793.10 L607.60,793.10 L607.60,778.80 Z" fill="url(#ag40)"/><path d="M604.74,807.26 L591.83,819.39 L590.12,817.57 L587.60,825.70 L595.87,823.69 L594.16,821.87 L607.06,809.74 Z" fill="url(#ag41)"/><path d="M580.14,829.83 L565.27,836.07 L564.30,833.77 L559.10,840.50 L567.55,841.51 L566.58,839.21 L581.46,832.97 Z" fill="url(#ag42)"/><path d="M549.90,843.40 L526.50,843.40 L526.50,840.90 L519.10,845.10 L526.50,849.30 L526.50,846.80 L549.90,846.80 Z" fill="url(#ag43)"/><path d="M507.20,842.35 L491.14,835.10 L492.17,832.82 L483.70,833.60 L488.71,840.47 L489.74,838.20 L505.80,845.45 Z" fill="url(#ag44)"/><path d="M475.63,830.13 L460.65,816.76 L462.32,814.89 L454.00,813.10 L456.72,821.16 L458.39,819.30 L473.37,832.67 Z" fill="url(#ag45)"/></g>
<linearGradient id="ag46" gradientUnits="userSpaceOnUse" x1="480.3" y1="764.0" x2="462.0" y2="775.4"><stop offset="0" stop-color="#f4ec48"/><stop offset="1" stop-color="#e23c1c"/></linearGradient>
<linearGradient id="ag47" gradientUnits="userSpaceOnUse" x1="458.6" y1="784.5" x2="459.7" y2="804.0"><stop offset="0" stop-color="#f4ec48"/><stop offset="1" stop-color="#e23c1c"/></linearGradient>
<linearGradient id="ag48" gradientUnits="userSpaceOnUse" x1="465.4" y1="813.1" x2="481.4" y2="825.7"><stop offset="0" stop-color="#f4ec48"/><stop offset="1" stop-color="#e23c1c"/></linearGradient>
<linearGradient id="ag49" gradientUnits="userSpaceOnUse" x1="487.1" y1="830.2" x2="508.8" y2="837.1"><stop offset="0" stop-color="#f4ec48"/><stop offset="1" stop-color="#e23c1c"/></linearGradient>
<linearGradient id="ag50" gradientUnits="userSpaceOnUse" x1="518.0" y1="838.2" x2="544.2" y2="838.2"><stop offset="0" stop-color="#f4ec48"/><stop offset="1" stop-color="#e23c1c"/></linearGradient>
<linearGradient id="ag51" gradientUnits="userSpaceOnUse" x1="552.2" y1="833.6" x2="571.6" y2="826.8"><stop offset="0" stop-color="#f4ec48"/><stop offset="1" stop-color="#e23c1c"/></linearGradient>
<linearGradient id="ag52" gradientUnits="userSpaceOnUse" x1="577.3" y1="822.2" x2="592.2" y2="809.7"><stop offset="0" stop-color="#f4ec48"/><stop offset="1" stop-color="#e23c1c"/></linearGradient>
<linearGradient id="ag53" gradientUnits="userSpaceOnUse" x1="592.2" y1="801.7" x2="593.3" y2="782.3"><stop offset="0" stop-color="#f4ec48"/><stop offset="1" stop-color="#e23c1c"/></linearGradient>
<linearGradient id="ag54" gradientUnits="userSpaceOnUse" x1="586.5" y1="774.3" x2="572.8" y2="762.8"><stop offset="0" stop-color="#f4ec48"/><stop offset="1" stop-color="#e23c1c"/></linearGradient>
<g opacity="0.45" filter="url(#shd)" transform="translate(2.2,3)"><path d="M479.40,762.56 L467.38,770.04 L466.06,767.92 L462.00,775.40 L470.50,775.05 L469.18,772.93 L481.20,765.44 Z" fill="#555"/><path d="M456.90,784.60 L457.59,796.71 L455.09,796.85 L459.70,804.00 L463.48,796.38 L460.98,796.52 L460.30,784.40 Z" fill="#555"/><path d="M464.35,814.44 L474.53,822.46 L472.99,824.42 L481.40,825.70 L478.18,817.82 L476.64,819.79 L466.45,811.76 Z" fill="#555"/><path d="M486.58,831.82 L501.23,836.48 L500.48,838.86 L508.80,837.10 L503.02,830.86 L502.26,833.24 L487.62,828.58 Z" fill="#555"/><path d="M518.00,839.90 L536.80,839.90 L536.80,842.40 L544.20,838.20 L536.80,834.00 L536.80,836.50 L518.00,836.50 Z" fill="#555"/><path d="M552.76,835.20 L565.18,830.85 L566.01,833.21 L571.60,826.80 L563.23,825.28 L564.05,827.64 L551.64,832.00 Z" fill="#555"/><path d="M578.39,823.50 L587.62,815.76 L589.23,817.67 L592.20,809.70 L583.83,811.24 L585.44,813.15 L576.21,820.90 Z" fill="#555"/><path d="M593.90,801.80 L594.58,789.78 L597.07,789.93 L593.30,782.30 L588.69,789.45 L591.18,789.59 L590.50,801.60 Z" fill="#555"/><path d="M587.59,773.00 L579.56,766.26 L581.17,764.34 L572.80,762.80 L575.77,770.77 L577.37,768.86 L585.41,775.60 Z" fill="#555"/></g>
<g><path d="M479.40,762.56 L467.38,770.04 L466.06,767.92 L462.00,775.40 L470.50,775.05 L469.18,772.93 L481.20,765.44 Z" fill="url(#ag46)"/><path d="M456.90,784.60 L457.59,796.71 L455.09,796.85 L459.70,804.00 L463.48,796.38 L460.98,796.52 L460.30,784.40 Z" fill="url(#ag47)"/><path d="M464.35,814.44 L474.53,822.46 L472.99,824.42 L481.40,825.70 L478.18,817.82 L476.64,819.79 L466.45,811.76 Z" fill="url(#ag48)"/><path d="M486.58,831.82 L501.23,836.48 L500.48,838.86 L508.80,837.10 L503.02,830.86 L502.26,833.24 L487.62,828.58 Z" fill="url(#ag49)"/><path d="M518.00,839.90 L536.80,839.90 L536.80,842.40 L544.20,838.20 L536.80,834.00 L536.80,836.50 L518.00,836.50 Z" fill="url(#ag50)"/><path d="M552.76,835.20 L565.18,830.85 L566.01,833.21 L571.60,826.80 L563.23,825.28 L564.05,827.64 L551.64,832.00 Z" fill="url(#ag51)"/><path d="M578.39,823.50 L587.62,815.76 L589.23,817.67 L592.20,809.70 L583.83,811.24 L585.44,813.15 L576.21,820.90 Z" fill="url(#ag52)"/><path d="M593.90,801.80 L594.58,789.78 L597.07,789.93 L593.30,782.30 L588.69,789.45 L591.18,789.59 L590.50,801.60 Z" fill="url(#ag53)"/><path d="M587.59,773.00 L579.56,766.26 L581.17,764.34 L572.80,762.80 L575.77,770.77 L577.37,768.86 L585.41,775.60 Z" fill="url(#ag54)"/></g>
<linearGradient id="ag55" gradientUnits="userSpaceOnUse" x1="634.9" y1="802.9" x2="634.9" y2="784.8"><stop offset="0" stop-color="#6a3ad8"/><stop offset="1" stop-color="#2410b8"/></linearGradient>
<linearGradient id="ag56" gradientUnits="userSpaceOnUse" x1="638.1" y1="778.4" x2="655.2" y2="765.2"><stop offset="0" stop-color="#6a3ad8"/><stop offset="1" stop-color="#2410b8"/></linearGradient>
<linearGradient id="ag57" gradientUnits="userSpaceOnUse" x1="752.2" y1="764.5" x2="766.1" y2="775.2"><stop offset="0" stop-color="#6a3ad8"/><stop offset="1" stop-color="#2410b8"/></linearGradient>
<linearGradient id="ag58" gradientUnits="userSpaceOnUse" x1="770.3" y1="781.6" x2="771.4" y2="801.8"><stop offset="0" stop-color="#6a3ad8"/><stop offset="1" stop-color="#2410b8"/></linearGradient>
<linearGradient id="ag59" gradientUnits="userSpaceOnUse" x1="769.3" y1="809.3" x2="756.5" y2="820.0"><stop offset="0" stop-color="#6a3ad8"/><stop offset="1" stop-color="#2410b8"/></linearGradient>
<linearGradient id="ag60" gradientUnits="userSpaceOnUse" x1="749.0" y1="825.3" x2="729.8" y2="833.8"><stop offset="0" stop-color="#6a3ad8"/><stop offset="1" stop-color="#2410b8"/></linearGradient>
<linearGradient id="ag61" gradientUnits="userSpaceOnUse" x1="720.2" y1="834.9" x2="694.6" y2="833.8"><stop offset="0" stop-color="#6a3ad8"/><stop offset="1" stop-color="#2410b8"/></linearGradient>
<linearGradient id="ag62" gradientUnits="userSpaceOnUse" x1="685.0" y1="833.8" x2="664.8" y2="827.4"><stop offset="0" stop-color="#6a3ad8"/><stop offset="1" stop-color="#2410b8"/></linearGradient>
<linearGradient id="ag63" gradientUnits="userSpaceOnUse" x1="657.3" y1="823.2" x2="640.3" y2="812.5"><stop offset="0" stop-color="#6a3ad8"/><stop offset="1" stop-color="#2410b8"/></linearGradient>
<g opacity="0.45" filter="url(#shd)" transform="translate(2.2,3)"><path d="M636.60,802.90 L636.60,792.20 L639.10,792.20 L634.90,784.80 L630.70,792.20 L633.20,792.20 L633.20,802.90 Z" fill="#555"/><path d="M639.14,779.75 L650.38,771.07 L651.91,773.05 L655.20,765.20 L646.78,766.40 L648.30,768.38 L637.06,777.05 Z" fill="#555"/><path d="M751.16,765.85 L759.20,772.03 L757.67,774.01 L766.10,775.20 L762.80,767.36 L761.27,769.34 L753.24,763.15 Z" fill="#555"/><path d="M768.60,781.69 L769.30,794.50 L766.80,794.64 L771.40,801.80 L775.19,794.18 L772.70,794.32 L772.00,781.51 Z" fill="#555"/><path d="M768.21,808.00 L761.09,813.95 L759.48,812.03 L756.50,820.00 L764.87,818.48 L763.27,816.56 L770.39,810.60 Z" fill="#555"/><path d="M748.31,823.75 L735.88,829.25 L734.87,826.96 L729.80,833.80 L738.27,834.64 L737.25,832.36 L749.69,826.85 Z" fill="#555"/><path d="M720.27,833.20 L702.07,832.42 L702.17,829.92 L694.60,833.80 L701.81,838.31 L701.92,835.82 L720.13,836.60 Z" fill="#555"/><path d="M685.51,832.18 L672.37,828.01 L673.12,825.63 L664.80,827.40 L670.59,833.64 L671.34,831.26 L684.49,835.42 Z" fill="#555"/><path d="M658.21,821.76 L647.47,815.00 L648.80,812.89 L640.30,812.50 L644.33,820.00 L645.66,817.88 L656.39,824.64 Z" fill="#555"/></g>
<g><path d="M636.60,802.90 L636.60,792.20 L639.10,792.20 L634.90,784.80 L630.70,792.20 L633.20,792.20 L633.20,802.90 Z" fill="url(#ag55)"/><path d="M639.14,779.75 L650.38,771.07 L651.91,773.05 L655.20,765.20 L646.78,766.40 L648.30,768.38 L637.06,777.05 Z" fill="url(#ag56)"/><path d="M751.16,765.85 L759.20,772.03 L757.67,774.01 L766.10,775.20 L762.80,767.36 L761.27,769.34 L753.24,763.15 Z" fill="url(#ag57)"/><path d="M768.60,781.69 L769.30,794.50 L766.80,794.64 L771.40,801.80 L775.19,794.18 L772.70,794.32 L772.00,781.51 Z" fill="url(#ag58)"/><path d="M768.21,808.00 L761.09,813.95 L759.48,812.03 L756.50,820.00 L764.87,818.48 L763.27,816.56 L770.39,810.60 Z" fill="url(#ag59)"/><path d="M748.31,823.75 L735.88,829.25 L734.87,826.96 L729.80,833.80 L738.27,834.64 L737.25,832.36 L749.69,826.85 Z" fill="url(#ag60)"/><path d="M720.27,833.20 L702.07,832.42 L702.17,829.92 L694.60,833.80 L701.81,838.31 L701.92,835.82 L720.13,836.60 Z" fill="url(#ag61)"/><path d="M685.51,832.18 L672.37,828.01 L673.12,825.63 L664.80,827.40 L670.59,833.64 L671.34,831.26 L684.49,835.42 Z" fill="url(#ag62)"/><path d="M658.21,821.76 L647.47,815.00 L648.80,812.89 L640.30,812.50 L644.33,820.00 L645.66,817.88 L656.39,824.64 Z" fill="url(#ag63)"/></g></svg>
</body></html>
